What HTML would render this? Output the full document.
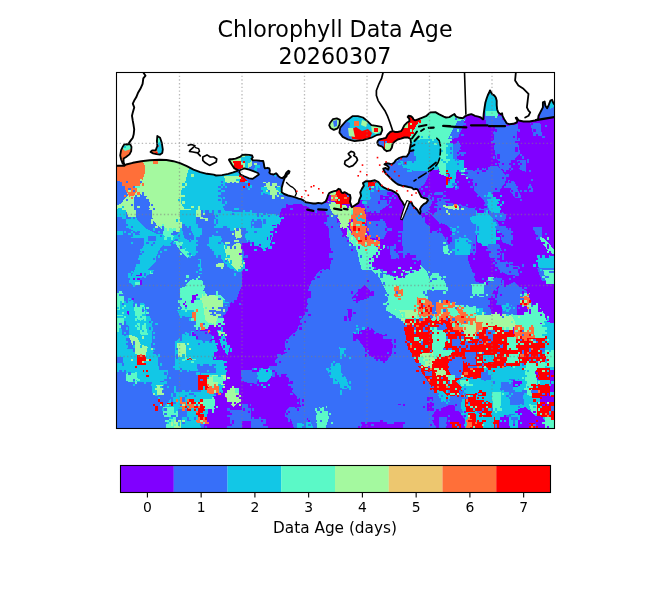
<!DOCTYPE html>
<html><head><meta charset="utf-8"><title>Chlorophyll Data Age</title>
<style>
html,body{margin:0;padding:0;background:#fff;}
svg{display:block;}
text{font-family:"DejaVu Sans","Liberation Sans",sans-serif;fill:#000;}
</style></head><body>
<svg width="653" height="600" viewBox="0 0 653 600">
<rect width="653" height="600" fill="#fff"/>
<text x="335" y="36.5" text-anchor="middle" font-size="22.2">Chlorophyll Data Age</text>
<text x="335" y="63.8" text-anchor="middle" font-size="22.2">20260307</text>
<defs><clipPath id="mc"><rect x="116" y="72" width="438" height="356"/></clipPath></defs>
<g clip-path="url(#mc)" shape-rendering="crispEdges">
<rect x="116" y="72" width="438" height="356" fill="#fff"/>
<svg x="116" y="72" width="110" height="89" viewBox="0 0 653 528.34" preserveAspectRatio="none"><rect width="653" height="529" fill="#a4f99f"/><polygon fill="#ff6f39" points="0,480 150,480 160,528 0,528"/></svg>
<svg x="226" y="72" width="110" height="89" viewBox="0 0 653 528.34" preserveAspectRatio="none"><rect width="653" height="529" fill="#a4f99f"/><polygon fill="#12c7e6" points="0,400 300,400 300,528 0,528"/>
<polygon fill="#a4f99f" points="0,480 160,470 200,528 0,528"/>
<polygon fill="#ff0000" points="40,440 90,440 90,500 45,500"/>
<polygon fill="#5bf9c7" points="80,450 130,450 130,510 80,510"/></svg>
<svg x="336" y="72" width="110" height="89" viewBox="0 0 653 528.34" preserveAspectRatio="none"><rect width="653" height="529" fill="#5bf9c7"/><polygon fill="#ff0000" points="230,392 320,332 392,297 421,250 451,250 487,262 500,279 475,321 451,362 433,398 410,422 380,440 350,469 314,478 267,466 232,436"/>
<polygon fill="#376ff9" points="249,405 285,410 285,445 252,445"/>
<polygon fill="#a4f99f" points="291,421 332,421 332,463 291,463"/>
<polygon fill="#a4f99f" points="400,300 430,300 430,330 400,330"/>
<polygon fill="#12c7e6" points="430,420 520,395 600,400 620,440 617,528 430,528"/>
<polygon fill="#376ff9" points="380,470 460,460 470,528 380,528"/></svg>
<svg x="446" y="72" width="110" height="89" viewBox="0 0 653 528.34" preserveAspectRatio="none"><rect width="653" height="529" fill="#8000ff"/><polygon fill="#5bf9c7" points="0,250 120,255 110,290 60,330 30,380 40,430 50,528 0,528"/>
<polygon fill="#376ff9" points="70,290 110,285 100,330 70,392 10,400 30,360"/>
<polygon fill="#12c7e6" points="0,420 40,420 50,528 0,528"/>
<polygon fill="#376ff9" points="40,430 80,420 90,480 60,528 40,528"/>
<polygon fill="#12c7e6" points="225,100 300,100 312,250 300,270 230,270"/>
<polygon fill="#5bf9c7" points="235,230 305,230 312,290 240,290"/>
<polygon fill="#376ff9" points="230,262 350,262 362,312 240,312"/>
<polygon fill="#376ff9" points="290,330 430,310 420,380 440,480 400,528 300,528 280,420"/>
<polygon fill="#376ff9" points="500,300 560,300 570,380 520,380"/>
<polygon fill="#376ff9" points="560,150 653,150 653,260 560,280"/>
<polygon fill="#12c7e6" points="600,150 653,150 653,200 620,220"/></svg>
<svg x="116" y="161" width="110" height="89" viewBox="0 0 653 528.34" preserveAspectRatio="none"><rect width="653" height="529" fill="#376ff9"/><polygon fill="#a4f99f" points="20,190 100,180 140,130 150,60 140,0 425,0 430,50 405,150 390,220 382,300 390,340 375,380 368,450 345,460 300,425 250,395 232,350 218,300 150,300 90,300 40,310 10,300 15,240"/>
<polygon fill="#376ff9" points="108,212 150,195 190,205 205,240 210,292 180,302 130,292 110,262"/>
<polygon fill="#ff6f39" points="10,35 60,22 150,8 165,40 162,80 150,110 140,140 120,170 100,200 90,218 70,200 58,175 48,150 30,135 10,125"/>
<polygon fill="#ff6f39" points="215,0 250,0 245,20 222,22"/>
<polygon fill="#12c7e6" points="430,40 500,62 560,82 600,96 653,102 653,135 615,150 612,230 600,280 560,300 525,290 495,300 455,300 420,285 390,262 388,200 402,150 420,100"/>
<polygon fill="#12c7e6" points="0,300 40,310 90,300 130,320 120,360 90,368 50,345 20,340 0,345"/>
<polygon fill="#12c7e6" points="110,330 160,320 220,330 235,360 250,395 230,420 200,430 160,410 130,390 110,360"/>
<polygon fill="#12c7e6" points="200,430 240,420 280,440 300,470 290,528 200,528 180,480"/>
<polygon fill="#5bf9c7" points="262,385 300,390 330,410 320,430 285,425"/>
<polygon fill="#5bf9c7" points="330,440 365,440 380,470 370,510 340,515 320,480"/>
<polygon fill="#12c7e6" points="410,285 460,300 520,300 530,340 500,380 480,430 450,450 420,420 400,380 395,330"/>
<polygon fill="#5bf9c7" points="440,290 490,300 500,330 470,350 450,330"/>
<polygon fill="#12c7e6" points="560,330 620,320 653,330 653,420 610,410 575,380"/>
<polygon fill="#12c7e6" points="80,440 140,430 180,450 170,480 120,485 90,470"/>
<polygon fill="#12c7e6" points="600,460 653,450 653,528 610,528"/>
<polygon fill="#12c7e6" points="520,470 560,470 570,500 540,520"/></svg>
<svg x="226" y="161" width="110" height="89" viewBox="0 0 653 528.34" preserveAspectRatio="none"><rect width="653" height="529" fill="#376ff9"/><polygon fill="#12c7e6" points="0,80 60,70 120,100 110,130 60,135 0,130"/>
<polygon fill="#5bf9c7" points="0,95 40,90 50,110 20,120 0,118"/>
<polygon fill="#12c7e6" points="130,110 200,100 280,110 330,130 345,170 340,200 300,205 240,190 180,170 130,150"/>
<polygon fill="#a4f99f" points="200,140 250,150 300,170 330,190 300,200 250,190 210,170"/>
<polygon fill="#5bf9c7" points="80,140 140,150 150,165 100,165"/>
<polygon fill="#12c7e6" points="0,290 20,300 15,340 0,345"/>
<polygon fill="#8000ff" points="335,268 380,262 430,260 480,268 510,288 560,300 590,318 600,360 606,400 620,450 632,528 120,528 130,500 200,492 258,462 278,420 290,385 312,345 325,300"/>
<polygon fill="#12c7e6" points="140,340 200,330 250,318 300,328 330,338 318,380 292,392 280,420 268,460 248,480 210,490 170,480 150,450 140,400"/>
<polygon fill="#12c7e6" points="95,340 140,340 140,380 100,380"/>
<polygon fill="#a4f99f" points="45,390 95,385 105,430 95,470 60,470 40,440"/>
<polygon fill="#12c7e6" points="0,440 45,440 60,470 50,500 0,500"/>
<polygon fill="#a4f99f" points="0,490 40,485 60,528 0,528"/>
<polygon fill="#a4f99f" points="610,190 653,185 653,300 620,300 610,250"/>
<polygon fill="#ff6f39" points="638,200 653,198 653,232 640,230"/></svg>
<svg x="336" y="161" width="110" height="89" viewBox="0 0 653 528.34" preserveAspectRatio="none"><rect width="653" height="529" fill="#8000ff"/><polygon fill="#376ff9" points="270,0 540,0 560,60 530,130 500,160 470,200 420,200 300,150 280,60"/>
<polygon fill="#12c7e6" points="380,0 617,0 610,50 540,60 470,60 400,40"/>
<polygon fill="#5bf9c7" points="600,0 653,0 653,90 620,80"/>
<polygon fill="#376ff9" points="0,250 150,250 170,200 250,190 330,200 400,230 420,260 380,290 300,280 250,270 190,300 160,310 150,528 0,528"/>
<polygon fill="#ff0000" points="0,175 30,170 60,200 80,230 90,260 60,262 20,260 0,258"/>
<polygon fill="#a4f99f" points="0,258 70,262 110,290 120,330 70,335 20,320 0,310"/>
<polygon fill="#ff6f39" points="90,285 140,280 160,300 170,340 165,380 180,420 200,460 230,500 240,528 120,528 100,470 95,420 100,360"/>
<polygon fill="#a4f99f" points="60,380 100,380 110,440 120,528 80,528 70,470"/>
<polygon fill="#12c7e6" points="125,335 150,340 150,360 128,358"/>
<polygon fill="#376ff9" points="200,370 300,375 310,420 260,440 205,430"/>
<polygon fill="#376ff9" points="560,190 653,180 653,380 610,370 600,300 570,260"/>
<polygon fill="#376ff9" points="570,420 653,400 653,528 560,528"/>





<polygon fill="#12c7e6" points="120,200 160,195 170,220 130,225"/></svg>
<svg x="446" y="161" width="110" height="89" viewBox="0 0 653 528.34" preserveAspectRatio="none"><rect width="653" height="529" fill="#8000ff"/><polygon fill="#12c7e6" points="0,0 80,0 82,40 62,80 72,130 40,160 0,160"/>
<polygon fill="#ff0000" points="0,70 20,72 22,140 0,140"/>
<polygon fill="#5bf9c7" points="85,50 110,45 120,65 100,80"/>
<polygon fill="#376ff9" points="240,0 400,0 395,60 360,80 300,60 245,40"/>
<polygon fill="#376ff9" points="430,0 470,0 470,60 440,40"/>
<polygon fill="#376ff9" points="120,55 240,42 300,62 360,82 350,112 300,132 282,172 300,232 332,262 352,320 330,352 290,342 250,322 200,272 160,222 150,182 130,132 110,100"/>
<polygon fill="#376ff9" points="0,272 150,262 180,290 205,320 262,340 302,382 322,422 302,528 0,528"/>
<polygon fill="#12c7e6" points="150,322 232,300 282,330 302,400 302,500 252,528 180,528 170,450 180,400"/>
<polygon fill="#12c7e6" points="240,260 290,250 320,290 300,320 250,310"/>
<polygon fill="#12c7e6" points="20,390 70,385 80,430 30,440"/>
<polygon fill="#a4f99f" points="20,258 70,255 82,280 50,300 20,292"/>
<polygon fill="#ff6f39" points="45,262 62,260 64,275 48,276"/>
<polygon fill="#376ff9" points="370,118 410,140 440,220 400,210 380,170"/>
<polygon fill="#376ff9" points="475,140 505,150 520,185 490,180"/>
<polygon fill="#376ff9" points="300,390 380,400 380,460 320,470"/>
<polygon fill="#12c7e6" points="510,400 560,430 600,480 630,528 580,528 540,470"/></svg>
<svg x="116" y="250" width="110" height="89" viewBox="0 0 653 528.34" preserveAspectRatio="none"><rect width="653" height="529" fill="#376ff9"/><polygon fill="#12c7e6" points="100,60 150,30 200,10 245,0 260,40 240,90 200,140 150,180 110,210 80,190 70,150 100,110"/>
<polygon fill="#5bf9c7" points="200,120 230,110 225,140 205,145"/>
<polygon fill="#8000ff" points="120,150 145,148 148,180 125,182"/>
<polygon fill="#12c7e6" points="385,0 470,0 462,40 420,52 390,32"/>
<polygon fill="#5bf9c7" points="415,10 450,15 440,40 420,40"/>
<polygon fill="#12c7e6" points="560,0 653,0 653,40 600,45 565,30"/>
<polygon fill="#12c7e6" points="490,60 520,60 530,140 500,130"/>
<polygon fill="#5bf9c7" points="610,80 640,80 640,110 612,110"/>
<polygon fill="#5bf9c7" points="380,220 430,180 480,170 520,200 560,230 600,260 653,270 653,528 560,528 520,500 480,470 460,440 440,400 400,380 378,340 372,280"/>
<polygon fill="#a4f99f" points="500,250 560,240 620,270 653,280 653,420 600,400 560,380 520,330"/>
<polygon fill="#376ff9" points="570,350 653,340 653,420 580,410"/>
<polygon fill="#12c7e6" points="440,260 480,250 500,300 470,340 440,320"/>
<polygon fill="#8000ff" points="540,430 600,420 653,430 653,528 540,528"/>
<polygon fill="#ff6f39" points="450,372 472,370 482,418 458,420"/>
<polygon fill="#ff6f39" points="492,432 520,440 530,490 500,485"/>
<polygon fill="#8000ff" points="455,280 470,275 468,300 455,302"/>
<polygon fill="#12c7e6" points="0,260 40,270 80,300 130,320 170,330 182,380 200,430 212,480 200,528 0,528"/>
<polygon fill="#5bf9c7" points="0,260 40,270 50,330 20,350 0,340"/>
<polygon fill="#5bf9c7" points="110,320 170,330 175,370 130,380 100,360"/>
<polygon fill="#a4f99f" points="30,460 90,450 110,500 90,528 30,528"/>
<polygon fill="#5bf9c7" points="140,420 190,420 205,470 160,480"/>
<polygon fill="#8000ff" points="70,288 110,286 105,300 72,300"/>
<polygon fill="#8000ff" points="62,340 92,338 88,370 64,372"/></svg>
<svg x="226" y="250" width="110" height="89" viewBox="0 0 653 528.34" preserveAspectRatio="none"><rect width="653" height="529" fill="#8000ff"/><polygon fill="#376ff9" points="0,0 120,0 118,30 100,40 95,100 90,150 85,200 80,260 60,290 40,300 35,400 20,430 0,430"/>
<polygon fill="#12c7e6" points="0,0 95,0 100,60 95,110 80,150 50,140 0,100"/>
<polygon fill="#a4f99f" points="0,0 60,0 60,40 30,60 0,60"/>
<polygon fill="#5bf9c7" points="60,80 90,75 95,110 70,120"/>
<polygon fill="#12c7e6" points="0,310 30,305 35,390 15,400 0,390"/>
<polygon fill="#376ff9" points="620,0 653,0 653,528 370,528 380,510 420,480 440,420 470,380 480,330 485,280 490,230 510,180 540,140 560,120 600,110 640,80 635,40"/></svg>
<svg x="336" y="250" width="110" height="89" viewBox="0 0 653 528.34" preserveAspectRatio="none"><rect width="653" height="529" fill="#376ff9"/><polygon fill="#5bf9c7" points="140,0 210,0 200,40 230,100 280,140 380,170 420,150 460,110 500,90 540,130 560,180 600,150 630,160 653,200 653,290 600,300 560,280 520,290 480,300 450,320 440,380 430,420 440,470 460,528 450,528 420,470 400,420 350,390 300,360 290,320 310,300 300,250 280,210 260,170 220,130 190,90 160,40"/>
<polygon fill="#8000ff" points="200,0 390,0 400,40 470,60 505,70 500,100 440,110 420,140 380,170 330,150 280,130 240,100 210,60"/>
<polygon fill="#5bf9c7" points="375,80 420,85 430,110 400,130 380,110"/>
<polygon fill="#376ff9" points="540,0 653,0 653,140 620,150 600,110 560,80 540,40"/>
<polygon fill="#5bf9c7" points="565,150 610,150 620,200 600,250 570,240"/>
<polygon fill="#ff6f39" points="345,210 372,212 382,278 350,280"/>
<polygon fill="#ff6f39" points="475,290 530,280 560,300 600,310 640,300 653,300 653,400 600,400 560,390 500,380 470,350 460,320"/>
<polygon fill="#a4f99f" points="350,350 400,345 450,360 440,400 390,400"/>
<polygon fill="#ff0000" points="420,400 480,395 540,380 600,400 653,400 653,528 420,528 410,480"/>
<polygon fill="#376ff9" points="560,440 600,420 640,440 620,480 570,470"/>
<polygon fill="#ff6f39" points="600,360 653,340 653,420 610,410"/>
<polygon fill="#ff0000" points="500,320 540,310 560,350 520,370"/>
<polygon fill="#8000ff" points="95,280 140,240 170,210 200,240 220,270 180,290 140,300 100,300"/>
<polygon fill="#8000ff" points="68,350 95,350 98,400 72,402"/>
<polygon fill="#8000ff" points="100,490 180,470 210,460 240,490 300,510 300,528 100,528"/>
<polygon fill="#12c7e6" points="100,465 135,462 138,500 105,500"/></svg>
<svg x="446" y="250" width="110" height="89" viewBox="0 0 653 528.34" preserveAspectRatio="none"><rect width="653" height="529" fill="#8000ff"/><polygon fill="#376ff9" points="0,0 130,0 140,40 130,80 160,130 200,190 240,200 270,230 300,280 310,340 280,370 230,380 180,360 140,340 100,330 60,320 0,310"/>
<polygon fill="#12c7e6" points="70,0 130,0 128,22 80,20"/>
<polygon fill="#376ff9" points="180,0 290,0 300,50 260,60 200,40"/>
<polygon fill="#376ff9" points="290,60 380,70 400,110 360,130 310,110"/>
<polygon fill="#376ff9" points="390,90 460,95 455,150 400,140"/>
<polygon fill="#376ff9" points="250,172 320,180 360,200 420,200 432,240 440,280 420,320 380,350 340,362 300,320 270,250"/>
<polygon fill="#12c7e6" points="540,20 620,30 640,80 640,180 600,200 570,150 550,100"/>
<polygon fill="#5bf9c7" points="150,210 200,215 210,280 190,330 160,320"/>
<polygon fill="#ff6f39" points="0,310 60,320 140,340 200,370 260,380 320,380 380,362 430,330 480,332 520,352 560,380 600,420 640,440 640,528 0,528"/>
<polygon fill="#a4f99f" points="120,370 200,372 260,382 320,380 380,362 410,380 400,440 350,470 260,440 180,410"/>
<polygon fill="#5bf9c7" points="380,362 430,330 480,332 520,352 560,380 600,420 640,440 640,500 560,480 500,450 420,440 400,400"/>
<polygon fill="#ff0000" points="0,400 60,390 120,410 180,410 260,440 300,430 350,470 390,500 380,528 0,528"/>
<polygon fill="#376ff9" points="0,420 30,420 40,470 0,470"/>
<polygon fill="#ff6f39" points="440,280 490,282 500,330 450,332"/>
<polygon fill="#ff0000" points="60,330 100,335 95,360 65,360"/>
<polygon fill="#5bf9c7" points="520,450 600,430 653,440 653,528 540,528"/>
<polygon fill="#12c7e6" points="600,470 653,460 653,528 610,528"/>
<polygon fill="#ff0000" points="400,470 440,460 470,490 450,528 400,528"/>
<polygon fill="#ff6f39" points="150,300 185,300 190,340 160,345"/>
<polygon fill="#a4f99f" points="40,340 80,345 90,370 50,372"/></svg>
<svg x="116" y="339" width="110" height="89" viewBox="0 0 653 528.34" preserveAspectRatio="none"><rect width="653" height="529" fill="#376ff9"/><polygon fill="#8000ff" points="600,0 653,0 653,528 520,528 540,450 560,380 580,330 610,260 620,200 600,150 590,60"/>
<polygon fill="#12c7e6" points="40,110 120,90 200,60 240,90 300,60 360,40 420,0 585,0 600,100 590,200 530,200 480,160 420,140 350,180 300,200 260,222 200,252 120,252 60,222 50,160"/>
<polygon fill="#376ff9" points="420,140 480,160 530,200 500,220 440,215 400,190"/>
<polygon fill="#5bf9c7" points="0,0 220,0 230,40 200,70 140,80 100,60 40,50 0,40"/>
<polygon fill="#a4f99f" points="110,10 200,5 215,50 170,75 120,60"/>
<polygon fill="#a4f99f" points="310,40 400,30 410,100 340,110"/>
<polygon fill="#376ff9" points="225,0 350,0 330,40 260,60 235,45"/>
<polygon fill="#12c7e6" points="240,300 300,280 360,300 420,310 500,300 550,330 560,380 540,430 522,470 505,528 262,528 252,470 242,400"/>
<polygon fill="#12c7e6" points="60,200 120,205 130,250 90,260 60,240"/>
<polygon fill="#ff0000" points="122,92 180,110 185,150 140,155"/>
<polygon fill="#ff0000" points="160,175 190,178 188,198 162,196"/>
<polygon fill="#ff0000" points="490,210 550,215 545,280 495,290"/>
<polygon fill="#ff0000" points="375,150 420,155 418,190 380,192"/>
<polygon fill="#ff0000" points="250,372 330,375 325,400 255,398"/>
<polygon fill="#ff0000" points="380,350 410,352 408,385 382,385"/>
<polygon fill="#ff0000" points="430,385 520,380 525,420 440,425"/>
<polygon fill="#ff6f39" points="560,260 625,255 620,330 565,335"/>
<polygon fill="#ff6f39" points="410,400 460,395 470,430 420,430"/>
<polygon fill="#ff6f39" points="470,450 535,448 540,505 485,500"/>
<polygon fill="#5bf9c7" points="360,250 410,248 420,300 370,305"/>
<polygon fill="#5bf9c7" points="290,420 360,420 370,480 300,490"/></svg>
<svg x="226" y="339" width="110" height="89" viewBox="0 0 653 528.34" preserveAspectRatio="none"><rect width="653" height="529" fill="#376ff9"/><polygon fill="#8000ff" points="0,0 355,0 350,40 360,80 320,102 290,130 262,152 250,180 300,205 350,210 362,250 382,300 432,342 440,382 400,400 380,440 392,500 372,528 150,528 150,420 60,410 20,400 0,400"/>
<polygon fill="#376ff9" points="88,185 130,185 170,215 160,250 100,250 88,230"/>
<polygon fill="#12c7e6" points="190,220 220,180 260,180 280,220 250,250 210,262"/>
<polygon fill="#376ff9" points="20,410 90,410 150,420 155,528 30,528"/>
<polygon fill="#376ff9" points="80,290 120,300 140,360 100,380 80,360"/>
<polygon fill="#a4f99f" points="10,295 60,290 80,340 60,390 30,395 10,360"/>
<polygon fill="#12c7e6" points="0,60 15,60 15,100 0,100"/>
<polygon fill="#5bf9c7" points="0,130 12,130 12,260 0,260"/>
<polygon fill="#ff6f39" points="0,330 10,330 10,352 0,352"/>
<polygon fill="#12c7e6" points="600,185 640,150 653,150 653,240 620,230"/>
<polygon fill="#5bf9c7" points="530,410 600,400 610,470 590,528 540,528"/>
<polygon fill="#12c7e6" points="420,500 500,490 520,528 420,528"/>
<polygon fill="#8000ff" points="480,470 500,470 500,490 480,490"/></svg>
<svg x="336" y="339" width="110" height="89" viewBox="0 0 653 528.34" preserveAspectRatio="none"><rect width="653" height="529" fill="#376ff9"/><polygon fill="#8000ff" points="130,0 320,0 342,40 330,90 300,132 240,132 200,100 160,40"/>
<polygon fill="#ff0000" points="420,0 653,0 653,340 600,300 560,262 520,200 490,160 470,110 450,60 430,30"/>
<polygon fill="#5bf9c7" points="555,0 625,0 620,30 560,30"/>
<polygon fill="#376ff9" points="600,30 653,30 653,90 610,85"/>
<polygon fill="#a4f99f" points="490,90 560,95 565,160 500,160"/>
<polygon fill="#a4f99f" points="590,170 650,165 650,230 600,232"/>
<polygon fill="#376ff9" points="505,175 560,175 555,240 515,230"/>
<polygon fill="#12c7e6" points="580,290 620,300 653,320 653,380 620,370 590,330"/>
<polygon fill="#8000ff" points="530,350 580,380 600,420 653,400 653,528 560,528 540,480 530,420"/>
<polygon fill="#8000ff" points="150,490 400,490 400,528 150,528"/>
<polygon fill="#8000ff" points="365,375 390,372 390,392 368,392"/>
<polygon fill="#12c7e6" points="0,130 25,130 30,200 60,230 80,290 40,300 10,250 0,240"/>
<polygon fill="#12c7e6" points="20,50 60,55 60,110 25,105"/></svg>
<svg x="446" y="339" width="110" height="89" viewBox="0 0 653 528.34" preserveAspectRatio="none"><rect width="653" height="529" fill="#12c7e6"/><polygon fill="#ff0000" points="0,0 653,0 653,200 600,180 560,140 500,130 440,150 380,170 320,200 260,180 200,160 150,200 110,240 100,300 60,330 30,330 0,320"/>
<polygon fill="#5bf9c7" points="0,0 40,0 45,80 0,85"/>
<polygon fill="#5bf9c7" points="380,0 450,0 440,60 390,60"/>
<polygon fill="#5bf9c7" points="580,0 653,0 653,100 600,100"/>
<polygon fill="#376ff9" points="30,100 110,100 112,170 100,230 40,225"/>
<polygon fill="#376ff9" points="200,60 250,65 240,100 210,95"/>
<polygon fill="#5bf9c7" points="240,120 300,110 320,150 270,170"/>
<polygon fill="#8000ff" points="540,200 600,200 653,210 653,290 560,290"/>
<polygon fill="#ff0000" points="540,290 653,290 653,440 560,430 550,350"/>
<polygon fill="#ff0000" points="120,330 200,335 260,360 265,440 200,440 130,420"/>
<polygon fill="#376ff9" points="0,330 100,340 120,380 90,440 60,460 30,528 0,528"/>
<polygon fill="#8000ff" points="0,385 60,400 90,460 80,528 0,528"/>
<polygon fill="#8000ff" points="430,420 520,400 560,430 560,528 430,528"/>
<polygon fill="#5bf9c7" points="560,440 653,440 653,528 560,528"/>
<polygon fill="#8000ff" points="380,240 420,240 420,280 385,280"/>
<polygon fill="#376ff9" points="380,320 500,320 490,380 390,380"/>
<polygon fill="#ff0000" points="270,480 360,480 360,528 270,528"/>
<polygon fill="#ff6f39" points="130,480 160,480 160,528 130,528"/>
<polygon fill="#5bf9c7" points="270,300 330,300 330,360 280,370"/></svg>
<svg x="396" y="290" width="80" height="60" viewBox="0 0 653 489.75" preserveAspectRatio="none"><rect width="653" height="490" fill="#5bf9c7"/>
<polygon fill="#ff6f39" points="0,0 40,0 40,60 0,60"/>
<polygon fill="#376ff9" points="250,0 653,0 653,60 620,90 560,70 520,100 420,90 370,100 330,150 300,230 280,240 270,160 260,60"/>
<polygon fill="#5bf9c7" points="490,10 560,10 560,60 500,60"/>
<polygon fill="#5bf9c7" points="520,60 653,60 653,170 600,180 540,170"/>
<polygon fill="#376ff9" points="560,90 653,80 653,130 600,140"/>
<polygon fill="#ff6f39" points="170,60 250,70 290,100 290,200 240,220 200,230 180,200 175,150"/>
<polygon fill="#ff0000" points="200,120 250,120 250,150 210,155"/>
<polygon fill="#ff6f39" points="330,100 400,80 470,100 520,110 540,160 560,200 653,190 653,330 470,330 420,260 340,250 320,220"/>
<polygon fill="#5bf9c7" points="420,150 480,140 520,200 470,220 430,200"/>
<polygon fill="#a4f99f" points="20,160 180,170 170,230 60,230"/>
<polygon fill="#ff0000" points="80,240 280,230 300,260 330,240 460,250 470,330 560,330 653,330 653,490 100,490 80,380 60,300"/>
<polygon fill="#376ff9" points="0,230 80,240 60,300 80,380 100,490 0,490"/>
<polygon fill="#5bf9c7" points="290,330 400,320 410,400 390,490 290,490 300,420"/>
<polygon fill="#a4f99f" points="540,280 653,270 653,380 560,380"/>
<polygon fill="#376ff9" points="330,280 400,270 420,320 340,330"/>
<polygon fill="#376ff9" points="200,300 240,300 240,340 200,340"/>
<polygon fill="#376ff9" points="450,400 520,400 530,460 460,460"/>
<polygon fill="#5bf9c7" points="150,380 200,380 190,420 150,420"/>
<polygon fill="#376ff9" points="560,420 620,410 630,470 570,470"/></svg>
<svg x="476" y="290" width="80" height="60" viewBox="0 0 653 489.75" preserveAspectRatio="none"><rect width="653" height="490" fill="#8000ff"/>
<polygon fill="#376ff9" points="0,0 350,0 350,60 330,120 340,210 200,200 120,210 40,220 0,220"/>
<polygon fill="#12c7e6" points="0,0 40,0 40,20 0,25"/>
<polygon fill="#8000ff" points="120,30 200,20 210,100 190,200 130,200 110,120"/>
<polygon fill="#12c7e6" points="200,80 260,60 300,100 280,160 220,170"/>
<polygon fill="#ff6f39" points="370,80 440,80 445,130 380,135"/>
<polygon fill="#5bf9c7" points="430,130 520,140 560,200 580,260 500,280 440,260 420,200"/>
<polygon fill="#12c7e6" points="560,250 653,280 653,490 560,490 540,400"/>
<polygon fill="#12c7e6" points="0,150 60,150 60,220 0,225"/>
<polygon fill="#a4f99f" points="0,200 120,200 200,195 340,210 330,300 250,320 100,300 0,290"/>
<polygon fill="#5bf9c7" points="290,200 420,200 480,260 470,300 330,300"/>
<polygon fill="#ff0000" points="0,300 100,290 250,310 300,330 310,400 320,490 0,490"/>
<polygon fill="#ff6f39" points="0,260 60,260 60,340 0,340"/>
<polygon fill="#376ff9" points="80,320 140,320 140,400 80,400"/>
<polygon fill="#376ff9" points="180,440 220,440 220,480 180,480"/>
<polygon fill="#376ff9" points="20,400 60,400 60,440 20,440"/>
<polygon fill="#ff6f39" points="310,300 480,300 480,400 310,400"/>
<polygon fill="#5bf9c7" points="470,280 560,280 560,390 480,390"/>
<polygon fill="#ff0000" points="320,400 560,390 560,490 320,490"/>
<polygon fill="#5bf9c7" points="250,380 330,380 330,490 250,490"/></svg>
<svg x="396" y="350" width="80" height="60" viewBox="0 0 653 489.75" preserveAspectRatio="none"><rect width="653" height="490" fill="#376ff9"/>
<polygon fill="#ff0000" points="110,0 653,0 653,230 600,250 560,280 520,310 480,330 430,340 380,330 320,315 290,300 260,250 220,200 190,150 160,100 140,50"/>
<polygon fill="#a4f99f" points="200,30 300,20 320,80 290,130 230,140 190,100"/>
<polygon fill="#5bf9c7" points="300,0 460,0 450,40 380,60 310,60"/>
<polygon fill="#5bf9c7" points="180,60 230,60 240,120 190,120"/>
<polygon fill="#a4f99f" points="310,150 400,150 410,210 330,215"/>
<polygon fill="#376ff9" points="440,60 540,60 550,150 530,230 460,230 430,160"/>
<polygon fill="#376ff9" points="230,170 290,170 290,210 240,210"/>
<polygon fill="#5bf9c7" points="420,200 480,200 480,260 430,260"/>
<polygon fill="#376ff9" points="560,20 653,20 653,120 580,120"/>
<polygon fill="#12c7e6" points="320,320 420,330 440,380 420,420 360,420 330,380"/>
<polygon fill="#12c7e6" points="480,260 560,220 600,230 653,220 653,490 540,490 520,400 470,360"/>
<polygon fill="#ff0000" points="560,350 653,340 653,490 570,490"/>
<polygon fill="#8000ff" points="250,390 290,390 290,420 250,420"/>
<polygon fill="#8000ff" points="280,430 330,430 330,490 280,490"/>
<polygon fill="#8000ff" points="20,420 50,420 50,450 20,450"/>
<polygon fill="#8000ff" points="350,450 480,450 480,490 350,490"/></svg>
<svg x="476" y="350" width="80" height="60" viewBox="0 0 653 489.75" preserveAspectRatio="none"><rect width="653" height="490" fill="#12c7e6"/>
<polygon fill="#ff0000" points="0,0 653,0 653,100 560,110 470,110 420,120 330,130 250,140 150,150 60,140 0,140"/>
<polygon fill="#12c7e6" points="60,40 150,40 150,100 60,100"/>
<polygon fill="#5bf9c7" points="250,30 350,30 350,110 260,110"/>
<polygon fill="#5bf9c7" points="560,0 653,0 653,140 580,140"/>
<polygon fill="#ff0000" points="0,140 60,130 70,230 0,230"/>
<polygon fill="#376ff9" points="40,180 120,180 120,250 40,250"/>
<polygon fill="#376ff9" points="270,240 350,240 350,320 270,320"/>
<polygon fill="#8000ff" points="285,250 330,250 330,290 285,290"/>
<polygon fill="#376ff9" points="280,360 420,360 420,450 280,450"/>
<polygon fill="#5bf9c7" points="410,110 560,100 570,200 560,340 420,340 400,220"/>
<polygon fill="#8000ff" points="480,170 653,160 653,330 560,330 500,250"/>
<polygon fill="#ff0000" points="500,150 600,150 600,250 520,250"/>
<polygon fill="#ff0000" points="430,300 653,300 653,490 430,490"/>
<polygon fill="#8000ff" points="530,380 620,380 620,450 530,450"/>
<polygon fill="#ff0000" points="0,340 150,340 150,490 0,490"/>
<polygon fill="#12c7e6" points="60,400 120,400 120,450 60,450"/></svg>
<svg x="396" y="380" width="80" height="60" viewBox="0 0 653 489.75" preserveAspectRatio="none"><rect width="653" height="490" fill="#376ff9"/>
<polygon fill="#ff0000" points="250,0 560,0 560,60 520,110 470,130 400,130 360,100 310,90 280,40"/>
<polygon fill="#12c7e6" points="320,80 380,90 420,130 440,180 400,180 350,140"/>
<polygon fill="#12c7e6" points="480,0 653,0 653,392 560,392 560,300 530,220 540,140 560,80"/>
<polygon fill="#5bf9c7" points="520,0 600,0 590,50 530,50"/>
<polygon fill="#ff0000" points="560,120 653,110 653,260 570,260"/>
<polygon fill="#ff0000" points="590,280 653,280 653,392 600,392"/>
<polygon fill="#ff6f39" points="580,320 620,320 620,380 580,380"/>
<polygon fill="#8000ff" points="290,300 330,240 400,220 440,200 480,210 520,260 560,320 560,392 330,392 300,340"/>
<polygon fill="#376ff9" points="350,300 420,300 420,392 350,392"/>
<polygon fill="#8000ff" points="250,140 300,140 300,170 250,170"/>
<polygon fill="#8000ff" points="250,190 310,190 310,250 250,250"/>
<polygon fill="#8000ff" points="0,340 60,340 60,392 0,392"/>
<polygon fill="#8000ff" points="20,180 40,180 40,200 20,200"/>
<polygon fill="#ff0000" points="460,340 530,340 530,392 460,392"/></svg>
<svg x="476" y="380" width="80" height="60" viewBox="0 0 653 489.75" preserveAspectRatio="none"><rect width="653" height="490" fill="#12c7e6"/>
<polygon fill="#5bf9c7" points="130,100 200,100 210,250 140,250"/>
<polygon fill="#5bf9c7" points="400,0 500,0 500,130 420,130"/>
<polygon fill="#5bf9c7" points="440,200 560,200 560,280 450,280"/>
<polygon fill="#5bf9c7" points="560,280 653,270 653,392 560,392"/>
<polygon fill="#376ff9" points="270,100 380,100 390,200 280,200"/>
<polygon fill="#376ff9" points="200,20 300,20 300,100 210,100"/>
<polygon fill="#8000ff" points="300,0 340,0 340,60 300,60"/>
<polygon fill="#ff0000" points="0,160 60,160 130,190 130,300 60,300 0,260"/>
<polygon fill="#ff0000" points="20,100 80,100 80,130 20,130"/>
<polygon fill="#ff0000" points="150,300 200,300 200,392 150,392"/>
<polygon fill="#ff0000" points="450,40 600,40 600,150 460,150"/>
<polygon fill="#8000ff" points="520,130 653,130 653,200 520,200"/>
<polygon fill="#ff0000" points="500,180 653,180 653,300 500,300"/>
<polygon fill="#8000ff" points="600,0 653,0 653,100 600,100"/>
<polygon fill="#8000ff" points="340,240 400,220 440,250 480,290 540,300 560,330 560,392 340,392"/>
<polygon fill="#8000ff" points="190,300 280,300 280,392 190,392"/>
<polygon fill="#376ff9" points="270,280 320,280 320,330 270,330"/>
<polygon fill="#ff0000" points="0,340 60,340 60,392 0,392"/>
<polygon fill="#ff0000" points="430,350 480,350 480,392 430,392"/></svg>
<svg x="116" y="250" width="80" height="60" viewBox="0 0 653 489.75" preserveAspectRatio="none"><rect width="653" height="490" fill="#376ff9"/>
<polygon fill="#12c7e6" points="150,100 200,50 260,20 300,0 340,10 355,80 330,140 300,180 250,210 200,230 190,270 160,292 130,280 100,262 120,222 140,190 150,150"/>
<polygon fill="#8000ff" points="165,202 192,202 200,240 175,250"/>
<polygon fill="#5bf9c7" points="168,252 200,252 202,288 172,290"/>
<polygon fill="#5bf9c7" points="280,170 302,170 302,192 280,192"/>
<polygon fill="#12c7e6" points="530,0 653,0 653,40 600,70 560,60 540,30"/>
<polygon fill="#5bf9c7" points="580,20 640,20 640,50 590,60"/>
<polygon fill="#5bf9c7" points="520,310 560,300 600,250 640,230 653,230 653,490 530,490 520,400"/>
<polygon fill="#5bf9c7" points="570,200 592,200 592,230 570,230"/>
<polygon fill="#8000ff" points="620,370 653,370 653,410 622,410"/>
<polygon fill="#8000ff" points="550,420 570,420 570,450 550,450"/>
<polygon fill="#5bf9c7" points="0,350 60,350 70,420 40,490 0,490"/>
<polygon fill="#12c7e6" points="30,420 100,410 150,430 240,440 240,490 30,490"/>
<polygon fill="#5bf9c7" points="150,440 230,450 240,490 150,490"/>
<polygon fill="#8000ff" points="130,390 150,390 150,410 130,410"/></svg>
<svg x="116" y="310" width="80" height="60" viewBox="0 0 653 489.75" preserveAspectRatio="none"><rect width="653" height="490" fill="#376ff9"/>
<polygon fill="#12c7e6" points="0,0 250,0 280,60 300,150 290,250 300,330 340,380 350,490 0,490"/>
<polygon fill="#5bf9c7" points="0,40 60,40 70,120 30,150 0,140"/>
<polygon fill="#5bf9c7" points="150,0 230,0 250,60 200,90 160,60"/>
<polygon fill="#376ff9" points="40,110 100,110 110,200 50,200"/>
<polygon fill="#376ff9" points="80,230 140,230 140,320 90,320"/>
<polygon fill="#a4f99f" points="100,200 170,220 200,280 260,300 240,380 160,380 140,300"/>
<polygon fill="#5bf9c7" points="180,120 240,120 260,200 200,200"/>
<polygon fill="#ff0000" points="170,370 240,370 245,450 175,450"/>
<polygon fill="#376ff9" points="0,380 60,380 60,430 0,430"/>
<polygon fill="#12c7e6" points="480,260 520,230 600,180 653,160 653,490 480,490"/>
<polygon fill="#a4f99f" points="500,270 570,270 570,380 505,380"/>
<polygon fill="#5bf9c7" points="560,380 653,380 653,490 560,490"/>
<polygon fill="#ff0000" points="520,430 560,430 560,470 520,470"/>
<polygon fill="#ff0000" points="580,390 620,390 620,420 580,420"/>
<polygon fill="#12c7e6" points="500,0 653,0 653,60 520,50"/>
<polygon fill="#ff6f39" points="620,20 650,20 650,90 625,90"/>
<polygon fill="#8000ff" points="620,180 650,180 650,210 620,210"/>
<polygon fill="#8000ff" points="90,10 110,10 110,40 90,40"/></svg>
<svg x="116" y="370" width="80" height="60" viewBox="0 0 653 489.75" preserveAspectRatio="none"><rect width="653" height="490" fill="#376ff9"/>
<polygon fill="#12c7e6" points="80,0 420,0 430,60 400,90 300,100 200,100 150,100 80,90"/>
<polygon fill="#5bf9c7" points="80,30 160,20 180,80 120,100 80,90"/>
<polygon fill="#12c7e6" points="540,0 653,0 653,60 560,60"/>
<polygon fill="#12c7e6" points="290,100 390,100 390,210 300,210"/>
<polygon fill="#a4f99f" points="330,120 380,120 380,200 335,200"/>
<polygon fill="#12c7e6" points="470,100 560,80 653,60 653,490 420,490 400,400 380,320 420,270 470,200"/>
<polygon fill="#376ff9" points="560,330 653,340 653,420 580,420"/>
<polygon fill="#ff0000" points="510,120 560,120 560,160 510,160"/>
<polygon fill="#ff6f39" points="520,230 560,230 560,280 520,280"/>
<polygon fill="#ff0000" points="580,270 653,260 653,330 590,330"/>
<polygon fill="#8000ff" points="590,320 612,320 612,342 590,342"/>
<polygon fill="#5bf9c7" points="380,300 470,300 470,380 390,380"/>
<polygon fill="#a4f99f" points="470,390 530,390 530,490 470,490"/>
<polygon fill="#5bf9c7" points="400,400 470,400 470,490 410,490"/>
<polygon fill="#ff0000" points="340,260 380,260 380,292 340,292"/>
<polygon fill="#ff0000" points="420,270 455,270 455,292 420,292"/>
<polygon fill="#ff0000" points="220,0 260,0 260,20 220,20"/></svg>
<svg x="176" y="360" width="80" height="60" viewBox="0 0 653 489.75" preserveAspectRatio="none"><rect width="653" height="490" fill="#8000ff"/>
<polygon fill="#376ff9" points="520,80 620,80 620,200 530,200"/>
<polygon fill="#376ff9" points="470,240 640,240 653,300 653,400 600,420 560,490 440,490 440,380"/>
<polygon fill="#a4f99f" points="410,230 480,230 500,300 480,360 420,360"/>
<polygon fill="#12c7e6" points="0,0 380,0 400,60 410,130 400,200 350,280 300,300 280,350 260,420 250,490 0,490"/>
<polygon fill="#376ff9" points="170,30 330,30 330,110 180,110"/>
<polygon fill="#376ff9" points="0,80 200,90 200,260 0,260"/>
<polygon fill="#12c7e6" points="0,0 100,0 100,80 0,80"/>
<polygon fill="#ff0000" points="180,120 270,120 270,230 180,230"/>
<polygon fill="#a4f99f" points="250,120 410,120 400,200 330,220 260,220"/>
<polygon fill="#5bf9c7" points="300,130 380,130 380,180 300,180"/>
<polygon fill="#ff6f39" points="270,210 350,210 350,280 270,280"/>
<polygon fill="#ff6f39" points="30,300 80,300 80,380 30,380"/>
<polygon fill="#ff0000" points="90,340 240,340 240,420 90,420"/>
<polygon fill="#ff6f39" points="100,360 160,360 160,400 100,400"/>
<polygon fill="#ff0000" points="180,440 230,440 230,490 180,490"/>
<polygon fill="#5bf9c7" points="220,320 320,320 320,400 225,400"/>
<polygon fill="#376ff9" points="0,400 90,400 90,490 0,490"/></svg>
<svg x="226" y="370" width="80" height="60" viewBox="0 0 653 489.75" preserveAspectRatio="none"><rect width="653" height="490" fill="#8000ff"/>
<polygon fill="#376ff9" points="120,0 300,0 290,50 250,100 200,110 130,90"/>
<polygon fill="#12c7e6" points="260,0 380,0 370,60 330,100 270,100"/>
<polygon fill="#376ff9" points="430,40 500,30 520,100 540,180 600,230 610,300 520,300 490,330 480,380 530,400 560,490 653,490 653,0 380,0 390,30"/>
<polygon fill="#a4f99f" points="10,150 110,150 110,260 60,300 10,260"/>
<polygon fill="#5bf9c7" points="70,150 110,150 110,190 70,190"/>
<polygon fill="#376ff9" points="30,330 130,330 130,490 30,490"/>
<polygon fill="#376ff9" points="130,280 200,280 200,420 130,420"/>
<polygon fill="#376ff9" points="200,400 330,400 330,490 200,490"/>
<polygon fill="#12c7e6" points="580,430 620,430 620,490 580,490"/>
<polygon fill="#ff6f39" points="0,200 12,200 12,230 0,230"/></svg>
<svg x="116" y="160" width="80" height="60" viewBox="0 0 653 489.75" preserveAspectRatio="none"><rect width="653" height="490" fill="#a4f99f"/>
<polygon fill="#ff6f39" points="10,20 150,20 220,15 240,60 230,130 200,200 170,240 150,290 110,300 80,250 60,200 20,180 10,170"/>
<polygon fill="#ff6f39" points="300,10 340,10 340,30 300,30"/>
<polygon fill="#376ff9" points="0,170 60,180 80,250 100,290 60,330 40,360 0,370"/>
<polygon fill="#376ff9" points="150,300 200,280 260,300 280,360 270,420 300,490 170,490 150,400"/>
<polygon fill="#12c7e6" points="530,250 560,200 580,120 600,50 653,50 653,420 600,400 560,400 530,350"/>
<polygon fill="#12c7e6" points="0,400 40,390 100,420 130,490 0,490"/>
<polygon fill="#376ff9" points="0,440 60,440 60,490 0,490"/>
<polygon fill="#12c7e6" points="510,420 600,410 653,420 653,490 510,490"/>
<polygon fill="#376ff9" points="520,450 560,450 560,490 520,490"/></svg>
<svg x="196" y="170" width="80" height="60" viewBox="0 0 653 489.75" preserveAspectRatio="none"><rect width="653" height="490" fill="#12c7e6"/>
<polygon fill="#376ff9" points="200,120 300,90 400,85 500,80 560,60 653,70 653,360 500,350 300,340 230,330 210,250"/>
<polygon fill="#a4f99f" points="230,50 350,50 350,100 240,100"/>
<polygon fill="#ff0000" points="350,40 440,40 440,100 360,100"/>
<polygon fill="#12c7e6" points="520,100 653,100 653,200 540,190"/>
<polygon fill="#a4f99f" points="580,130 653,130 653,200 590,200"/>
<polygon fill="#12c7e6" points="420,120 460,120 460,145 420,145"/>
<polygon fill="#376ff9" points="0,330 150,330 160,400 140,490 0,490"/>
<polygon fill="#a4f99f" points="0,330 40,330 40,380 0,380"/>
<polygon fill="#a4f99f" points="60,390 100,390 100,420 60,420"/>
<polygon fill="#12c7e6" points="150,400 240,400 240,490 150,490"/>
<polygon fill="#12c7e6" points="370,370 653,360 653,490 370,490"/>
<polygon fill="#376ff9" points="450,420 540,420 540,490 450,490"/>
<polygon fill="#8000ff" points="620,450 653,450 653,490 620,490"/></svg>
<svg x="116" y="210" width="80" height="60" viewBox="0 0 653 489.75" preserveAspectRatio="none"><rect width="653" height="490" fill="#376ff9"/>
<polygon fill="#12c7e6" points="0,0 80,0 80,60 0,60"/>
<polygon fill="#a4f99f" points="80,0 160,0 160,60 100,60"/>
<polygon fill="#a4f99f" points="290,0 520,0 520,180 470,175 380,160 330,120 300,80"/>
<polygon fill="#12c7e6" points="520,0 653,0 653,370 620,380 580,340 540,290 500,230 470,250 430,280 380,290 350,330 330,380 330,420 300,450 260,490 150,490 180,400 200,340 230,280 230,230 200,200 240,150 280,170 340,200 400,190 460,200 500,200 520,180"/>
<polygon fill="#12c7e6" points="100,60 160,60 200,110 240,150 200,200 160,180 100,150"/>
<polygon fill="#5bf9c7" points="380,140 460,150 470,220 420,240 380,200"/>
<polygon fill="#5bf9c7" points="470,250 540,260 580,330 620,370 580,390 520,330"/>
<polygon fill="#376ff9" points="530,130 600,130 630,200 600,250 560,230"/>
<polygon fill="#376ff9" points="260,210 330,210 330,250 260,250"/>
<polygon fill="#12c7e6" points="0,170 60,170 60,200 0,200"/>
<polygon fill="#12c7e6" points="120,200 230,200 230,230 120,230"/></svg>
<svg x="456" y="160" width="100" height="75" viewBox="0 0 653 489.75" preserveAspectRatio="none"><rect width="653" height="490" fill="#8000ff"/>
<polygon fill="#12c7e6" points="0,0 50,0 50,60 30,80 0,80"/>
<polygon fill="#5bf9c7" points="30,50 70,50 70,100 35,100"/>
<polygon fill="#376ff9" points="60,60 120,70 180,60 230,40 270,40 300,70 330,110 320,150 290,190 260,180 240,210 230,260 270,290 300,340 330,360 320,400 280,400 250,380 220,350 200,300 180,260 150,230 120,200 110,150 90,120 60,100"/>
<polygon fill="#376ff9" points="270,0 360,0 360,70 290,60"/>
<polygon fill="#376ff9" points="400,0 460,0 460,80 410,60"/>
<polygon fill="#376ff9" points="340,130 380,140 430,250 390,250 350,200"/>
<polygon fill="#376ff9" points="460,150 490,160 505,210 480,210"/>
<polygon fill="#12c7e6" points="200,230 240,220 270,260 290,300 300,340 260,350 220,330 200,280"/>
<polygon fill="#376ff9" points="0,300 60,300 120,310 180,320 220,350 250,380 280,420 260,490 0,490"/>
<polygon fill="#12c7e6" points="110,340 160,330 210,350 250,390 270,430 250,490 130,490 120,420"/>
<polygon fill="#376ff9" points="270,430 340,430 340,490 270,490"/>
<polygon fill="#376ff9" points="500,440 560,440 560,490 500,490"/>
<polygon fill="#8000ff" points="0,460 40,460 40,490 0,490"/>
<polygon fill="#376ff9" points="0,140 20,140 20,190 0,190"/>
<polygon fill="#ff6f39" points="0,290 15,290 15,310 0,310"/></svg>
<svg x="456" y="230" width="100" height="75" viewBox="0 0 653 489.75" preserveAspectRatio="none"><rect width="653" height="490" fill="#8000ff"/>
<polygon fill="#376ff9" points="0,0 130,0 130,60 80,110 80,200 110,280 130,340 200,350 230,330 280,300 300,350 260,380 230,420 220,490 0,490"/>
<polygon fill="#12c7e6" points="130,0 260,0 260,90 200,100 140,80"/>
<polygon fill="#12c7e6" points="0,60 80,60 80,160 30,160 0,140"/>
<polygon fill="#376ff9" points="200,90 280,90 300,140 280,190 220,180"/>
<polygon fill="#376ff9" points="250,190 330,200 360,230 420,240 410,300 330,290 280,260"/>
<polygon fill="#376ff9" points="280,0 360,0 360,100 300,80"/>
<polygon fill="#376ff9" points="280,360 340,360 380,340 420,380 470,400 480,440 500,490 260,490"/>
<polygon fill="#5bf9c7" points="100,350 180,350 180,440 110,440"/>
<polygon fill="#5bf9c7" points="210,310 250,310 250,335 210,335"/>
<polygon fill="#ff6f39" points="420,440 480,440 480,490 420,490"/>
<polygon fill="#5bf9c7" points="440,410 480,410 480,440 440,440"/>
<polygon fill="#12c7e6" points="530,160 653,170 653,250 540,250"/>
<polygon fill="#376ff9" points="530,250 653,250 653,330 560,330"/>
<polygon fill="#5bf9c7" points="570,260 653,260 653,350 590,350"/>
<polygon fill="#5bf9c7" points="540,50 570,50 653,140 653,160 610,150"/>
<polygon fill="#376ff9" points="510,0 560,0 560,60 530,60"/></svg>
<svg x="316" y="195" width="100" height="75" viewBox="0 0 653 489.75" preserveAspectRatio="none"><rect width="653" height="490" fill="#8000ff"/>
<polygon fill="#376ff9" points="0,60 60,50 120,60 130,130 140,180 180,260 230,320 280,380 320,440 340,490 90,490 100,400 90,300 80,200 60,100 0,100"/>
<polygon fill="#a4f99f" points="80,40 130,50 200,70 240,80 250,120 230,160 200,200 220,260 260,300 300,330 290,370 260,350 220,300 190,250 170,200 150,160 110,120 90,80"/>
<polygon fill="#ff6f39" points="230,80 290,80 320,110 330,150 320,200 330,250 360,290 400,296 420,306 412,330 380,340 340,360 320,400 300,370 280,330 260,290 240,250 220,210 230,160"/>
<polygon fill="#5bf9c7" points="200,200 240,260 270,300 300,330 350,350 420,335 480,315 470,340 420,360 380,380 360,420 370,490 300,490 280,420 270,370 240,320 210,270"/>
<polygon fill="#ff0000" points="120,0 220,0 220,60 130,60"/>
<polygon fill="#ff6f39" points="100,0 140,0 140,40 100,40"/>
<polygon fill="#376ff9" points="300,20 500,20 480,60 420,100 330,110"/>
<polygon fill="#376ff9" points="330,170 450,170 470,230 440,290 350,280"/>
<polygon fill="#376ff9" points="560,150 653,150 653,330 580,320"/>
<polygon fill="#376ff9" points="480,330 540,330 540,420 490,420"/>
<polygon fill="#12c7e6" points="270,150 300,150 300,170 270,170"/></svg>
<svg x="340" y="150" width="60" height="50" viewBox="0 0 653 544.17" preserveAspectRatio="none"><polygon fill="#12c7e6" points="230,330 420,330 460,400 500,420 560,440 600,460 653,470 653,544 200,544 210,480"/>
<polygon fill="#376ff9" points="330,440 653,440 653,544 330,544"/>
<polygon fill="#8000ff" points="430,500 653,490 653,544 430,544"/>
<polygon fill="#ff0000" points="300,350 380,350 380,400 300,400"/>
<polygon fill="#376ff9" points="330,400 420,390 440,440 350,440"/>
<polygon fill="#12c7e6" points="230,470 330,470 330,544 230,544"/></svg>
<svg x="196" y="228" width="100" height="75" viewBox="0 0 653 489.75" preserveAspectRatio="none"><rect width="653" height="490" fill="#376ff9"/>
<polygon fill="#8000ff" points="300,100 330,100 400,110 440,140 480,120 500,60 510,0 653,0 653,490 260,490 280,420 300,380 300,300 310,250 320,200 310,150"/>
<polygon fill="#12c7e6" points="330,0 500,0 500,60 480,120 440,140 400,110 340,100 320,60"/>
<polygon fill="#8000ff" points="460,60 490,60 490,80 465,80"/>
<polygon fill="#12c7e6" points="80,60 160,50 180,100 200,130 250,110 290,100 300,150 320,250 290,290 250,280 200,250 160,190 120,170 90,140"/>
<polygon fill="#a4f99f" points="180,110 230,120 260,100 290,100 300,150 300,230 270,280 250,260 220,230 200,190"/>
<polygon fill="#12c7e6" points="0,0 40,0 40,60 0,60"/>
<polygon fill="#a4f99f" points="250,0 290,0 300,60 260,70"/>
<polygon fill="#12c7e6" points="10,200 30,200 40,300 20,300"/>
<polygon fill="#a4f99f" points="140,230 180,230 180,270 150,270"/>
<polygon fill="#5bf9c7" points="0,340 40,340 60,380 40,420 100,440 160,440 200,480 200,490 0,490"/>
<polygon fill="#a4f99f" points="40,430 120,440 180,480 180,490 40,490"/>
<polygon fill="#12c7e6" points="0,460 40,460 40,490 0,490"/></svg>
<svg x="216" y="150" width="80" height="50" viewBox="0 0 653 408.12" preserveAspectRatio="none"><polygon fill="#376ff9" points="100,40 450,60 460,200 500,230 560,260 560,300 300,300 200,200 100,150"/>
<polygon fill="#a4f99f" points="110,80 250,40 300,60 290,130 260,150 200,160 150,150"/>
<polygon fill="#12c7e6" points="200,60 280,45 300,70 270,110 210,110"/>
<polygon fill="#ff0000" points="140,90 200,90 200,155 150,150"/>
<polygon fill="#a4f99f" points="380,260 500,270 520,300 390,300"/>
<polygon fill="#12c7e6" points="320,120 360,120 360,150 320,150"/></svg>
<svg x="196" y="300" width="60" height="60" viewBox="0 0 600 600.00" preserveAspectRatio="none"><rect width="600" height="600" fill="#8000ff"/>
<polygon fill="#5bf9c7" points="0,0 260,0 250,100 270,160 280,200 290,250 200,250 130,250 120,290 60,300 0,300"/>
<polygon fill="#a4f99f" points="60,0 250,0 250,100 230,140 200,230 130,240 90,200 80,100"/>
<polygon fill="#376ff9" points="130,100 270,110 270,180 200,160 140,150"/>
<polygon fill="#376ff9" points="250,0 380,0 330,40 320,100 290,150 270,150 250,100"/>
<polygon fill="#12c7e6" points="290,20 330,20 330,60 295,60"/>
<polygon fill="#376ff9" points="0,310 150,310 160,380 120,420 0,420"/>
<polygon fill="#12c7e6" points="0,400 120,410 190,400 200,450 220,500 180,540 170,600 0,600"/>
<polygon fill="#12c7e6" points="210,300 280,300 300,400 330,500 320,550 280,520 240,420"/>
<polygon fill="#a4f99f" points="220,310 270,320 280,380 240,380"/>
<polygon fill="#ff6f39" points="40,230 90,230 90,300 50,300"/>
<polygon fill="#ff6f39" points="120,300 140,300 140,330 120,330"/></svg>
<svg x="396" y="195" width="80" height="60" viewBox="0 0 653 489.75" preserveAspectRatio="none"><rect width="653" height="490" fill="#376ff9"/>
<polygon fill="#8000ff" points="280,0 653,0 653,100 600,110 560,90 470,70 400,60 340,60 300,80"/>
<polygon fill="#376ff9" points="330,30 380,20 400,60 350,70"/>
<polygon fill="#a4f99f" points="380,80 440,90 500,80 520,100 480,120 440,115 390,100"/>
<polygon fill="#ff6f39" points="470,75 500,75 500,100 475,100"/>
<polygon fill="#12c7e6" points="600,180 653,170 653,240 620,230"/>
<polygon fill="#8000ff" points="0,0 60,0 60,200 40,490 0,490"/>
<polygon fill="#8000ff" points="200,150 260,140 300,170 350,220 420,250 460,300 460,380 420,380 380,320 330,280 280,260 230,220"/>
<polygon fill="#8000ff" points="300,60 340,80 330,140 280,150 260,120"/>
<polygon fill="#12c7e6" points="440,260 490,260 490,300 450,300"/>
<polygon fill="#12c7e6" points="480,360 580,350 620,380 600,490 480,490"/>
<polygon fill="#5bf9c7" points="380,410 430,410 430,480 390,480"/></svg>
<rect x="495.00" y="115.75" width="2.25" height="2.25" fill="#5bf9c7"/><rect x="454.50" y="118.00" width="2.25" height="2.25" fill="#376ff9"/><rect x="463.50" y="118.00" width="2.25" height="2.25" fill="#376ff9"/><rect x="501.75" y="118.00" width="2.25" height="2.25" fill="#8000ff"/><rect x="351.00" y="120.25" width="2.25" height="2.25" fill="#ff6f39"/><rect x="362.25" y="120.25" width="2.25" height="2.25" fill="#12c7e6"/><rect x="418.50" y="120.25" width="2.25" height="2.25" fill="#ff0000"/><rect x="357.75" y="122.50" width="2.25" height="2.25" fill="#12c7e6"/><rect x="409.50" y="122.50" width="2.25" height="2.25" fill="#a4f99f"/><rect x="463.50" y="122.50" width="2.25" height="2.25" fill="#376ff9"/><rect x="531.00" y="122.50" width="2.25" height="2.25" fill="#8000ff"/><rect x="351.00" y="124.75" width="2.25" height="2.25" fill="#a4f99f"/><rect x="544.50" y="124.75" width="2.25" height="2.25" fill="#376ff9"/><rect x="346.50" y="127.00" width="2.25" height="2.25" fill="#a4f99f"/><rect x="351.00" y="127.00" width="2.25" height="2.25" fill="#12c7e6"/><rect x="362.25" y="127.00" width="2.25" height="2.25" fill="#ff0000"/><rect x="371.25" y="127.00" width="2.25" height="2.25" fill="#ff0000"/><rect x="355.50" y="129.25" width="2.25" height="2.25" fill="#a4f99f"/><rect x="409.50" y="129.25" width="2.25" height="2.25" fill="#5bf9c7"/><rect x="456.75" y="129.25" width="2.25" height="2.25" fill="#5bf9c7"/><rect x="495.00" y="129.25" width="2.25" height="2.25" fill="#8000ff"/><rect x="517.50" y="129.25" width="2.25" height="2.25" fill="#376ff9"/><rect x="533.25" y="129.25" width="2.25" height="2.25" fill="#8000ff"/><rect x="348.75" y="131.50" width="2.25" height="2.25" fill="#376ff9"/><rect x="364.50" y="131.50" width="2.25" height="2.25" fill="#12c7e6"/><rect x="369.00" y="131.50" width="2.25" height="2.25" fill="#a4f99f"/><rect x="411.75" y="131.50" width="2.25" height="2.25" fill="#ff0000"/><rect x="492.75" y="131.50" width="2.25" height="2.25" fill="#376ff9"/><rect x="346.50" y="133.75" width="2.25" height="2.25" fill="#a4f99f"/><rect x="461.25" y="133.75" width="2.25" height="2.25" fill="#376ff9"/><rect x="535.50" y="133.75" width="2.25" height="2.25" fill="#8000ff"/><rect x="420.75" y="136.00" width="2.25" height="2.25" fill="#12c7e6"/><rect x="427.50" y="136.00" width="2.25" height="2.25" fill="#12c7e6"/><rect x="450.00" y="136.00" width="2.25" height="2.25" fill="#5bf9c7"/><rect x="513.00" y="136.00" width="2.25" height="2.25" fill="#8000ff"/><rect x="542.25" y="136.00" width="2.25" height="2.25" fill="#376ff9"/><rect x="432.00" y="138.25" width="2.25" height="2.25" fill="#5bf9c7"/><rect x="517.50" y="138.25" width="2.25" height="2.25" fill="#376ff9"/><rect x="384.75" y="140.50" width="2.25" height="2.25" fill="#376ff9"/><rect x="427.50" y="140.50" width="2.25" height="2.25" fill="#5bf9c7"/><rect x="450.00" y="140.50" width="2.25" height="2.25" fill="#8000ff"/><rect x="456.75" y="140.50" width="2.25" height="2.25" fill="#376ff9"/><rect x="490.50" y="140.50" width="2.25" height="2.25" fill="#376ff9"/><rect x="515.25" y="140.50" width="2.25" height="2.25" fill="#8000ff"/><rect x="434.25" y="142.75" width="2.25" height="2.25" fill="#5bf9c7"/><rect x="492.75" y="142.75" width="2.25" height="2.25" fill="#8000ff"/><rect x="445.50" y="145.00" width="2.25" height="2.25" fill="#5bf9c7"/><rect x="459.00" y="145.00" width="2.25" height="2.25" fill="#376ff9"/><rect x="450.00" y="147.25" width="2.25" height="2.25" fill="#376ff9"/><rect x="515.25" y="147.25" width="2.25" height="2.25" fill="#8000ff"/><rect x="441.00" y="149.50" width="2.25" height="2.25" fill="#12c7e6"/><rect x="459.00" y="149.50" width="2.25" height="2.25" fill="#8000ff"/><rect x="515.25" y="149.50" width="2.25" height="2.25" fill="#8000ff"/><rect x="450.00" y="151.75" width="2.25" height="2.25" fill="#376ff9"/><rect x="456.75" y="151.75" width="2.25" height="2.25" fill="#8000ff"/><rect x="461.25" y="151.75" width="2.25" height="2.25" fill="#376ff9"/><rect x="463.50" y="151.75" width="2.25" height="2.25" fill="#376ff9"/><rect x="445.50" y="154.00" width="2.25" height="2.25" fill="#5bf9c7"/><rect x="461.25" y="154.00" width="2.25" height="2.25" fill="#376ff9"/><rect x="497.25" y="154.00" width="2.25" height="2.25" fill="#8000ff"/><rect x="519.75" y="154.00" width="2.25" height="2.25" fill="#376ff9"/><rect x="414.00" y="156.25" width="2.25" height="2.25" fill="#376ff9"/><rect x="456.75" y="156.25" width="2.25" height="2.25" fill="#8000ff"/><rect x="492.75" y="156.25" width="2.25" height="2.25" fill="#376ff9"/><rect x="497.25" y="156.25" width="2.25" height="2.25" fill="#8000ff"/><rect x="522.00" y="156.25" width="2.25" height="2.25" fill="#376ff9"/><rect x="398.25" y="158.50" width="2.25" height="2.25" fill="#376ff9"/><rect x="414.00" y="158.50" width="2.25" height="2.25" fill="#376ff9"/><rect x="441.00" y="158.50" width="2.25" height="2.25" fill="#12c7e6"/><rect x="445.50" y="158.50" width="2.25" height="2.25" fill="#5bf9c7"/><rect x="447.75" y="158.50" width="2.25" height="2.25" fill="#5bf9c7"/><rect x="452.25" y="158.50" width="2.25" height="2.25" fill="#12c7e6"/><rect x="456.75" y="158.50" width="2.25" height="2.25" fill="#376ff9"/><rect x="495.00" y="158.50" width="2.25" height="2.25" fill="#8000ff"/><rect x="526.50" y="158.50" width="2.25" height="2.25" fill="#376ff9"/><rect x="243.00" y="160.75" width="2.25" height="2.25" fill="#ff0000"/><rect x="402.75" y="160.75" width="2.25" height="2.25" fill="#376ff9"/><rect x="405.00" y="160.75" width="2.25" height="2.25" fill="#376ff9"/><rect x="411.75" y="160.75" width="2.25" height="2.25" fill="#376ff9"/><rect x="443.25" y="160.75" width="2.25" height="2.25" fill="#12c7e6"/><rect x="445.50" y="160.75" width="2.25" height="2.25" fill="#5bf9c7"/><rect x="497.25" y="160.75" width="2.25" height="2.25" fill="#8000ff"/><rect x="517.50" y="160.75" width="2.25" height="2.25" fill="#8000ff"/><rect x="526.50" y="160.75" width="2.25" height="2.25" fill="#376ff9"/><rect x="245.25" y="163.00" width="2.25" height="2.25" fill="#12c7e6"/><rect x="254.25" y="163.00" width="2.25" height="2.25" fill="#a4f99f"/><rect x="398.25" y="163.00" width="2.25" height="2.25" fill="#12c7e6"/><rect x="402.75" y="163.00" width="2.25" height="2.25" fill="#376ff9"/><rect x="405.00" y="163.00" width="2.25" height="2.25" fill="#376ff9"/><rect x="456.75" y="163.00" width="2.25" height="2.25" fill="#376ff9"/><rect x="495.00" y="163.00" width="2.25" height="2.25" fill="#376ff9"/><rect x="501.75" y="163.00" width="2.25" height="2.25" fill="#8000ff"/><rect x="508.50" y="163.00" width="2.25" height="2.25" fill="#8000ff"/><rect x="513.00" y="163.00" width="2.25" height="2.25" fill="#376ff9"/><rect x="519.75" y="163.00" width="2.25" height="2.25" fill="#8000ff"/><rect x="240.75" y="165.25" width="2.25" height="2.25" fill="#ff0000"/><rect x="245.25" y="165.25" width="2.25" height="2.25" fill="#12c7e6"/><rect x="517.50" y="165.25" width="2.25" height="2.25" fill="#8000ff"/><rect x="254.25" y="167.50" width="2.25" height="2.25" fill="#12c7e6"/><rect x="405.00" y="167.50" width="2.25" height="2.25" fill="#376ff9"/><rect x="461.25" y="167.50" width="2.25" height="2.25" fill="#12c7e6"/><rect x="477.00" y="167.50" width="2.25" height="2.25" fill="#376ff9"/><rect x="481.50" y="167.50" width="2.25" height="2.25" fill="#376ff9"/><rect x="486.00" y="167.50" width="2.25" height="2.25" fill="#8000ff"/><rect x="508.50" y="167.50" width="2.25" height="2.25" fill="#8000ff"/><rect x="510.75" y="167.50" width="2.25" height="2.25" fill="#376ff9"/><rect x="254.25" y="169.75" width="2.25" height="2.25" fill="#12c7e6"/><rect x="407.25" y="169.75" width="2.25" height="2.25" fill="#12c7e6"/><rect x="409.50" y="169.75" width="2.25" height="2.25" fill="#12c7e6"/><rect x="445.50" y="169.75" width="2.25" height="2.25" fill="#ff0000"/><rect x="456.75" y="169.75" width="2.25" height="2.25" fill="#8000ff"/><rect x="474.75" y="169.75" width="2.25" height="2.25" fill="#376ff9"/><rect x="481.50" y="169.75" width="2.25" height="2.25" fill="#8000ff"/><rect x="483.75" y="169.75" width="2.25" height="2.25" fill="#8000ff"/><rect x="504.00" y="169.75" width="2.25" height="2.25" fill="#376ff9"/><rect x="528.75" y="169.75" width="2.25" height="2.25" fill="#376ff9"/><rect x="438.75" y="172.00" width="2.25" height="2.25" fill="#5bf9c7"/><rect x="461.25" y="172.00" width="2.25" height="2.25" fill="#376ff9"/><rect x="463.50" y="172.00" width="2.25" height="2.25" fill="#8000ff"/><rect x="465.75" y="172.00" width="2.25" height="2.25" fill="#8000ff"/><rect x="477.00" y="172.00" width="2.25" height="2.25" fill="#8000ff"/><rect x="191.25" y="174.25" width="2.25" height="2.25" fill="#a4f99f"/><rect x="445.50" y="174.25" width="2.25" height="2.25" fill="#12c7e6"/><rect x="447.75" y="174.25" width="2.25" height="2.25" fill="#8000ff"/><rect x="506.25" y="174.25" width="2.25" height="2.25" fill="#376ff9"/><rect x="238.50" y="176.50" width="2.25" height="2.25" fill="#a4f99f"/><rect x="450.00" y="176.50" width="2.25" height="2.25" fill="#ff0000"/><rect x="465.75" y="176.50" width="2.25" height="2.25" fill="#5bf9c7"/><rect x="501.75" y="176.50" width="2.25" height="2.25" fill="#8000ff"/><rect x="139.50" y="178.75" width="2.25" height="2.25" fill="#a4f99f"/><rect x="236.25" y="178.75" width="2.25" height="2.25" fill="#12c7e6"/><rect x="447.75" y="178.75" width="2.25" height="2.25" fill="#8000ff"/><rect x="454.50" y="178.75" width="2.25" height="2.25" fill="#8000ff"/><rect x="470.25" y="178.75" width="2.25" height="2.25" fill="#8000ff"/><rect x="531.00" y="178.75" width="2.25" height="2.25" fill="#376ff9"/><rect x="121.50" y="181.00" width="2.25" height="2.25" fill="#ff6f39"/><rect x="126.00" y="181.00" width="2.25" height="2.25" fill="#376ff9"/><rect x="139.50" y="181.00" width="2.25" height="2.25" fill="#376ff9"/><rect x="220.50" y="181.00" width="2.25" height="2.25" fill="#376ff9"/><rect x="227.25" y="181.00" width="2.25" height="2.25" fill="#a4f99f"/><rect x="231.75" y="181.00" width="2.25" height="2.25" fill="#a4f99f"/><rect x="236.25" y="181.00" width="2.25" height="2.25" fill="#a4f99f"/><rect x="245.25" y="181.00" width="2.25" height="2.25" fill="#12c7e6"/><rect x="265.50" y="181.00" width="2.25" height="2.25" fill="#376ff9"/><rect x="373.50" y="181.00" width="2.25" height="2.25" fill="#376ff9"/><rect x="447.75" y="181.00" width="2.25" height="2.25" fill="#376ff9"/><rect x="454.50" y="181.00" width="2.25" height="2.25" fill="#8000ff"/><rect x="468.00" y="181.00" width="2.25" height="2.25" fill="#376ff9"/><rect x="508.50" y="181.00" width="2.25" height="2.25" fill="#8000ff"/><rect x="121.50" y="183.25" width="2.25" height="2.25" fill="#ff6f39"/><rect x="141.75" y="183.25" width="2.25" height="2.25" fill="#ff6f39"/><rect x="182.25" y="183.25" width="2.25" height="2.25" fill="#12c7e6"/><rect x="184.50" y="183.25" width="2.25" height="2.25" fill="#a4f99f"/><rect x="222.75" y="183.25" width="2.25" height="2.25" fill="#12c7e6"/><rect x="247.50" y="183.25" width="2.25" height="2.25" fill="#ff0000"/><rect x="263.25" y="183.25" width="2.25" height="2.25" fill="#376ff9"/><rect x="270.00" y="183.25" width="2.25" height="2.25" fill="#376ff9"/><rect x="276.75" y="183.25" width="2.25" height="2.25" fill="#376ff9"/><rect x="447.75" y="183.25" width="2.25" height="2.25" fill="#12c7e6"/><rect x="452.25" y="183.25" width="2.25" height="2.25" fill="#376ff9"/><rect x="456.75" y="183.25" width="2.25" height="2.25" fill="#8000ff"/><rect x="474.75" y="183.25" width="2.25" height="2.25" fill="#8000ff"/><rect x="506.25" y="183.25" width="2.25" height="2.25" fill="#376ff9"/><rect x="526.50" y="183.25" width="2.25" height="2.25" fill="#8000ff"/><rect x="132.75" y="185.50" width="2.25" height="2.25" fill="#376ff9"/><rect x="135.00" y="185.50" width="2.25" height="2.25" fill="#5bf9c7"/><rect x="137.25" y="185.50" width="2.25" height="2.25" fill="#5bf9c7"/><rect x="182.25" y="185.50" width="2.25" height="2.25" fill="#a4f99f"/><rect x="218.25" y="185.50" width="2.25" height="2.25" fill="#376ff9"/><rect x="220.50" y="185.50" width="2.25" height="2.25" fill="#12c7e6"/><rect x="225.00" y="185.50" width="2.25" height="2.25" fill="#12c7e6"/><rect x="243.00" y="185.50" width="2.25" height="2.25" fill="#ff0000"/><rect x="247.50" y="185.50" width="2.25" height="2.25" fill="#376ff9"/><rect x="274.50" y="185.50" width="2.25" height="2.25" fill="#376ff9"/><rect x="369.00" y="185.50" width="2.25" height="2.25" fill="#376ff9"/><rect x="371.25" y="185.50" width="2.25" height="2.25" fill="#5bf9c7"/><rect x="375.75" y="185.50" width="2.25" height="2.25" fill="#12c7e6"/><rect x="420.75" y="185.50" width="2.25" height="2.25" fill="#8000ff"/><rect x="425.25" y="185.50" width="2.25" height="2.25" fill="#376ff9"/><rect x="454.50" y="185.50" width="2.25" height="2.25" fill="#12c7e6"/><rect x="470.25" y="185.50" width="2.25" height="2.25" fill="#376ff9"/><rect x="504.00" y="185.50" width="2.25" height="2.25" fill="#376ff9"/><rect x="506.25" y="185.50" width="2.25" height="2.25" fill="#376ff9"/><rect x="515.25" y="185.50" width="2.25" height="2.25" fill="#376ff9"/><rect x="128.25" y="187.75" width="2.25" height="2.25" fill="#376ff9"/><rect x="247.50" y="187.75" width="2.25" height="2.25" fill="#12c7e6"/><rect x="317.25" y="187.75" width="2.25" height="2.25" fill="#ff6f39"/><rect x="369.00" y="187.75" width="2.25" height="2.25" fill="#ff0000"/><rect x="375.75" y="187.75" width="2.25" height="2.25" fill="#12c7e6"/><rect x="418.50" y="187.75" width="2.25" height="2.25" fill="#8000ff"/><rect x="420.75" y="187.75" width="2.25" height="2.25" fill="#376ff9"/><rect x="454.50" y="187.75" width="2.25" height="2.25" fill="#376ff9"/><rect x="497.25" y="187.75" width="2.25" height="2.25" fill="#376ff9"/><rect x="508.50" y="187.75" width="2.25" height="2.25" fill="#8000ff"/><rect x="528.75" y="187.75" width="2.25" height="2.25" fill="#8000ff"/><rect x="531.00" y="187.75" width="2.25" height="2.25" fill="#376ff9"/><rect x="128.25" y="190.00" width="2.25" height="2.25" fill="#a4f99f"/><rect x="132.75" y="190.00" width="2.25" height="2.25" fill="#376ff9"/><rect x="135.00" y="190.00" width="2.25" height="2.25" fill="#ff6f39"/><rect x="218.25" y="190.00" width="2.25" height="2.25" fill="#376ff9"/><rect x="220.50" y="190.00" width="2.25" height="2.25" fill="#12c7e6"/><rect x="222.75" y="190.00" width="2.25" height="2.25" fill="#12c7e6"/><rect x="261.00" y="190.00" width="2.25" height="2.25" fill="#376ff9"/><rect x="265.50" y="190.00" width="2.25" height="2.25" fill="#a4f99f"/><rect x="267.75" y="190.00" width="2.25" height="2.25" fill="#376ff9"/><rect x="371.25" y="190.00" width="2.25" height="2.25" fill="#12c7e6"/><rect x="492.75" y="190.00" width="2.25" height="2.25" fill="#376ff9"/><rect x="495.00" y="190.00" width="2.25" height="2.25" fill="#376ff9"/><rect x="497.25" y="190.00" width="2.25" height="2.25" fill="#376ff9"/><rect x="510.75" y="190.00" width="2.25" height="2.25" fill="#8000ff"/><rect x="519.75" y="190.00" width="2.25" height="2.25" fill="#376ff9"/><rect x="524.25" y="190.00" width="2.25" height="2.25" fill="#376ff9"/><rect x="137.25" y="192.25" width="2.25" height="2.25" fill="#ff6f39"/><rect x="141.75" y="192.25" width="2.25" height="2.25" fill="#376ff9"/><rect x="261.00" y="192.25" width="2.25" height="2.25" fill="#12c7e6"/><rect x="267.75" y="192.25" width="2.25" height="2.25" fill="#12c7e6"/><rect x="276.75" y="192.25" width="2.25" height="2.25" fill="#376ff9"/><rect x="387.00" y="192.25" width="2.25" height="2.25" fill="#8000ff"/><rect x="389.25" y="192.25" width="2.25" height="2.25" fill="#8000ff"/><rect x="391.50" y="192.25" width="2.25" height="2.25" fill="#8000ff"/><rect x="423.00" y="192.25" width="2.25" height="2.25" fill="#376ff9"/><rect x="432.00" y="192.25" width="2.25" height="2.25" fill="#8000ff"/><rect x="443.25" y="192.25" width="2.25" height="2.25" fill="#8000ff"/><rect x="488.25" y="192.25" width="2.25" height="2.25" fill="#12c7e6"/><rect x="515.25" y="192.25" width="2.25" height="2.25" fill="#8000ff"/><rect x="123.75" y="194.50" width="2.25" height="2.25" fill="#ff6f39"/><rect x="135.00" y="194.50" width="2.25" height="2.25" fill="#376ff9"/><rect x="137.25" y="194.50" width="2.25" height="2.25" fill="#a4f99f"/><rect x="180.00" y="194.50" width="2.25" height="2.25" fill="#a4f99f"/><rect x="182.25" y="194.50" width="2.25" height="2.25" fill="#a4f99f"/><rect x="218.25" y="194.50" width="2.25" height="2.25" fill="#376ff9"/><rect x="272.25" y="194.50" width="2.25" height="2.25" fill="#a4f99f"/><rect x="276.75" y="194.50" width="2.25" height="2.25" fill="#a4f99f"/><rect x="346.50" y="194.50" width="2.25" height="2.25" fill="#376ff9"/><rect x="380.25" y="194.50" width="2.25" height="2.25" fill="#8000ff"/><rect x="391.50" y="194.50" width="2.25" height="2.25" fill="#376ff9"/><rect x="423.00" y="194.50" width="2.25" height="2.25" fill="#8000ff"/><rect x="425.25" y="194.50" width="2.25" height="2.25" fill="#8000ff"/><rect x="443.25" y="194.50" width="2.25" height="2.25" fill="#376ff9"/><rect x="477.00" y="194.50" width="2.25" height="2.25" fill="#376ff9"/><rect x="483.75" y="194.50" width="2.25" height="2.25" fill="#12c7e6"/><rect x="492.75" y="194.50" width="2.25" height="2.25" fill="#8000ff"/><rect x="499.50" y="194.50" width="2.25" height="2.25" fill="#12c7e6"/><rect x="515.25" y="194.50" width="2.25" height="2.25" fill="#8000ff"/><rect x="130.50" y="196.75" width="2.25" height="2.25" fill="#ff6f39"/><rect x="146.25" y="196.75" width="2.25" height="2.25" fill="#a4f99f"/><rect x="222.75" y="196.75" width="2.25" height="2.25" fill="#12c7e6"/><rect x="272.25" y="196.75" width="2.25" height="2.25" fill="#a4f99f"/><rect x="281.25" y="196.75" width="2.25" height="2.25" fill="#a4f99f"/><rect x="330.75" y="196.75" width="2.25" height="2.25" fill="#a4f99f"/><rect x="335.25" y="196.75" width="2.25" height="2.25" fill="#a4f99f"/><rect x="344.25" y="196.75" width="2.25" height="2.25" fill="#ff6f39"/><rect x="369.00" y="196.75" width="2.25" height="2.25" fill="#12c7e6"/><rect x="382.50" y="196.75" width="2.25" height="2.25" fill="#376ff9"/><rect x="389.25" y="196.75" width="2.25" height="2.25" fill="#376ff9"/><rect x="393.75" y="196.75" width="2.25" height="2.25" fill="#376ff9"/><rect x="429.75" y="196.75" width="2.25" height="2.25" fill="#8000ff"/><rect x="432.00" y="196.75" width="2.25" height="2.25" fill="#376ff9"/><rect x="486.00" y="196.75" width="2.25" height="2.25" fill="#376ff9"/><rect x="488.25" y="196.75" width="2.25" height="2.25" fill="#376ff9"/><rect x="126.00" y="199.00" width="2.25" height="2.25" fill="#376ff9"/><rect x="177.75" y="199.00" width="2.25" height="2.25" fill="#12c7e6"/><rect x="218.25" y="199.00" width="2.25" height="2.25" fill="#376ff9"/><rect x="337.50" y="199.00" width="2.25" height="2.25" fill="#5bf9c7"/><rect x="387.00" y="199.00" width="2.25" height="2.25" fill="#8000ff"/><rect x="432.00" y="199.00" width="2.25" height="2.25" fill="#376ff9"/><rect x="438.75" y="199.00" width="2.25" height="2.25" fill="#8000ff"/><rect x="443.25" y="199.00" width="2.25" height="2.25" fill="#376ff9"/><rect x="445.50" y="199.00" width="2.25" height="2.25" fill="#376ff9"/><rect x="447.75" y="199.00" width="2.25" height="2.25" fill="#376ff9"/><rect x="497.25" y="199.00" width="2.25" height="2.25" fill="#12c7e6"/><rect x="519.75" y="199.00" width="2.25" height="2.25" fill="#376ff9"/><rect x="182.25" y="201.25" width="2.25" height="2.25" fill="#a4f99f"/><rect x="225.00" y="201.25" width="2.25" height="2.25" fill="#12c7e6"/><rect x="328.50" y="201.25" width="2.25" height="2.25" fill="#376ff9"/><rect x="362.25" y="201.25" width="2.25" height="2.25" fill="#12c7e6"/><rect x="364.50" y="201.25" width="2.25" height="2.25" fill="#12c7e6"/><rect x="378.00" y="201.25" width="2.25" height="2.25" fill="#8000ff"/><rect x="387.00" y="201.25" width="2.25" height="2.25" fill="#8000ff"/><rect x="486.00" y="201.25" width="2.25" height="2.25" fill="#376ff9"/><rect x="501.75" y="201.25" width="2.25" height="2.25" fill="#12c7e6"/><rect x="130.50" y="203.50" width="2.25" height="2.25" fill="#376ff9"/><rect x="150.75" y="203.50" width="2.25" height="2.25" fill="#376ff9"/><rect x="222.75" y="203.50" width="2.25" height="2.25" fill="#12c7e6"/><rect x="285.75" y="203.50" width="2.25" height="2.25" fill="#8000ff"/><rect x="292.50" y="203.50" width="2.25" height="2.25" fill="#8000ff"/><rect x="294.75" y="203.50" width="2.25" height="2.25" fill="#8000ff"/><rect x="297.00" y="203.50" width="2.25" height="2.25" fill="#8000ff"/><rect x="299.25" y="203.50" width="2.25" height="2.25" fill="#8000ff"/><rect x="339.75" y="203.50" width="2.25" height="2.25" fill="#ff0000"/><rect x="445.50" y="203.50" width="2.25" height="2.25" fill="#8000ff"/><rect x="459.00" y="203.50" width="2.25" height="2.25" fill="#376ff9"/><rect x="465.75" y="203.50" width="2.25" height="2.25" fill="#376ff9"/><rect x="483.75" y="203.50" width="2.25" height="2.25" fill="#376ff9"/><rect x="497.25" y="203.50" width="2.25" height="2.25" fill="#8000ff"/><rect x="499.50" y="203.50" width="2.25" height="2.25" fill="#12c7e6"/><rect x="121.50" y="205.75" width="2.25" height="2.25" fill="#12c7e6"/><rect x="137.25" y="205.75" width="2.25" height="2.25" fill="#a4f99f"/><rect x="148.50" y="205.75" width="2.25" height="2.25" fill="#a4f99f"/><rect x="191.25" y="205.75" width="2.25" height="2.25" fill="#a4f99f"/><rect x="198.00" y="205.75" width="2.25" height="2.25" fill="#a4f99f"/><rect x="281.25" y="205.75" width="2.25" height="2.25" fill="#376ff9"/><rect x="283.50" y="205.75" width="2.25" height="2.25" fill="#376ff9"/><rect x="339.75" y="205.75" width="2.25" height="2.25" fill="#ff0000"/><rect x="346.50" y="205.75" width="2.25" height="2.25" fill="#8000ff"/><rect x="366.75" y="205.75" width="2.25" height="2.25" fill="#8000ff"/><rect x="389.25" y="205.75" width="2.25" height="2.25" fill="#376ff9"/><rect x="434.25" y="205.75" width="2.25" height="2.25" fill="#376ff9"/><rect x="454.50" y="205.75" width="2.25" height="2.25" fill="#ff0000"/><rect x="459.00" y="205.75" width="2.25" height="2.25" fill="#8000ff"/><rect x="499.50" y="205.75" width="2.25" height="2.25" fill="#8000ff"/><rect x="121.50" y="208.00" width="2.25" height="2.25" fill="#a4f99f"/><rect x="153.00" y="208.00" width="2.25" height="2.25" fill="#376ff9"/><rect x="198.00" y="208.00" width="2.25" height="2.25" fill="#a4f99f"/><rect x="234.00" y="208.00" width="2.25" height="2.25" fill="#12c7e6"/><rect x="236.25" y="208.00" width="2.25" height="2.25" fill="#12c7e6"/><rect x="290.25" y="208.00" width="2.25" height="2.25" fill="#376ff9"/><rect x="351.00" y="208.00" width="2.25" height="2.25" fill="#a4f99f"/><rect x="362.25" y="208.00" width="2.25" height="2.25" fill="#ff6f39"/><rect x="427.50" y="208.00" width="2.25" height="2.25" fill="#376ff9"/><rect x="438.75" y="208.00" width="2.25" height="2.25" fill="#8000ff"/><rect x="456.75" y="208.00" width="2.25" height="2.25" fill="#a4f99f"/><rect x="461.25" y="208.00" width="2.25" height="2.25" fill="#a4f99f"/><rect x="474.75" y="208.00" width="2.25" height="2.25" fill="#8000ff"/><rect x="477.00" y="208.00" width="2.25" height="2.25" fill="#8000ff"/><rect x="483.75" y="208.00" width="2.25" height="2.25" fill="#376ff9"/><rect x="486.00" y="208.00" width="2.25" height="2.25" fill="#376ff9"/><rect x="202.50" y="210.25" width="2.25" height="2.25" fill="#12c7e6"/><rect x="209.25" y="210.25" width="2.25" height="2.25" fill="#12c7e6"/><rect x="213.75" y="210.25" width="2.25" height="2.25" fill="#12c7e6"/><rect x="218.25" y="210.25" width="2.25" height="2.25" fill="#376ff9"/><rect x="243.00" y="210.25" width="2.25" height="2.25" fill="#12c7e6"/><rect x="249.75" y="210.25" width="2.25" height="2.25" fill="#12c7e6"/><rect x="315.00" y="210.25" width="2.25" height="2.25" fill="#376ff9"/><rect x="351.00" y="210.25" width="2.25" height="2.25" fill="#5bf9c7"/><rect x="371.25" y="210.25" width="2.25" height="2.25" fill="#376ff9"/><rect x="375.75" y="210.25" width="2.25" height="2.25" fill="#376ff9"/><rect x="378.00" y="210.25" width="2.25" height="2.25" fill="#376ff9"/><rect x="445.50" y="210.25" width="2.25" height="2.25" fill="#a4f99f"/><rect x="477.00" y="210.25" width="2.25" height="2.25" fill="#8000ff"/><rect x="479.25" y="210.25" width="2.25" height="2.25" fill="#8000ff"/><rect x="481.50" y="210.25" width="2.25" height="2.25" fill="#8000ff"/><rect x="486.00" y="210.25" width="2.25" height="2.25" fill="#12c7e6"/><rect x="490.50" y="210.25" width="2.25" height="2.25" fill="#12c7e6"/><rect x="499.50" y="210.25" width="2.25" height="2.25" fill="#8000ff"/><rect x="202.50" y="212.50" width="2.25" height="2.25" fill="#a4f99f"/><rect x="213.75" y="212.50" width="2.25" height="2.25" fill="#12c7e6"/><rect x="231.75" y="212.50" width="2.25" height="2.25" fill="#376ff9"/><rect x="256.50" y="212.50" width="2.25" height="2.25" fill="#376ff9"/><rect x="263.25" y="212.50" width="2.25" height="2.25" fill="#376ff9"/><rect x="351.00" y="212.50" width="2.25" height="2.25" fill="#5bf9c7"/><rect x="360.00" y="212.50" width="2.25" height="2.25" fill="#5bf9c7"/><rect x="425.25" y="212.50" width="2.25" height="2.25" fill="#376ff9"/><rect x="432.00" y="212.50" width="2.25" height="2.25" fill="#8000ff"/><rect x="447.75" y="212.50" width="2.25" height="2.25" fill="#a4f99f"/><rect x="216.00" y="214.75" width="2.25" height="2.25" fill="#376ff9"/><rect x="256.50" y="214.75" width="2.25" height="2.25" fill="#376ff9"/><rect x="261.00" y="214.75" width="2.25" height="2.25" fill="#376ff9"/><rect x="267.75" y="214.75" width="2.25" height="2.25" fill="#376ff9"/><rect x="276.75" y="214.75" width="2.25" height="2.25" fill="#12c7e6"/><rect x="326.25" y="214.75" width="2.25" height="2.25" fill="#8000ff"/><rect x="330.75" y="214.75" width="2.25" height="2.25" fill="#a4f99f"/><rect x="335.25" y="214.75" width="2.25" height="2.25" fill="#376ff9"/><rect x="357.75" y="214.75" width="2.25" height="2.25" fill="#12c7e6"/><rect x="495.00" y="214.75" width="2.25" height="2.25" fill="#12c7e6"/><rect x="499.50" y="214.75" width="2.25" height="2.25" fill="#12c7e6"/><rect x="121.50" y="217.00" width="2.25" height="2.25" fill="#12c7e6"/><rect x="123.75" y="217.00" width="2.25" height="2.25" fill="#12c7e6"/><rect x="128.25" y="217.00" width="2.25" height="2.25" fill="#376ff9"/><rect x="132.75" y="217.00" width="2.25" height="2.25" fill="#376ff9"/><rect x="200.25" y="217.00" width="2.25" height="2.25" fill="#a4f99f"/><rect x="281.25" y="217.00" width="2.25" height="2.25" fill="#12c7e6"/><rect x="355.50" y="217.00" width="2.25" height="2.25" fill="#12c7e6"/><rect x="357.75" y="217.00" width="2.25" height="2.25" fill="#ff6f39"/><rect x="423.00" y="217.00" width="2.25" height="2.25" fill="#376ff9"/><rect x="508.50" y="217.00" width="2.25" height="2.25" fill="#376ff9"/><rect x="126.00" y="219.25" width="2.25" height="2.25" fill="#12c7e6"/><rect x="150.75" y="219.25" width="2.25" height="2.25" fill="#a4f99f"/><rect x="175.50" y="219.25" width="2.25" height="2.25" fill="#12c7e6"/><rect x="202.50" y="219.25" width="2.25" height="2.25" fill="#376ff9"/><rect x="216.00" y="219.25" width="2.25" height="2.25" fill="#376ff9"/><rect x="252.00" y="219.25" width="2.25" height="2.25" fill="#376ff9"/><rect x="256.50" y="219.25" width="2.25" height="2.25" fill="#376ff9"/><rect x="258.75" y="219.25" width="2.25" height="2.25" fill="#376ff9"/><rect x="263.25" y="219.25" width="2.25" height="2.25" fill="#376ff9"/><rect x="348.75" y="219.25" width="2.25" height="2.25" fill="#ff6f39"/><rect x="351.00" y="219.25" width="2.25" height="2.25" fill="#8000ff"/><rect x="362.25" y="219.25" width="2.25" height="2.25" fill="#12c7e6"/><rect x="380.25" y="219.25" width="2.25" height="2.25" fill="#376ff9"/><rect x="423.00" y="219.25" width="2.25" height="2.25" fill="#376ff9"/><rect x="492.75" y="219.25" width="2.25" height="2.25" fill="#376ff9"/><rect x="126.00" y="221.50" width="2.25" height="2.25" fill="#12c7e6"/><rect x="150.75" y="221.50" width="2.25" height="2.25" fill="#a4f99f"/><rect x="180.00" y="221.50" width="2.25" height="2.25" fill="#a4f99f"/><rect x="216.00" y="221.50" width="2.25" height="2.25" fill="#376ff9"/><rect x="252.00" y="221.50" width="2.25" height="2.25" fill="#12c7e6"/><rect x="263.25" y="221.50" width="2.25" height="2.25" fill="#376ff9"/><rect x="324.00" y="221.50" width="2.25" height="2.25" fill="#376ff9"/><rect x="326.25" y="221.50" width="2.25" height="2.25" fill="#376ff9"/><rect x="337.50" y="221.50" width="2.25" height="2.25" fill="#376ff9"/><rect x="351.00" y="221.50" width="2.25" height="2.25" fill="#a4f99f"/><rect x="362.25" y="221.50" width="2.25" height="2.25" fill="#ff0000"/><rect x="369.00" y="221.50" width="2.25" height="2.25" fill="#ff6f39"/><rect x="438.75" y="221.50" width="2.25" height="2.25" fill="#376ff9"/><rect x="501.75" y="221.50" width="2.25" height="2.25" fill="#376ff9"/><rect x="162.00" y="223.75" width="2.25" height="2.25" fill="#5bf9c7"/><rect x="180.00" y="223.75" width="2.25" height="2.25" fill="#a4f99f"/><rect x="182.25" y="223.75" width="2.25" height="2.25" fill="#376ff9"/><rect x="195.75" y="223.75" width="2.25" height="2.25" fill="#12c7e6"/><rect x="213.75" y="223.75" width="2.25" height="2.25" fill="#376ff9"/><rect x="276.75" y="223.75" width="2.25" height="2.25" fill="#8000ff"/><rect x="326.25" y="223.75" width="2.25" height="2.25" fill="#376ff9"/><rect x="337.50" y="223.75" width="2.25" height="2.25" fill="#376ff9"/><rect x="339.75" y="223.75" width="2.25" height="2.25" fill="#a4f99f"/><rect x="346.50" y="223.75" width="2.25" height="2.25" fill="#a4f99f"/><rect x="351.00" y="223.75" width="2.25" height="2.25" fill="#a4f99f"/><rect x="355.50" y="223.75" width="2.25" height="2.25" fill="#5bf9c7"/><rect x="357.75" y="223.75" width="2.25" height="2.25" fill="#5bf9c7"/><rect x="362.25" y="223.75" width="2.25" height="2.25" fill="#12c7e6"/><rect x="375.75" y="223.75" width="2.25" height="2.25" fill="#8000ff"/><rect x="126.00" y="226.00" width="2.25" height="2.25" fill="#12c7e6"/><rect x="130.50" y="226.00" width="2.25" height="2.25" fill="#376ff9"/><rect x="155.25" y="226.00" width="2.25" height="2.25" fill="#a4f99f"/><rect x="159.75" y="226.00" width="2.25" height="2.25" fill="#5bf9c7"/><rect x="162.00" y="226.00" width="2.25" height="2.25" fill="#376ff9"/><rect x="180.00" y="226.00" width="2.25" height="2.25" fill="#a4f99f"/><rect x="186.75" y="226.00" width="2.25" height="2.25" fill="#12c7e6"/><rect x="189.00" y="226.00" width="2.25" height="2.25" fill="#376ff9"/><rect x="195.75" y="226.00" width="2.25" height="2.25" fill="#12c7e6"/><rect x="222.75" y="226.00" width="2.25" height="2.25" fill="#376ff9"/><rect x="225.00" y="226.00" width="2.25" height="2.25" fill="#376ff9"/><rect x="252.00" y="226.00" width="2.25" height="2.25" fill="#12c7e6"/><rect x="272.25" y="226.00" width="2.25" height="2.25" fill="#12c7e6"/><rect x="274.50" y="226.00" width="2.25" height="2.25" fill="#12c7e6"/><rect x="330.75" y="226.00" width="2.25" height="2.25" fill="#8000ff"/><rect x="339.75" y="226.00" width="2.25" height="2.25" fill="#a4f99f"/><rect x="353.25" y="226.00" width="2.25" height="2.25" fill="#ff0000"/><rect x="364.50" y="226.00" width="2.25" height="2.25" fill="#ff6f39"/><rect x="429.75" y="226.00" width="2.25" height="2.25" fill="#8000ff"/><rect x="452.25" y="226.00" width="2.25" height="2.25" fill="#376ff9"/><rect x="454.50" y="226.00" width="2.25" height="2.25" fill="#376ff9"/><rect x="456.75" y="226.00" width="2.25" height="2.25" fill="#12c7e6"/><rect x="477.00" y="226.00" width="2.25" height="2.25" fill="#376ff9"/><rect x="495.00" y="226.00" width="2.25" height="2.25" fill="#376ff9"/><rect x="506.25" y="226.00" width="2.25" height="2.25" fill="#8000ff"/><rect x="153.00" y="228.25" width="2.25" height="2.25" fill="#12c7e6"/><rect x="162.00" y="228.25" width="2.25" height="2.25" fill="#376ff9"/><rect x="166.50" y="228.25" width="2.25" height="2.25" fill="#a4f99f"/><rect x="173.25" y="228.25" width="2.25" height="2.25" fill="#5bf9c7"/><rect x="229.50" y="228.25" width="2.25" height="2.25" fill="#12c7e6"/><rect x="231.75" y="228.25" width="2.25" height="2.25" fill="#12c7e6"/><rect x="236.25" y="228.25" width="2.25" height="2.25" fill="#376ff9"/><rect x="344.25" y="228.25" width="2.25" height="2.25" fill="#8000ff"/><rect x="353.25" y="228.25" width="2.25" height="2.25" fill="#ff0000"/><rect x="357.75" y="228.25" width="2.25" height="2.25" fill="#ff0000"/><rect x="366.75" y="228.25" width="2.25" height="2.25" fill="#ff6f39"/><rect x="384.75" y="228.25" width="2.25" height="2.25" fill="#8000ff"/><rect x="387.00" y="228.25" width="2.25" height="2.25" fill="#376ff9"/><rect x="389.25" y="228.25" width="2.25" height="2.25" fill="#376ff9"/><rect x="429.75" y="228.25" width="2.25" height="2.25" fill="#8000ff"/><rect x="432.00" y="228.25" width="2.25" height="2.25" fill="#8000ff"/><rect x="434.25" y="228.25" width="2.25" height="2.25" fill="#8000ff"/><rect x="438.75" y="228.25" width="2.25" height="2.25" fill="#376ff9"/><rect x="450.00" y="228.25" width="2.25" height="2.25" fill="#376ff9"/><rect x="477.00" y="228.25" width="2.25" height="2.25" fill="#376ff9"/><rect x="508.50" y="228.25" width="2.25" height="2.25" fill="#376ff9"/><rect x="123.75" y="230.50" width="2.25" height="2.25" fill="#12c7e6"/><rect x="130.50" y="230.50" width="2.25" height="2.25" fill="#12c7e6"/><rect x="137.25" y="230.50" width="2.25" height="2.25" fill="#376ff9"/><rect x="157.50" y="230.50" width="2.25" height="2.25" fill="#12c7e6"/><rect x="173.25" y="230.50" width="2.25" height="2.25" fill="#376ff9"/><rect x="216.00" y="230.50" width="2.25" height="2.25" fill="#12c7e6"/><rect x="245.25" y="230.50" width="2.25" height="2.25" fill="#376ff9"/><rect x="254.25" y="230.50" width="2.25" height="2.25" fill="#376ff9"/><rect x="270.00" y="230.50" width="2.25" height="2.25" fill="#8000ff"/><rect x="272.25" y="230.50" width="2.25" height="2.25" fill="#8000ff"/><rect x="274.50" y="230.50" width="2.25" height="2.25" fill="#12c7e6"/><rect x="344.25" y="230.50" width="2.25" height="2.25" fill="#8000ff"/><rect x="348.75" y="230.50" width="2.25" height="2.25" fill="#a4f99f"/><rect x="355.50" y="230.50" width="2.25" height="2.25" fill="#5bf9c7"/><rect x="398.25" y="230.50" width="2.25" height="2.25" fill="#376ff9"/><rect x="400.50" y="230.50" width="2.25" height="2.25" fill="#376ff9"/><rect x="429.75" y="230.50" width="2.25" height="2.25" fill="#8000ff"/><rect x="436.50" y="230.50" width="2.25" height="2.25" fill="#8000ff"/><rect x="450.00" y="230.50" width="2.25" height="2.25" fill="#8000ff"/><rect x="454.50" y="230.50" width="2.25" height="2.25" fill="#376ff9"/><rect x="456.75" y="230.50" width="2.25" height="2.25" fill="#12c7e6"/><rect x="474.75" y="230.50" width="2.25" height="2.25" fill="#12c7e6"/><rect x="497.25" y="230.50" width="2.25" height="2.25" fill="#12c7e6"/><rect x="510.75" y="230.50" width="2.25" height="2.25" fill="#376ff9"/><rect x="128.25" y="232.75" width="2.25" height="2.25" fill="#12c7e6"/><rect x="132.75" y="232.75" width="2.25" height="2.25" fill="#12c7e6"/><rect x="171.00" y="232.75" width="2.25" height="2.25" fill="#376ff9"/><rect x="189.00" y="232.75" width="2.25" height="2.25" fill="#12c7e6"/><rect x="231.75" y="232.75" width="2.25" height="2.25" fill="#a4f99f"/><rect x="344.25" y="232.75" width="2.25" height="2.25" fill="#8000ff"/><rect x="351.00" y="232.75" width="2.25" height="2.25" fill="#ff6f39"/><rect x="364.50" y="232.75" width="2.25" height="2.25" fill="#a4f99f"/><rect x="452.25" y="232.75" width="2.25" height="2.25" fill="#12c7e6"/><rect x="477.00" y="232.75" width="2.25" height="2.25" fill="#376ff9"/><rect x="499.50" y="232.75" width="2.25" height="2.25" fill="#8000ff"/><rect x="544.50" y="232.75" width="2.25" height="2.25" fill="#376ff9"/><rect x="130.50" y="235.00" width="2.25" height="2.25" fill="#376ff9"/><rect x="159.75" y="235.00" width="2.25" height="2.25" fill="#376ff9"/><rect x="177.75" y="235.00" width="2.25" height="2.25" fill="#376ff9"/><rect x="191.25" y="235.00" width="2.25" height="2.25" fill="#376ff9"/><rect x="200.25" y="235.00" width="2.25" height="2.25" fill="#376ff9"/><rect x="211.50" y="235.00" width="2.25" height="2.25" fill="#12c7e6"/><rect x="270.00" y="235.00" width="2.25" height="2.25" fill="#8000ff"/><rect x="342.00" y="235.00" width="2.25" height="2.25" fill="#8000ff"/><rect x="346.50" y="235.00" width="2.25" height="2.25" fill="#5bf9c7"/><rect x="364.50" y="235.00" width="2.25" height="2.25" fill="#8000ff"/><rect x="369.00" y="235.00" width="2.25" height="2.25" fill="#ff6f39"/><rect x="375.75" y="235.00" width="2.25" height="2.25" fill="#ff6f39"/><rect x="398.25" y="235.00" width="2.25" height="2.25" fill="#376ff9"/><rect x="450.00" y="235.00" width="2.25" height="2.25" fill="#376ff9"/><rect x="463.50" y="235.00" width="2.25" height="2.25" fill="#12c7e6"/><rect x="501.75" y="235.00" width="2.25" height="2.25" fill="#8000ff"/><rect x="510.75" y="235.00" width="2.25" height="2.25" fill="#376ff9"/><rect x="535.50" y="235.00" width="2.25" height="2.25" fill="#8000ff"/><rect x="164.25" y="237.25" width="2.25" height="2.25" fill="#5bf9c7"/><rect x="166.50" y="237.25" width="2.25" height="2.25" fill="#12c7e6"/><rect x="168.75" y="237.25" width="2.25" height="2.25" fill="#12c7e6"/><rect x="171.00" y="237.25" width="2.25" height="2.25" fill="#5bf9c7"/><rect x="191.25" y="237.25" width="2.25" height="2.25" fill="#376ff9"/><rect x="207.00" y="237.25" width="2.25" height="2.25" fill="#376ff9"/><rect x="267.75" y="237.25" width="2.25" height="2.25" fill="#12c7e6"/><rect x="346.50" y="237.25" width="2.25" height="2.25" fill="#376ff9"/><rect x="351.00" y="237.25" width="2.25" height="2.25" fill="#a4f99f"/><rect x="357.75" y="237.25" width="2.25" height="2.25" fill="#5bf9c7"/><rect x="364.50" y="237.25" width="2.25" height="2.25" fill="#ff0000"/><rect x="375.75" y="237.25" width="2.25" height="2.25" fill="#8000ff"/><rect x="378.00" y="237.25" width="2.25" height="2.25" fill="#ff6f39"/><rect x="445.50" y="237.25" width="2.25" height="2.25" fill="#376ff9"/><rect x="459.00" y="237.25" width="2.25" height="2.25" fill="#12c7e6"/><rect x="495.00" y="237.25" width="2.25" height="2.25" fill="#12c7e6"/><rect x="497.25" y="237.25" width="2.25" height="2.25" fill="#12c7e6"/><rect x="510.75" y="237.25" width="2.25" height="2.25" fill="#376ff9"/><rect x="535.50" y="237.25" width="2.25" height="2.25" fill="#376ff9"/><rect x="540.00" y="237.25" width="2.25" height="2.25" fill="#5bf9c7"/><rect x="546.75" y="237.25" width="2.25" height="2.25" fill="#5bf9c7"/><rect x="177.75" y="239.50" width="2.25" height="2.25" fill="#12c7e6"/><rect x="189.00" y="239.50" width="2.25" height="2.25" fill="#376ff9"/><rect x="195.75" y="239.50" width="2.25" height="2.25" fill="#12c7e6"/><rect x="220.50" y="239.50" width="2.25" height="2.25" fill="#376ff9"/><rect x="234.00" y="239.50" width="2.25" height="2.25" fill="#a4f99f"/><rect x="236.25" y="239.50" width="2.25" height="2.25" fill="#a4f99f"/><rect x="247.50" y="239.50" width="2.25" height="2.25" fill="#376ff9"/><rect x="346.50" y="239.50" width="2.25" height="2.25" fill="#8000ff"/><rect x="348.75" y="239.50" width="2.25" height="2.25" fill="#5bf9c7"/><rect x="357.75" y="239.50" width="2.25" height="2.25" fill="#ff0000"/><rect x="360.00" y="239.50" width="2.25" height="2.25" fill="#ff0000"/><rect x="373.50" y="239.50" width="2.25" height="2.25" fill="#5bf9c7"/><rect x="398.25" y="239.50" width="2.25" height="2.25" fill="#376ff9"/><rect x="456.75" y="239.50" width="2.25" height="2.25" fill="#376ff9"/><rect x="465.75" y="239.50" width="2.25" height="2.25" fill="#376ff9"/><rect x="130.50" y="241.75" width="2.25" height="2.25" fill="#12c7e6"/><rect x="146.25" y="241.75" width="2.25" height="2.25" fill="#376ff9"/><rect x="153.00" y="241.75" width="2.25" height="2.25" fill="#376ff9"/><rect x="173.25" y="241.75" width="2.25" height="2.25" fill="#12c7e6"/><rect x="218.25" y="241.75" width="2.25" height="2.25" fill="#376ff9"/><rect x="225.00" y="241.75" width="2.25" height="2.25" fill="#a4f99f"/><rect x="227.25" y="241.75" width="2.25" height="2.25" fill="#a4f99f"/><rect x="247.50" y="241.75" width="2.25" height="2.25" fill="#8000ff"/><rect x="249.75" y="241.75" width="2.25" height="2.25" fill="#376ff9"/><rect x="252.00" y="241.75" width="2.25" height="2.25" fill="#8000ff"/><rect x="272.25" y="241.75" width="2.25" height="2.25" fill="#12c7e6"/><rect x="355.50" y="241.75" width="2.25" height="2.25" fill="#a4f99f"/><rect x="357.75" y="241.75" width="2.25" height="2.25" fill="#ff6f39"/><rect x="364.50" y="241.75" width="2.25" height="2.25" fill="#a4f99f"/><rect x="443.25" y="241.75" width="2.25" height="2.25" fill="#5bf9c7"/><rect x="447.75" y="241.75" width="2.25" height="2.25" fill="#8000ff"/><rect x="468.00" y="241.75" width="2.25" height="2.25" fill="#376ff9"/><rect x="470.25" y="241.75" width="2.25" height="2.25" fill="#376ff9"/><rect x="542.25" y="241.75" width="2.25" height="2.25" fill="#8000ff"/><rect x="150.75" y="244.00" width="2.25" height="2.25" fill="#376ff9"/><rect x="164.25" y="244.00" width="2.25" height="2.25" fill="#12c7e6"/><rect x="166.50" y="244.00" width="2.25" height="2.25" fill="#12c7e6"/><rect x="168.75" y="244.00" width="2.25" height="2.25" fill="#12c7e6"/><rect x="182.25" y="244.00" width="2.25" height="2.25" fill="#12c7e6"/><rect x="195.75" y="244.00" width="2.25" height="2.25" fill="#12c7e6"/><rect x="207.00" y="244.00" width="2.25" height="2.25" fill="#12c7e6"/><rect x="225.00" y="244.00" width="2.25" height="2.25" fill="#12c7e6"/><rect x="249.75" y="244.00" width="2.25" height="2.25" fill="#12c7e6"/><rect x="254.25" y="244.00" width="2.25" height="2.25" fill="#12c7e6"/><rect x="256.50" y="244.00" width="2.25" height="2.25" fill="#12c7e6"/><rect x="258.75" y="244.00" width="2.25" height="2.25" fill="#8000ff"/><rect x="348.75" y="244.00" width="2.25" height="2.25" fill="#5bf9c7"/><rect x="364.50" y="244.00" width="2.25" height="2.25" fill="#5bf9c7"/><rect x="371.25" y="244.00" width="2.25" height="2.25" fill="#5bf9c7"/><rect x="378.00" y="244.00" width="2.25" height="2.25" fill="#5bf9c7"/><rect x="384.75" y="244.00" width="2.25" height="2.25" fill="#8000ff"/><rect x="387.00" y="244.00" width="2.25" height="2.25" fill="#8000ff"/><rect x="393.75" y="244.00" width="2.25" height="2.25" fill="#376ff9"/><rect x="443.25" y="244.00" width="2.25" height="2.25" fill="#376ff9"/><rect x="447.75" y="244.00" width="2.25" height="2.25" fill="#376ff9"/><rect x="472.50" y="244.00" width="2.25" height="2.25" fill="#8000ff"/><rect x="481.50" y="244.00" width="2.25" height="2.25" fill="#12c7e6"/><rect x="483.75" y="244.00" width="2.25" height="2.25" fill="#12c7e6"/><rect x="486.00" y="244.00" width="2.25" height="2.25" fill="#12c7e6"/><rect x="510.75" y="244.00" width="2.25" height="2.25" fill="#376ff9"/><rect x="546.75" y="244.00" width="2.25" height="2.25" fill="#8000ff"/><rect x="180.00" y="246.25" width="2.25" height="2.25" fill="#376ff9"/><rect x="182.25" y="246.25" width="2.25" height="2.25" fill="#12c7e6"/><rect x="225.00" y="246.25" width="2.25" height="2.25" fill="#12c7e6"/><rect x="229.50" y="246.25" width="2.25" height="2.25" fill="#376ff9"/><rect x="234.00" y="246.25" width="2.25" height="2.25" fill="#376ff9"/><rect x="240.75" y="246.25" width="2.25" height="2.25" fill="#8000ff"/><rect x="267.75" y="246.25" width="2.25" height="2.25" fill="#12c7e6"/><rect x="270.00" y="246.25" width="2.25" height="2.25" fill="#12c7e6"/><rect x="353.25" y="246.25" width="2.25" height="2.25" fill="#376ff9"/><rect x="357.75" y="246.25" width="2.25" height="2.25" fill="#8000ff"/><rect x="366.75" y="246.25" width="2.25" height="2.25" fill="#5bf9c7"/><rect x="369.00" y="246.25" width="2.25" height="2.25" fill="#5bf9c7"/><rect x="371.25" y="246.25" width="2.25" height="2.25" fill="#5bf9c7"/><rect x="373.50" y="246.25" width="2.25" height="2.25" fill="#5bf9c7"/><rect x="378.00" y="246.25" width="2.25" height="2.25" fill="#ff6f39"/><rect x="380.25" y="246.25" width="2.25" height="2.25" fill="#8000ff"/><rect x="384.75" y="246.25" width="2.25" height="2.25" fill="#8000ff"/><rect x="387.00" y="246.25" width="2.25" height="2.25" fill="#376ff9"/><rect x="400.50" y="246.25" width="2.25" height="2.25" fill="#8000ff"/><rect x="447.75" y="246.25" width="2.25" height="2.25" fill="#376ff9"/><rect x="546.75" y="246.25" width="2.25" height="2.25" fill="#8000ff"/><rect x="139.50" y="248.50" width="2.25" height="2.25" fill="#12c7e6"/><rect x="164.25" y="248.50" width="2.25" height="2.25" fill="#12c7e6"/><rect x="184.50" y="248.50" width="2.25" height="2.25" fill="#12c7e6"/><rect x="209.25" y="248.50" width="2.25" height="2.25" fill="#376ff9"/><rect x="254.25" y="248.50" width="2.25" height="2.25" fill="#12c7e6"/><rect x="263.25" y="248.50" width="2.25" height="2.25" fill="#12c7e6"/><rect x="351.00" y="248.50" width="2.25" height="2.25" fill="#8000ff"/><rect x="364.50" y="248.50" width="2.25" height="2.25" fill="#ff6f39"/><rect x="378.00" y="248.50" width="2.25" height="2.25" fill="#8000ff"/><rect x="393.75" y="248.50" width="2.25" height="2.25" fill="#8000ff"/><rect x="400.50" y="248.50" width="2.25" height="2.25" fill="#8000ff"/><rect x="452.25" y="248.50" width="2.25" height="2.25" fill="#12c7e6"/><rect x="456.75" y="248.50" width="2.25" height="2.25" fill="#376ff9"/><rect x="472.50" y="248.50" width="2.25" height="2.25" fill="#8000ff"/><rect x="486.00" y="248.50" width="2.25" height="2.25" fill="#376ff9"/><rect x="497.25" y="248.50" width="2.25" height="2.25" fill="#8000ff"/><rect x="504.00" y="248.50" width="2.25" height="2.25" fill="#376ff9"/><rect x="141.75" y="250.75" width="2.25" height="2.25" fill="#376ff9"/><rect x="159.75" y="250.75" width="2.25" height="2.25" fill="#12c7e6"/><rect x="195.75" y="250.75" width="2.25" height="2.25" fill="#12c7e6"/><rect x="211.50" y="250.75" width="2.25" height="2.25" fill="#376ff9"/><rect x="330.75" y="250.75" width="2.25" height="2.25" fill="#8000ff"/><rect x="378.00" y="250.75" width="2.25" height="2.25" fill="#5bf9c7"/><rect x="398.25" y="250.75" width="2.25" height="2.25" fill="#376ff9"/><rect x="447.75" y="250.75" width="2.25" height="2.25" fill="#376ff9"/><rect x="450.00" y="250.75" width="2.25" height="2.25" fill="#5bf9c7"/><rect x="488.25" y="250.75" width="2.25" height="2.25" fill="#8000ff"/><rect x="499.50" y="250.75" width="2.25" height="2.25" fill="#8000ff"/><rect x="546.75" y="250.75" width="2.25" height="2.25" fill="#5bf9c7"/><rect x="549.00" y="250.75" width="2.25" height="2.25" fill="#8000ff"/><rect x="139.50" y="253.00" width="2.25" height="2.25" fill="#376ff9"/><rect x="180.00" y="253.00" width="2.25" height="2.25" fill="#5bf9c7"/><rect x="186.75" y="253.00" width="2.25" height="2.25" fill="#12c7e6"/><rect x="189.00" y="253.00" width="2.25" height="2.25" fill="#376ff9"/><rect x="213.75" y="253.00" width="2.25" height="2.25" fill="#12c7e6"/><rect x="238.50" y="253.00" width="2.25" height="2.25" fill="#8000ff"/><rect x="240.75" y="253.00" width="2.25" height="2.25" fill="#376ff9"/><rect x="328.50" y="253.00" width="2.25" height="2.25" fill="#376ff9"/><rect x="373.50" y="253.00" width="2.25" height="2.25" fill="#5bf9c7"/><rect x="378.00" y="253.00" width="2.25" height="2.25" fill="#5bf9c7"/><rect x="396.00" y="253.00" width="2.25" height="2.25" fill="#376ff9"/><rect x="400.50" y="253.00" width="2.25" height="2.25" fill="#8000ff"/><rect x="407.25" y="253.00" width="2.25" height="2.25" fill="#8000ff"/><rect x="447.75" y="253.00" width="2.25" height="2.25" fill="#5bf9c7"/><rect x="470.25" y="253.00" width="2.25" height="2.25" fill="#8000ff"/><rect x="474.75" y="253.00" width="2.25" height="2.25" fill="#8000ff"/><rect x="497.25" y="253.00" width="2.25" height="2.25" fill="#8000ff"/><rect x="501.75" y="253.00" width="2.25" height="2.25" fill="#376ff9"/><rect x="157.50" y="255.25" width="2.25" height="2.25" fill="#12c7e6"/><rect x="189.00" y="255.25" width="2.25" height="2.25" fill="#12c7e6"/><rect x="216.00" y="255.25" width="2.25" height="2.25" fill="#12c7e6"/><rect x="218.25" y="255.25" width="2.25" height="2.25" fill="#376ff9"/><rect x="227.25" y="255.25" width="2.25" height="2.25" fill="#12c7e6"/><rect x="245.25" y="255.25" width="2.25" height="2.25" fill="#376ff9"/><rect x="328.50" y="255.25" width="2.25" height="2.25" fill="#376ff9"/><rect x="360.00" y="255.25" width="2.25" height="2.25" fill="#376ff9"/><rect x="375.75" y="255.25" width="2.25" height="2.25" fill="#5bf9c7"/><rect x="402.75" y="255.25" width="2.25" height="2.25" fill="#376ff9"/><rect x="501.75" y="255.25" width="2.25" height="2.25" fill="#376ff9"/><rect x="540.00" y="255.25" width="2.25" height="2.25" fill="#8000ff"/><rect x="544.50" y="255.25" width="2.25" height="2.25" fill="#8000ff"/><rect x="546.75" y="255.25" width="2.25" height="2.25" fill="#8000ff"/><rect x="153.00" y="257.50" width="2.25" height="2.25" fill="#376ff9"/><rect x="225.00" y="257.50" width="2.25" height="2.25" fill="#a4f99f"/><rect x="243.00" y="257.50" width="2.25" height="2.25" fill="#8000ff"/><rect x="330.75" y="257.50" width="2.25" height="2.25" fill="#8000ff"/><rect x="369.00" y="257.50" width="2.25" height="2.25" fill="#8000ff"/><rect x="371.25" y="257.50" width="2.25" height="2.25" fill="#5bf9c7"/><rect x="396.00" y="257.50" width="2.25" height="2.25" fill="#8000ff"/><rect x="411.75" y="257.50" width="2.25" height="2.25" fill="#376ff9"/><rect x="414.00" y="257.50" width="2.25" height="2.25" fill="#376ff9"/><rect x="472.50" y="257.50" width="2.25" height="2.25" fill="#376ff9"/><rect x="497.25" y="257.50" width="2.25" height="2.25" fill="#8000ff"/><rect x="501.75" y="257.50" width="2.25" height="2.25" fill="#376ff9"/><rect x="137.25" y="259.75" width="2.25" height="2.25" fill="#376ff9"/><rect x="198.00" y="259.75" width="2.25" height="2.25" fill="#376ff9"/><rect x="225.00" y="259.75" width="2.25" height="2.25" fill="#376ff9"/><rect x="229.50" y="259.75" width="2.25" height="2.25" fill="#12c7e6"/><rect x="371.25" y="259.75" width="2.25" height="2.25" fill="#5bf9c7"/><rect x="418.50" y="259.75" width="2.25" height="2.25" fill="#8000ff"/><rect x="499.50" y="259.75" width="2.25" height="2.25" fill="#8000ff"/><rect x="501.75" y="259.75" width="2.25" height="2.25" fill="#8000ff"/><rect x="504.00" y="259.75" width="2.25" height="2.25" fill="#8000ff"/><rect x="535.50" y="259.75" width="2.25" height="2.25" fill="#12c7e6"/><rect x="137.25" y="262.00" width="2.25" height="2.25" fill="#376ff9"/><rect x="198.00" y="262.00" width="2.25" height="2.25" fill="#376ff9"/><rect x="229.50" y="262.00" width="2.25" height="2.25" fill="#12c7e6"/><rect x="243.00" y="262.00" width="2.25" height="2.25" fill="#a4f99f"/><rect x="369.00" y="262.00" width="2.25" height="2.25" fill="#8000ff"/><rect x="414.00" y="262.00" width="2.25" height="2.25" fill="#376ff9"/><rect x="492.75" y="262.00" width="2.25" height="2.25" fill="#376ff9"/><rect x="495.00" y="262.00" width="2.25" height="2.25" fill="#8000ff"/><rect x="508.50" y="262.00" width="2.25" height="2.25" fill="#376ff9"/><rect x="510.75" y="262.00" width="2.25" height="2.25" fill="#376ff9"/><rect x="216.00" y="264.25" width="2.25" height="2.25" fill="#a4f99f"/><rect x="225.00" y="264.25" width="2.25" height="2.25" fill="#376ff9"/><rect x="240.75" y="264.25" width="2.25" height="2.25" fill="#a4f99f"/><rect x="495.00" y="264.25" width="2.25" height="2.25" fill="#376ff9"/><rect x="506.25" y="264.25" width="2.25" height="2.25" fill="#8000ff"/><rect x="522.00" y="264.25" width="2.25" height="2.25" fill="#376ff9"/><rect x="533.25" y="264.25" width="2.25" height="2.25" fill="#12c7e6"/><rect x="198.00" y="266.50" width="2.25" height="2.25" fill="#376ff9"/><rect x="218.25" y="266.50" width="2.25" height="2.25" fill="#376ff9"/><rect x="222.75" y="266.50" width="2.25" height="2.25" fill="#376ff9"/><rect x="238.50" y="266.50" width="2.25" height="2.25" fill="#a4f99f"/><rect x="243.00" y="266.50" width="2.25" height="2.25" fill="#12c7e6"/><rect x="369.00" y="266.50" width="2.25" height="2.25" fill="#376ff9"/><rect x="371.25" y="266.50" width="2.25" height="2.25" fill="#5bf9c7"/><rect x="373.50" y="266.50" width="2.25" height="2.25" fill="#376ff9"/><rect x="398.25" y="266.50" width="2.25" height="2.25" fill="#5bf9c7"/><rect x="409.50" y="266.50" width="2.25" height="2.25" fill="#5bf9c7"/><rect x="416.25" y="266.50" width="2.25" height="2.25" fill="#8000ff"/><rect x="418.50" y="266.50" width="2.25" height="2.25" fill="#8000ff"/><rect x="513.00" y="266.50" width="2.25" height="2.25" fill="#8000ff"/><rect x="515.25" y="266.50" width="2.25" height="2.25" fill="#8000ff"/><rect x="231.75" y="268.75" width="2.25" height="2.25" fill="#376ff9"/><rect x="245.25" y="268.75" width="2.25" height="2.25" fill="#12c7e6"/><rect x="321.75" y="268.75" width="2.25" height="2.25" fill="#376ff9"/><rect x="326.25" y="268.75" width="2.25" height="2.25" fill="#376ff9"/><rect x="378.00" y="268.75" width="2.25" height="2.25" fill="#5bf9c7"/><rect x="380.25" y="268.75" width="2.25" height="2.25" fill="#376ff9"/><rect x="416.25" y="268.75" width="2.25" height="2.25" fill="#8000ff"/><rect x="495.00" y="268.75" width="2.25" height="2.25" fill="#376ff9"/><rect x="517.50" y="268.75" width="2.25" height="2.25" fill="#8000ff"/><rect x="540.00" y="268.75" width="2.25" height="2.25" fill="#12c7e6"/><rect x="130.50" y="271.00" width="2.25" height="2.25" fill="#12c7e6"/><rect x="150.75" y="271.00" width="2.25" height="2.25" fill="#12c7e6"/><rect x="195.75" y="271.00" width="2.25" height="2.25" fill="#12c7e6"/><rect x="198.00" y="271.00" width="2.25" height="2.25" fill="#376ff9"/><rect x="200.25" y="271.00" width="2.25" height="2.25" fill="#376ff9"/><rect x="319.50" y="271.00" width="2.25" height="2.25" fill="#8000ff"/><rect x="382.50" y="271.00" width="2.25" height="2.25" fill="#5bf9c7"/><rect x="384.75" y="271.00" width="2.25" height="2.25" fill="#5bf9c7"/><rect x="391.50" y="271.00" width="2.25" height="2.25" fill="#376ff9"/><rect x="393.75" y="271.00" width="2.25" height="2.25" fill="#5bf9c7"/><rect x="405.00" y="271.00" width="2.25" height="2.25" fill="#5bf9c7"/><rect x="407.25" y="271.00" width="2.25" height="2.25" fill="#5bf9c7"/><rect x="409.50" y="271.00" width="2.25" height="2.25" fill="#8000ff"/><rect x="411.75" y="271.00" width="2.25" height="2.25" fill="#376ff9"/><rect x="427.50" y="271.00" width="2.25" height="2.25" fill="#5bf9c7"/><rect x="499.50" y="271.00" width="2.25" height="2.25" fill="#376ff9"/><rect x="508.50" y="271.00" width="2.25" height="2.25" fill="#8000ff"/><rect x="517.50" y="271.00" width="2.25" height="2.25" fill="#8000ff"/><rect x="519.75" y="271.00" width="2.25" height="2.25" fill="#376ff9"/><rect x="549.00" y="271.00" width="2.25" height="2.25" fill="#376ff9"/><rect x="551.25" y="271.00" width="2.25" height="2.25" fill="#376ff9"/><rect x="128.25" y="273.25" width="2.25" height="2.25" fill="#12c7e6"/><rect x="139.50" y="273.25" width="2.25" height="2.25" fill="#8000ff"/><rect x="144.00" y="273.25" width="2.25" height="2.25" fill="#376ff9"/><rect x="234.00" y="273.25" width="2.25" height="2.25" fill="#12c7e6"/><rect x="375.75" y="273.25" width="2.25" height="2.25" fill="#376ff9"/><rect x="380.25" y="273.25" width="2.25" height="2.25" fill="#376ff9"/><rect x="400.50" y="273.25" width="2.25" height="2.25" fill="#5bf9c7"/><rect x="432.00" y="273.25" width="2.25" height="2.25" fill="#5bf9c7"/><rect x="434.25" y="273.25" width="2.25" height="2.25" fill="#5bf9c7"/><rect x="436.50" y="273.25" width="2.25" height="2.25" fill="#5bf9c7"/><rect x="472.50" y="273.25" width="2.25" height="2.25" fill="#376ff9"/><rect x="128.25" y="275.50" width="2.25" height="2.25" fill="#12c7e6"/><rect x="137.25" y="275.50" width="2.25" height="2.25" fill="#12c7e6"/><rect x="144.00" y="275.50" width="2.25" height="2.25" fill="#12c7e6"/><rect x="198.00" y="275.50" width="2.25" height="2.25" fill="#5bf9c7"/><rect x="317.25" y="275.50" width="2.25" height="2.25" fill="#8000ff"/><rect x="380.25" y="275.50" width="2.25" height="2.25" fill="#376ff9"/><rect x="396.00" y="275.50" width="2.25" height="2.25" fill="#5bf9c7"/><rect x="402.75" y="275.50" width="2.25" height="2.25" fill="#8000ff"/><rect x="429.75" y="275.50" width="2.25" height="2.25" fill="#5bf9c7"/><rect x="443.25" y="275.50" width="2.25" height="2.25" fill="#5bf9c7"/><rect x="497.25" y="275.50" width="2.25" height="2.25" fill="#8000ff"/><rect x="513.00" y="275.50" width="2.25" height="2.25" fill="#376ff9"/><rect x="542.25" y="275.50" width="2.25" height="2.25" fill="#5bf9c7"/><rect x="544.50" y="275.50" width="2.25" height="2.25" fill="#376ff9"/><rect x="546.75" y="275.50" width="2.25" height="2.25" fill="#376ff9"/><rect x="132.75" y="277.75" width="2.25" height="2.25" fill="#8000ff"/><rect x="193.50" y="277.75" width="2.25" height="2.25" fill="#376ff9"/><rect x="195.75" y="277.75" width="2.25" height="2.25" fill="#5bf9c7"/><rect x="312.75" y="277.75" width="2.25" height="2.25" fill="#8000ff"/><rect x="393.75" y="277.75" width="2.25" height="2.25" fill="#8000ff"/><rect x="429.75" y="277.75" width="2.25" height="2.25" fill="#5bf9c7"/><rect x="432.00" y="277.75" width="2.25" height="2.25" fill="#376ff9"/><rect x="434.25" y="277.75" width="2.25" height="2.25" fill="#376ff9"/><rect x="441.00" y="277.75" width="2.25" height="2.25" fill="#376ff9"/><rect x="481.50" y="277.75" width="2.25" height="2.25" fill="#376ff9"/><rect x="492.75" y="277.75" width="2.25" height="2.25" fill="#376ff9"/><rect x="499.50" y="277.75" width="2.25" height="2.25" fill="#376ff9"/><rect x="508.50" y="277.75" width="2.25" height="2.25" fill="#376ff9"/><rect x="137.25" y="280.00" width="2.25" height="2.25" fill="#12c7e6"/><rect x="139.50" y="280.00" width="2.25" height="2.25" fill="#8000ff"/><rect x="184.50" y="280.00" width="2.25" height="2.25" fill="#5bf9c7"/><rect x="366.75" y="280.00" width="2.25" height="2.25" fill="#8000ff"/><rect x="429.75" y="280.00" width="2.25" height="2.25" fill="#376ff9"/><rect x="486.00" y="280.00" width="2.25" height="2.25" fill="#376ff9"/><rect x="501.75" y="280.00" width="2.25" height="2.25" fill="#376ff9"/><rect x="135.00" y="282.25" width="2.25" height="2.25" fill="#5bf9c7"/><rect x="139.50" y="282.25" width="2.25" height="2.25" fill="#8000ff"/><rect x="202.50" y="282.25" width="2.25" height="2.25" fill="#376ff9"/><rect x="382.50" y="282.25" width="2.25" height="2.25" fill="#376ff9"/><rect x="483.75" y="282.25" width="2.25" height="2.25" fill="#5bf9c7"/><rect x="486.00" y="282.25" width="2.25" height="2.25" fill="#8000ff"/><rect x="501.75" y="282.25" width="2.25" height="2.25" fill="#376ff9"/><rect x="132.75" y="284.50" width="2.25" height="2.25" fill="#12c7e6"/><rect x="393.75" y="284.50" width="2.25" height="2.25" fill="#a4f99f"/><rect x="504.00" y="284.50" width="2.25" height="2.25" fill="#8000ff"/><rect x="432.00" y="286.75" width="2.25" height="2.25" fill="#376ff9"/><rect x="445.50" y="286.75" width="2.25" height="2.25" fill="#5bf9c7"/><rect x="519.75" y="286.75" width="2.25" height="2.25" fill="#376ff9"/><rect x="524.25" y="286.75" width="2.25" height="2.25" fill="#376ff9"/><rect x="357.75" y="289.00" width="2.25" height="2.25" fill="#8000ff"/><rect x="400.50" y="289.00" width="2.25" height="2.25" fill="#ff6f39"/><rect x="432.00" y="289.00" width="2.25" height="2.25" fill="#5bf9c7"/><rect x="445.50" y="289.00" width="2.25" height="2.25" fill="#5bf9c7"/><rect x="495.00" y="289.00" width="2.25" height="2.25" fill="#376ff9"/><rect x="119.25" y="291.25" width="2.25" height="2.25" fill="#5bf9c7"/><rect x="202.50" y="291.25" width="2.25" height="2.25" fill="#5bf9c7"/><rect x="216.00" y="291.25" width="2.25" height="2.25" fill="#5bf9c7"/><rect x="308.25" y="291.25" width="2.25" height="2.25" fill="#8000ff"/><rect x="351.00" y="291.25" width="2.25" height="2.25" fill="#8000ff"/><rect x="371.25" y="291.25" width="2.25" height="2.25" fill="#8000ff"/><rect x="396.00" y="291.25" width="2.25" height="2.25" fill="#376ff9"/><rect x="400.50" y="291.25" width="2.25" height="2.25" fill="#ff6f39"/><rect x="423.00" y="291.25" width="2.25" height="2.25" fill="#376ff9"/><rect x="443.25" y="291.25" width="2.25" height="2.25" fill="#5bf9c7"/><rect x="522.00" y="291.25" width="2.25" height="2.25" fill="#8000ff"/><rect x="526.50" y="291.25" width="2.25" height="2.25" fill="#8000ff"/><rect x="119.25" y="293.50" width="2.25" height="2.25" fill="#376ff9"/><rect x="121.50" y="293.50" width="2.25" height="2.25" fill="#376ff9"/><rect x="195.75" y="293.50" width="2.25" height="2.25" fill="#8000ff"/><rect x="202.50" y="293.50" width="2.25" height="2.25" fill="#5bf9c7"/><rect x="207.00" y="293.50" width="2.25" height="2.25" fill="#376ff9"/><rect x="216.00" y="293.50" width="2.25" height="2.25" fill="#5bf9c7"/><rect x="308.25" y="293.50" width="2.25" height="2.25" fill="#8000ff"/><rect x="355.50" y="293.50" width="2.25" height="2.25" fill="#376ff9"/><rect x="371.25" y="293.50" width="2.25" height="2.25" fill="#8000ff"/><rect x="384.75" y="293.50" width="2.25" height="2.25" fill="#5bf9c7"/><rect x="387.00" y="293.50" width="2.25" height="2.25" fill="#376ff9"/><rect x="393.75" y="293.50" width="2.25" height="2.25" fill="#ff6f39"/><rect x="398.25" y="293.50" width="2.25" height="2.25" fill="#5bf9c7"/><rect x="400.50" y="293.50" width="2.25" height="2.25" fill="#ff6f39"/><rect x="425.25" y="293.50" width="2.25" height="2.25" fill="#376ff9"/><rect x="474.75" y="293.50" width="2.25" height="2.25" fill="#376ff9"/><rect x="479.25" y="293.50" width="2.25" height="2.25" fill="#376ff9"/><rect x="481.50" y="293.50" width="2.25" height="2.25" fill="#376ff9"/><rect x="486.00" y="293.50" width="2.25" height="2.25" fill="#5bf9c7"/><rect x="490.50" y="293.50" width="2.25" height="2.25" fill="#376ff9"/><rect x="492.75" y="293.50" width="2.25" height="2.25" fill="#376ff9"/><rect x="499.50" y="293.50" width="2.25" height="2.25" fill="#8000ff"/><rect x="519.75" y="293.50" width="2.25" height="2.25" fill="#5bf9c7"/><rect x="522.00" y="293.50" width="2.25" height="2.25" fill="#376ff9"/><rect x="526.50" y="293.50" width="2.25" height="2.25" fill="#ff6f39"/><rect x="528.75" y="293.50" width="2.25" height="2.25" fill="#8000ff"/><rect x="216.00" y="295.75" width="2.25" height="2.25" fill="#a4f99f"/><rect x="308.25" y="295.75" width="2.25" height="2.25" fill="#8000ff"/><rect x="369.00" y="295.75" width="2.25" height="2.25" fill="#376ff9"/><rect x="470.25" y="295.75" width="2.25" height="2.25" fill="#5bf9c7"/><rect x="472.50" y="295.75" width="2.25" height="2.25" fill="#376ff9"/><rect x="474.75" y="295.75" width="2.25" height="2.25" fill="#376ff9"/><rect x="477.00" y="295.75" width="2.25" height="2.25" fill="#376ff9"/><rect x="492.75" y="295.75" width="2.25" height="2.25" fill="#376ff9"/><rect x="524.25" y="295.75" width="2.25" height="2.25" fill="#ff6f39"/><rect x="528.75" y="295.75" width="2.25" height="2.25" fill="#8000ff"/><rect x="128.25" y="298.00" width="2.25" height="2.25" fill="#12c7e6"/><rect x="180.00" y="298.00" width="2.25" height="2.25" fill="#376ff9"/><rect x="200.25" y="298.00" width="2.25" height="2.25" fill="#a4f99f"/><rect x="218.25" y="298.00" width="2.25" height="2.25" fill="#376ff9"/><rect x="353.25" y="298.00" width="2.25" height="2.25" fill="#376ff9"/><rect x="398.25" y="298.00" width="2.25" height="2.25" fill="#ff6f39"/><rect x="488.25" y="298.00" width="2.25" height="2.25" fill="#8000ff"/><rect x="495.00" y="298.00" width="2.25" height="2.25" fill="#376ff9"/><rect x="519.75" y="298.00" width="2.25" height="2.25" fill="#376ff9"/><rect x="522.00" y="298.00" width="2.25" height="2.25" fill="#376ff9"/><rect x="121.50" y="300.25" width="2.25" height="2.25" fill="#5bf9c7"/><rect x="126.00" y="300.25" width="2.25" height="2.25" fill="#376ff9"/><rect x="130.50" y="300.25" width="2.25" height="2.25" fill="#12c7e6"/><rect x="177.75" y="300.25" width="2.25" height="2.25" fill="#5bf9c7"/><rect x="182.25" y="300.25" width="2.25" height="2.25" fill="#5bf9c7"/><rect x="191.25" y="300.25" width="2.25" height="2.25" fill="#8000ff"/><rect x="220.50" y="300.25" width="2.25" height="2.25" fill="#a4f99f"/><rect x="222.75" y="300.25" width="2.25" height="2.25" fill="#12c7e6"/><rect x="231.75" y="300.25" width="2.25" height="2.25" fill="#376ff9"/><rect x="355.50" y="300.25" width="2.25" height="2.25" fill="#8000ff"/><rect x="418.50" y="300.25" width="2.25" height="2.25" fill="#ff0000"/><rect x="420.75" y="300.25" width="2.25" height="2.25" fill="#5bf9c7"/><rect x="423.00" y="300.25" width="2.25" height="2.25" fill="#a4f99f"/><rect x="438.75" y="300.25" width="2.25" height="2.25" fill="#a4f99f"/><rect x="441.00" y="300.25" width="2.25" height="2.25" fill="#376ff9"/><rect x="445.50" y="300.25" width="2.25" height="2.25" fill="#ff0000"/><rect x="450.00" y="300.25" width="2.25" height="2.25" fill="#376ff9"/><rect x="495.00" y="300.25" width="2.25" height="2.25" fill="#8000ff"/><rect x="519.75" y="300.25" width="2.25" height="2.25" fill="#a4f99f"/><rect x="522.00" y="300.25" width="2.25" height="2.25" fill="#ff0000"/><rect x="524.25" y="300.25" width="2.25" height="2.25" fill="#a4f99f"/><rect x="528.75" y="300.25" width="2.25" height="2.25" fill="#ff0000"/><rect x="121.50" y="302.50" width="2.25" height="2.25" fill="#376ff9"/><rect x="132.75" y="302.50" width="2.25" height="2.25" fill="#376ff9"/><rect x="137.25" y="302.50" width="2.25" height="2.25" fill="#376ff9"/><rect x="141.75" y="302.50" width="2.25" height="2.25" fill="#12c7e6"/><rect x="184.50" y="302.50" width="2.25" height="2.25" fill="#5bf9c7"/><rect x="220.50" y="302.50" width="2.25" height="2.25" fill="#a4f99f"/><rect x="225.00" y="302.50" width="2.25" height="2.25" fill="#376ff9"/><rect x="227.25" y="302.50" width="2.25" height="2.25" fill="#376ff9"/><rect x="238.50" y="302.50" width="2.25" height="2.25" fill="#376ff9"/><rect x="306.00" y="302.50" width="2.25" height="2.25" fill="#8000ff"/><rect x="382.50" y="302.50" width="2.25" height="2.25" fill="#5bf9c7"/><rect x="387.00" y="302.50" width="2.25" height="2.25" fill="#376ff9"/><rect x="420.75" y="302.50" width="2.25" height="2.25" fill="#ff0000"/><rect x="450.00" y="302.50" width="2.25" height="2.25" fill="#5bf9c7"/><rect x="454.50" y="302.50" width="2.25" height="2.25" fill="#376ff9"/><rect x="506.25" y="302.50" width="2.25" height="2.25" fill="#12c7e6"/><rect x="519.75" y="302.50" width="2.25" height="2.25" fill="#ff0000"/><rect x="524.25" y="302.50" width="2.25" height="2.25" fill="#ff0000"/><rect x="528.75" y="302.50" width="2.25" height="2.25" fill="#5bf9c7"/><rect x="535.50" y="302.50" width="2.25" height="2.25" fill="#5bf9c7"/><rect x="123.75" y="304.75" width="2.25" height="2.25" fill="#5bf9c7"/><rect x="132.75" y="304.75" width="2.25" height="2.25" fill="#376ff9"/><rect x="137.25" y="304.75" width="2.25" height="2.25" fill="#376ff9"/><rect x="184.50" y="304.75" width="2.25" height="2.25" fill="#8000ff"/><rect x="220.50" y="304.75" width="2.25" height="2.25" fill="#a4f99f"/><rect x="227.25" y="304.75" width="2.25" height="2.25" fill="#376ff9"/><rect x="384.75" y="304.75" width="2.25" height="2.25" fill="#376ff9"/><rect x="414.00" y="304.75" width="2.25" height="2.25" fill="#ff6f39"/><rect x="416.25" y="304.75" width="2.25" height="2.25" fill="#5bf9c7"/><rect x="423.00" y="304.75" width="2.25" height="2.25" fill="#376ff9"/><rect x="425.25" y="304.75" width="2.25" height="2.25" fill="#ff6f39"/><rect x="427.50" y="304.75" width="2.25" height="2.25" fill="#ff0000"/><rect x="432.00" y="304.75" width="2.25" height="2.25" fill="#ff6f39"/><rect x="443.25" y="304.75" width="2.25" height="2.25" fill="#5bf9c7"/><rect x="445.50" y="304.75" width="2.25" height="2.25" fill="#5bf9c7"/><rect x="454.50" y="304.75" width="2.25" height="2.25" fill="#a4f99f"/><rect x="456.75" y="304.75" width="2.25" height="2.25" fill="#5bf9c7"/><rect x="463.50" y="304.75" width="2.25" height="2.25" fill="#376ff9"/><rect x="488.25" y="304.75" width="2.25" height="2.25" fill="#8000ff"/><rect x="508.50" y="304.75" width="2.25" height="2.25" fill="#376ff9"/><rect x="522.00" y="304.75" width="2.25" height="2.25" fill="#5bf9c7"/><rect x="526.50" y="304.75" width="2.25" height="2.25" fill="#a4f99f"/><rect x="528.75" y="304.75" width="2.25" height="2.25" fill="#a4f99f"/><rect x="531.00" y="304.75" width="2.25" height="2.25" fill="#376ff9"/><rect x="533.25" y="304.75" width="2.25" height="2.25" fill="#5bf9c7"/><rect x="535.50" y="304.75" width="2.25" height="2.25" fill="#5bf9c7"/><rect x="117.00" y="307.00" width="2.25" height="2.25" fill="#12c7e6"/><rect x="121.50" y="307.00" width="2.25" height="2.25" fill="#5bf9c7"/><rect x="141.75" y="307.00" width="2.25" height="2.25" fill="#12c7e6"/><rect x="146.25" y="307.00" width="2.25" height="2.25" fill="#5bf9c7"/><rect x="177.75" y="307.00" width="2.25" height="2.25" fill="#5bf9c7"/><rect x="180.00" y="307.00" width="2.25" height="2.25" fill="#376ff9"/><rect x="184.50" y="307.00" width="2.25" height="2.25" fill="#12c7e6"/><rect x="204.75" y="307.00" width="2.25" height="2.25" fill="#5bf9c7"/><rect x="211.50" y="307.00" width="2.25" height="2.25" fill="#376ff9"/><rect x="218.25" y="307.00" width="2.25" height="2.25" fill="#376ff9"/><rect x="418.50" y="307.00" width="2.25" height="2.25" fill="#ff0000"/><rect x="423.00" y="307.00" width="2.25" height="2.25" fill="#ff6f39"/><rect x="429.75" y="307.00" width="2.25" height="2.25" fill="#ff0000"/><rect x="454.50" y="307.00" width="2.25" height="2.25" fill="#376ff9"/><rect x="459.00" y="307.00" width="2.25" height="2.25" fill="#5bf9c7"/><rect x="461.25" y="307.00" width="2.25" height="2.25" fill="#ff6f39"/><rect x="499.50" y="307.00" width="2.25" height="2.25" fill="#8000ff"/><rect x="506.25" y="307.00" width="2.25" height="2.25" fill="#376ff9"/><rect x="513.00" y="307.00" width="2.25" height="2.25" fill="#12c7e6"/><rect x="517.50" y="307.00" width="2.25" height="2.25" fill="#376ff9"/><rect x="526.50" y="307.00" width="2.25" height="2.25" fill="#ff6f39"/><rect x="537.75" y="307.00" width="2.25" height="2.25" fill="#8000ff"/><rect x="141.75" y="309.25" width="2.25" height="2.25" fill="#376ff9"/><rect x="184.50" y="309.25" width="2.25" height="2.25" fill="#5bf9c7"/><rect x="193.50" y="309.25" width="2.25" height="2.25" fill="#5bf9c7"/><rect x="195.75" y="309.25" width="2.25" height="2.25" fill="#ff6f39"/><rect x="222.75" y="309.25" width="2.25" height="2.25" fill="#a4f99f"/><rect x="306.00" y="309.25" width="2.25" height="2.25" fill="#8000ff"/><rect x="414.00" y="309.25" width="2.25" height="2.25" fill="#ff6f39"/><rect x="423.00" y="309.25" width="2.25" height="2.25" fill="#5bf9c7"/><rect x="425.25" y="309.25" width="2.25" height="2.25" fill="#ff0000"/><rect x="429.75" y="309.25" width="2.25" height="2.25" fill="#ff0000"/><rect x="441.00" y="309.25" width="2.25" height="2.25" fill="#5bf9c7"/><rect x="443.25" y="309.25" width="2.25" height="2.25" fill="#376ff9"/><rect x="477.00" y="309.25" width="2.25" height="2.25" fill="#5bf9c7"/><rect x="499.50" y="309.25" width="2.25" height="2.25" fill="#8000ff"/><rect x="506.25" y="309.25" width="2.25" height="2.25" fill="#12c7e6"/><rect x="528.75" y="309.25" width="2.25" height="2.25" fill="#8000ff"/><rect x="537.75" y="309.25" width="2.25" height="2.25" fill="#8000ff"/><rect x="540.00" y="309.25" width="2.25" height="2.25" fill="#8000ff"/><rect x="121.50" y="311.50" width="2.25" height="2.25" fill="#5bf9c7"/><rect x="146.25" y="311.50" width="2.25" height="2.25" fill="#5bf9c7"/><rect x="209.25" y="311.50" width="2.25" height="2.25" fill="#a4f99f"/><rect x="213.75" y="311.50" width="2.25" height="2.25" fill="#a4f99f"/><rect x="353.25" y="311.50" width="2.25" height="2.25" fill="#8000ff"/><rect x="400.50" y="311.50" width="2.25" height="2.25" fill="#5bf9c7"/><rect x="402.75" y="311.50" width="2.25" height="2.25" fill="#5bf9c7"/><rect x="418.50" y="311.50" width="2.25" height="2.25" fill="#5bf9c7"/><rect x="420.75" y="311.50" width="2.25" height="2.25" fill="#ff0000"/><rect x="427.50" y="311.50" width="2.25" height="2.25" fill="#ff0000"/><rect x="434.25" y="311.50" width="2.25" height="2.25" fill="#376ff9"/><rect x="441.00" y="311.50" width="2.25" height="2.25" fill="#a4f99f"/><rect x="447.75" y="311.50" width="2.25" height="2.25" fill="#ff6f39"/><rect x="463.50" y="311.50" width="2.25" height="2.25" fill="#ff6f39"/><rect x="481.50" y="311.50" width="2.25" height="2.25" fill="#a4f99f"/><rect x="483.75" y="311.50" width="2.25" height="2.25" fill="#12c7e6"/><rect x="495.00" y="311.50" width="2.25" height="2.25" fill="#a4f99f"/><rect x="499.50" y="311.50" width="2.25" height="2.25" fill="#8000ff"/><rect x="524.25" y="311.50" width="2.25" height="2.25" fill="#5bf9c7"/><rect x="526.50" y="311.50" width="2.25" height="2.25" fill="#5bf9c7"/><rect x="528.75" y="311.50" width="2.25" height="2.25" fill="#8000ff"/><rect x="126.00" y="313.75" width="2.25" height="2.25" fill="#12c7e6"/><rect x="141.75" y="313.75" width="2.25" height="2.25" fill="#12c7e6"/><rect x="144.00" y="313.75" width="2.25" height="2.25" fill="#12c7e6"/><rect x="146.25" y="313.75" width="2.25" height="2.25" fill="#376ff9"/><rect x="216.00" y="313.75" width="2.25" height="2.25" fill="#a4f99f"/><rect x="218.25" y="313.75" width="2.25" height="2.25" fill="#a4f99f"/><rect x="308.25" y="313.75" width="2.25" height="2.25" fill="#8000ff"/><rect x="402.75" y="313.75" width="2.25" height="2.25" fill="#5bf9c7"/><rect x="432.00" y="313.75" width="2.25" height="2.25" fill="#ff6f39"/><rect x="438.75" y="313.75" width="2.25" height="2.25" fill="#a4f99f"/><rect x="468.00" y="313.75" width="2.25" height="2.25" fill="#5bf9c7"/><rect x="472.50" y="313.75" width="2.25" height="2.25" fill="#5bf9c7"/><rect x="474.75" y="313.75" width="2.25" height="2.25" fill="#5bf9c7"/><rect x="481.50" y="313.75" width="2.25" height="2.25" fill="#a4f99f"/><rect x="499.50" y="313.75" width="2.25" height="2.25" fill="#8000ff"/><rect x="506.25" y="313.75" width="2.25" height="2.25" fill="#12c7e6"/><rect x="510.75" y="313.75" width="2.25" height="2.25" fill="#5bf9c7"/><rect x="524.25" y="313.75" width="2.25" height="2.25" fill="#5bf9c7"/><rect x="540.00" y="313.75" width="2.25" height="2.25" fill="#8000ff"/><rect x="117.00" y="316.00" width="2.25" height="2.25" fill="#12c7e6"/><rect x="119.25" y="316.00" width="2.25" height="2.25" fill="#12c7e6"/><rect x="121.50" y="316.00" width="2.25" height="2.25" fill="#12c7e6"/><rect x="123.75" y="316.00" width="2.25" height="2.25" fill="#5bf9c7"/><rect x="135.00" y="316.00" width="2.25" height="2.25" fill="#12c7e6"/><rect x="139.50" y="316.00" width="2.25" height="2.25" fill="#12c7e6"/><rect x="180.00" y="316.00" width="2.25" height="2.25" fill="#12c7e6"/><rect x="218.25" y="316.00" width="2.25" height="2.25" fill="#376ff9"/><rect x="299.25" y="316.00" width="2.25" height="2.25" fill="#376ff9"/><rect x="344.25" y="316.00" width="2.25" height="2.25" fill="#8000ff"/><rect x="389.25" y="316.00" width="2.25" height="2.25" fill="#5bf9c7"/><rect x="402.75" y="316.00" width="2.25" height="2.25" fill="#5bf9c7"/><rect x="411.75" y="316.00" width="2.25" height="2.25" fill="#ff0000"/><rect x="420.75" y="316.00" width="2.25" height="2.25" fill="#5bf9c7"/><rect x="427.50" y="316.00" width="2.25" height="2.25" fill="#ff0000"/><rect x="436.50" y="316.00" width="2.25" height="2.25" fill="#5bf9c7"/><rect x="445.50" y="316.00" width="2.25" height="2.25" fill="#ff0000"/><rect x="447.75" y="316.00" width="2.25" height="2.25" fill="#5bf9c7"/><rect x="461.25" y="316.00" width="2.25" height="2.25" fill="#ff0000"/><rect x="465.75" y="316.00" width="2.25" height="2.25" fill="#5bf9c7"/><rect x="470.25" y="316.00" width="2.25" height="2.25" fill="#5bf9c7"/><rect x="472.50" y="316.00" width="2.25" height="2.25" fill="#5bf9c7"/><rect x="501.75" y="316.00" width="2.25" height="2.25" fill="#376ff9"/><rect x="517.50" y="316.00" width="2.25" height="2.25" fill="#a4f99f"/><rect x="544.50" y="316.00" width="2.25" height="2.25" fill="#8000ff"/><rect x="546.75" y="316.00" width="2.25" height="2.25" fill="#5bf9c7"/><rect x="135.00" y="318.25" width="2.25" height="2.25" fill="#5bf9c7"/><rect x="144.00" y="318.25" width="2.25" height="2.25" fill="#5bf9c7"/><rect x="189.00" y="318.25" width="2.25" height="2.25" fill="#12c7e6"/><rect x="191.25" y="318.25" width="2.25" height="2.25" fill="#5bf9c7"/><rect x="344.25" y="318.25" width="2.25" height="2.25" fill="#8000ff"/><rect x="348.75" y="318.25" width="2.25" height="2.25" fill="#8000ff"/><rect x="400.50" y="318.25" width="2.25" height="2.25" fill="#a4f99f"/><rect x="402.75" y="318.25" width="2.25" height="2.25" fill="#a4f99f"/><rect x="414.00" y="318.25" width="2.25" height="2.25" fill="#12c7e6"/><rect x="418.50" y="318.25" width="2.25" height="2.25" fill="#376ff9"/><rect x="420.75" y="318.25" width="2.25" height="2.25" fill="#376ff9"/><rect x="423.00" y="318.25" width="2.25" height="2.25" fill="#ff6f39"/><rect x="436.50" y="318.25" width="2.25" height="2.25" fill="#5bf9c7"/><rect x="441.00" y="318.25" width="2.25" height="2.25" fill="#ff0000"/><rect x="445.50" y="318.25" width="2.25" height="2.25" fill="#376ff9"/><rect x="447.75" y="318.25" width="2.25" height="2.25" fill="#ff0000"/><rect x="452.25" y="318.25" width="2.25" height="2.25" fill="#376ff9"/><rect x="546.75" y="318.25" width="2.25" height="2.25" fill="#12c7e6"/><rect x="123.75" y="320.50" width="2.25" height="2.25" fill="#376ff9"/><rect x="148.50" y="320.50" width="2.25" height="2.25" fill="#376ff9"/><rect x="150.75" y="320.50" width="2.25" height="2.25" fill="#12c7e6"/><rect x="222.75" y="320.50" width="2.25" height="2.25" fill="#8000ff"/><rect x="303.75" y="320.50" width="2.25" height="2.25" fill="#8000ff"/><rect x="402.75" y="320.50" width="2.25" height="2.25" fill="#5bf9c7"/><rect x="409.50" y="320.50" width="2.25" height="2.25" fill="#a4f99f"/><rect x="414.00" y="320.50" width="2.25" height="2.25" fill="#5bf9c7"/><rect x="418.50" y="320.50" width="2.25" height="2.25" fill="#ff6f39"/><rect x="438.75" y="320.50" width="2.25" height="2.25" fill="#ff6f39"/><rect x="450.00" y="320.50" width="2.25" height="2.25" fill="#ff6f39"/><rect x="454.50" y="320.50" width="2.25" height="2.25" fill="#ff0000"/><rect x="456.75" y="320.50" width="2.25" height="2.25" fill="#5bf9c7"/><rect x="463.50" y="320.50" width="2.25" height="2.25" fill="#376ff9"/><rect x="468.00" y="320.50" width="2.25" height="2.25" fill="#5bf9c7"/><rect x="472.50" y="320.50" width="2.25" height="2.25" fill="#a4f99f"/><rect x="510.75" y="320.50" width="2.25" height="2.25" fill="#5bf9c7"/><rect x="513.00" y="320.50" width="2.25" height="2.25" fill="#a4f99f"/><rect x="119.25" y="322.75" width="2.25" height="2.25" fill="#376ff9"/><rect x="121.50" y="322.75" width="2.25" height="2.25" fill="#5bf9c7"/><rect x="126.00" y="322.75" width="2.25" height="2.25" fill="#12c7e6"/><rect x="137.25" y="322.75" width="2.25" height="2.25" fill="#5bf9c7"/><rect x="144.00" y="322.75" width="2.25" height="2.25" fill="#5bf9c7"/><rect x="155.25" y="322.75" width="2.25" height="2.25" fill="#12c7e6"/><rect x="202.50" y="322.75" width="2.25" height="2.25" fill="#376ff9"/><rect x="209.25" y="322.75" width="2.25" height="2.25" fill="#5bf9c7"/><rect x="213.75" y="322.75" width="2.25" height="2.25" fill="#a4f99f"/><rect x="218.25" y="322.75" width="2.25" height="2.25" fill="#8000ff"/><rect x="299.25" y="322.75" width="2.25" height="2.25" fill="#8000ff"/><rect x="405.00" y="322.75" width="2.25" height="2.25" fill="#5bf9c7"/><rect x="407.25" y="322.75" width="2.25" height="2.25" fill="#ff6f39"/><rect x="411.75" y="322.75" width="2.25" height="2.25" fill="#a4f99f"/><rect x="427.50" y="322.75" width="2.25" height="2.25" fill="#376ff9"/><rect x="432.00" y="322.75" width="2.25" height="2.25" fill="#a4f99f"/><rect x="441.00" y="322.75" width="2.25" height="2.25" fill="#ff0000"/><rect x="452.25" y="322.75" width="2.25" height="2.25" fill="#5bf9c7"/><rect x="456.75" y="322.75" width="2.25" height="2.25" fill="#ff0000"/><rect x="459.00" y="322.75" width="2.25" height="2.25" fill="#5bf9c7"/><rect x="468.00" y="322.75" width="2.25" height="2.25" fill="#5bf9c7"/><rect x="470.25" y="322.75" width="2.25" height="2.25" fill="#ff6f39"/><rect x="481.50" y="322.75" width="2.25" height="2.25" fill="#a4f99f"/><rect x="486.00" y="322.75" width="2.25" height="2.25" fill="#ff0000"/><rect x="533.25" y="322.75" width="2.25" height="2.25" fill="#5bf9c7"/><rect x="542.25" y="322.75" width="2.25" height="2.25" fill="#5bf9c7"/><rect x="135.00" y="325.00" width="2.25" height="2.25" fill="#5bf9c7"/><rect x="139.50" y="325.00" width="2.25" height="2.25" fill="#12c7e6"/><rect x="193.50" y="325.00" width="2.25" height="2.25" fill="#5bf9c7"/><rect x="202.50" y="325.00" width="2.25" height="2.25" fill="#5bf9c7"/><rect x="213.75" y="325.00" width="2.25" height="2.25" fill="#a4f99f"/><rect x="218.25" y="325.00" width="2.25" height="2.25" fill="#5bf9c7"/><rect x="355.50" y="325.00" width="2.25" height="2.25" fill="#12c7e6"/><rect x="402.75" y="325.00" width="2.25" height="2.25" fill="#376ff9"/><rect x="405.00" y="325.00" width="2.25" height="2.25" fill="#376ff9"/><rect x="411.75" y="325.00" width="2.25" height="2.25" fill="#376ff9"/><rect x="416.25" y="325.00" width="2.25" height="2.25" fill="#ff6f39"/><rect x="425.25" y="325.00" width="2.25" height="2.25" fill="#376ff9"/><rect x="436.50" y="325.00" width="2.25" height="2.25" fill="#ff0000"/><rect x="452.25" y="325.00" width="2.25" height="2.25" fill="#5bf9c7"/><rect x="459.00" y="325.00" width="2.25" height="2.25" fill="#5bf9c7"/><rect x="461.25" y="325.00" width="2.25" height="2.25" fill="#5bf9c7"/><rect x="481.50" y="325.00" width="2.25" height="2.25" fill="#a4f99f"/><rect x="483.75" y="325.00" width="2.25" height="2.25" fill="#a4f99f"/><rect x="486.00" y="325.00" width="2.25" height="2.25" fill="#a4f99f"/><rect x="495.00" y="325.00" width="2.25" height="2.25" fill="#ff0000"/><rect x="515.25" y="325.00" width="2.25" height="2.25" fill="#ff6f39"/><rect x="517.50" y="325.00" width="2.25" height="2.25" fill="#ff6f39"/><rect x="519.75" y="325.00" width="2.25" height="2.25" fill="#ff6f39"/><rect x="531.00" y="325.00" width="2.25" height="2.25" fill="#ff6f39"/><rect x="542.25" y="325.00" width="2.25" height="2.25" fill="#12c7e6"/><rect x="117.00" y="327.25" width="2.25" height="2.25" fill="#5bf9c7"/><rect x="126.00" y="327.25" width="2.25" height="2.25" fill="#12c7e6"/><rect x="137.25" y="327.25" width="2.25" height="2.25" fill="#5bf9c7"/><rect x="139.50" y="327.25" width="2.25" height="2.25" fill="#12c7e6"/><rect x="148.50" y="327.25" width="2.25" height="2.25" fill="#376ff9"/><rect x="198.00" y="327.25" width="2.25" height="2.25" fill="#376ff9"/><rect x="220.50" y="327.25" width="2.25" height="2.25" fill="#12c7e6"/><rect x="299.25" y="327.25" width="2.25" height="2.25" fill="#8000ff"/><rect x="353.25" y="327.25" width="2.25" height="2.25" fill="#376ff9"/><rect x="362.25" y="327.25" width="2.25" height="2.25" fill="#12c7e6"/><rect x="366.75" y="327.25" width="2.25" height="2.25" fill="#8000ff"/><rect x="369.00" y="327.25" width="2.25" height="2.25" fill="#376ff9"/><rect x="414.00" y="327.25" width="2.25" height="2.25" fill="#376ff9"/><rect x="420.75" y="327.25" width="2.25" height="2.25" fill="#ff0000"/><rect x="429.75" y="327.25" width="2.25" height="2.25" fill="#5bf9c7"/><rect x="432.00" y="327.25" width="2.25" height="2.25" fill="#12c7e6"/><rect x="434.25" y="327.25" width="2.25" height="2.25" fill="#5bf9c7"/><rect x="463.50" y="327.25" width="2.25" height="2.25" fill="#ff6f39"/><rect x="488.25" y="327.25" width="2.25" height="2.25" fill="#a4f99f"/><rect x="490.50" y="327.25" width="2.25" height="2.25" fill="#a4f99f"/><rect x="501.75" y="327.25" width="2.25" height="2.25" fill="#5bf9c7"/><rect x="504.00" y="327.25" width="2.25" height="2.25" fill="#a4f99f"/><rect x="506.25" y="327.25" width="2.25" height="2.25" fill="#5bf9c7"/><rect x="508.50" y="327.25" width="2.25" height="2.25" fill="#a4f99f"/><rect x="510.75" y="327.25" width="2.25" height="2.25" fill="#a4f99f"/><rect x="517.50" y="327.25" width="2.25" height="2.25" fill="#a4f99f"/><rect x="524.25" y="327.25" width="2.25" height="2.25" fill="#5bf9c7"/><rect x="526.50" y="327.25" width="2.25" height="2.25" fill="#5bf9c7"/><rect x="544.50" y="327.25" width="2.25" height="2.25" fill="#5bf9c7"/><rect x="117.00" y="329.50" width="2.25" height="2.25" fill="#5bf9c7"/><rect x="141.75" y="329.50" width="2.25" height="2.25" fill="#12c7e6"/><rect x="193.50" y="329.50" width="2.25" height="2.25" fill="#376ff9"/><rect x="198.00" y="329.50" width="2.25" height="2.25" fill="#376ff9"/><rect x="222.75" y="329.50" width="2.25" height="2.25" fill="#8000ff"/><rect x="353.25" y="329.50" width="2.25" height="2.25" fill="#376ff9"/><rect x="355.50" y="329.50" width="2.25" height="2.25" fill="#376ff9"/><rect x="414.00" y="329.50" width="2.25" height="2.25" fill="#5bf9c7"/><rect x="418.50" y="329.50" width="2.25" height="2.25" fill="#a4f99f"/><rect x="420.75" y="329.50" width="2.25" height="2.25" fill="#ff0000"/><rect x="425.25" y="329.50" width="2.25" height="2.25" fill="#376ff9"/><rect x="443.25" y="329.50" width="2.25" height="2.25" fill="#ff0000"/><rect x="447.75" y="329.50" width="2.25" height="2.25" fill="#ff6f39"/><rect x="459.00" y="329.50" width="2.25" height="2.25" fill="#ff6f39"/><rect x="479.25" y="329.50" width="2.25" height="2.25" fill="#a4f99f"/><rect x="481.50" y="329.50" width="2.25" height="2.25" fill="#ff0000"/><rect x="492.75" y="329.50" width="2.25" height="2.25" fill="#376ff9"/><rect x="497.25" y="329.50" width="2.25" height="2.25" fill="#a4f99f"/><rect x="504.00" y="329.50" width="2.25" height="2.25" fill="#376ff9"/><rect x="506.25" y="329.50" width="2.25" height="2.25" fill="#376ff9"/><rect x="515.25" y="329.50" width="2.25" height="2.25" fill="#5bf9c7"/><rect x="519.75" y="329.50" width="2.25" height="2.25" fill="#ff0000"/><rect x="522.00" y="329.50" width="2.25" height="2.25" fill="#376ff9"/><rect x="524.25" y="329.50" width="2.25" height="2.25" fill="#a4f99f"/><rect x="528.75" y="329.50" width="2.25" height="2.25" fill="#5bf9c7"/><rect x="123.75" y="331.75" width="2.25" height="2.25" fill="#12c7e6"/><rect x="153.00" y="331.75" width="2.25" height="2.25" fill="#12c7e6"/><rect x="184.50" y="331.75" width="2.25" height="2.25" fill="#12c7e6"/><rect x="189.00" y="331.75" width="2.25" height="2.25" fill="#376ff9"/><rect x="193.50" y="331.75" width="2.25" height="2.25" fill="#376ff9"/><rect x="204.75" y="331.75" width="2.25" height="2.25" fill="#8000ff"/><rect x="209.25" y="331.75" width="2.25" height="2.25" fill="#8000ff"/><rect x="222.75" y="331.75" width="2.25" height="2.25" fill="#a4f99f"/><rect x="355.50" y="331.75" width="2.25" height="2.25" fill="#376ff9"/><rect x="360.00" y="331.75" width="2.25" height="2.25" fill="#376ff9"/><rect x="373.50" y="331.75" width="2.25" height="2.25" fill="#376ff9"/><rect x="414.00" y="331.75" width="2.25" height="2.25" fill="#376ff9"/><rect x="429.75" y="331.75" width="2.25" height="2.25" fill="#376ff9"/><rect x="432.00" y="331.75" width="2.25" height="2.25" fill="#ff0000"/><rect x="436.50" y="331.75" width="2.25" height="2.25" fill="#ff0000"/><rect x="445.50" y="331.75" width="2.25" height="2.25" fill="#376ff9"/><rect x="450.00" y="331.75" width="2.25" height="2.25" fill="#376ff9"/><rect x="452.25" y="331.75" width="2.25" height="2.25" fill="#376ff9"/><rect x="461.25" y="331.75" width="2.25" height="2.25" fill="#376ff9"/><rect x="474.75" y="331.75" width="2.25" height="2.25" fill="#ff6f39"/><rect x="477.00" y="331.75" width="2.25" height="2.25" fill="#376ff9"/><rect x="488.25" y="331.75" width="2.25" height="2.25" fill="#ff0000"/><rect x="492.75" y="331.75" width="2.25" height="2.25" fill="#12c7e6"/><rect x="495.00" y="331.75" width="2.25" height="2.25" fill="#a4f99f"/><rect x="501.75" y="331.75" width="2.25" height="2.25" fill="#a4f99f"/><rect x="544.50" y="331.75" width="2.25" height="2.25" fill="#5bf9c7"/><rect x="123.75" y="334.00" width="2.25" height="2.25" fill="#376ff9"/><rect x="182.25" y="334.00" width="2.25" height="2.25" fill="#12c7e6"/><rect x="189.00" y="334.00" width="2.25" height="2.25" fill="#376ff9"/><rect x="220.50" y="334.00" width="2.25" height="2.25" fill="#8000ff"/><rect x="225.00" y="334.00" width="2.25" height="2.25" fill="#a4f99f"/><rect x="292.50" y="334.00" width="2.25" height="2.25" fill="#8000ff"/><rect x="384.75" y="334.00" width="2.25" height="2.25" fill="#8000ff"/><rect x="463.50" y="334.00" width="2.25" height="2.25" fill="#ff0000"/><rect x="468.00" y="334.00" width="2.25" height="2.25" fill="#ff0000"/><rect x="472.50" y="334.00" width="2.25" height="2.25" fill="#ff0000"/><rect x="483.75" y="334.00" width="2.25" height="2.25" fill="#ff6f39"/><rect x="513.00" y="334.00" width="2.25" height="2.25" fill="#ff0000"/><rect x="522.00" y="334.00" width="2.25" height="2.25" fill="#376ff9"/><rect x="528.75" y="334.00" width="2.25" height="2.25" fill="#ff0000"/><rect x="531.00" y="334.00" width="2.25" height="2.25" fill="#5bf9c7"/><rect x="542.25" y="334.00" width="2.25" height="2.25" fill="#12c7e6"/><rect x="141.75" y="336.25" width="2.25" height="2.25" fill="#a4f99f"/><rect x="153.00" y="336.25" width="2.25" height="2.25" fill="#12c7e6"/><rect x="180.00" y="336.25" width="2.25" height="2.25" fill="#376ff9"/><rect x="195.75" y="336.25" width="2.25" height="2.25" fill="#8000ff"/><rect x="211.50" y="336.25" width="2.25" height="2.25" fill="#12c7e6"/><rect x="218.25" y="336.25" width="2.25" height="2.25" fill="#8000ff"/><rect x="220.50" y="336.25" width="2.25" height="2.25" fill="#12c7e6"/><rect x="222.75" y="336.25" width="2.25" height="2.25" fill="#12c7e6"/><rect x="382.50" y="336.25" width="2.25" height="2.25" fill="#376ff9"/><rect x="384.75" y="336.25" width="2.25" height="2.25" fill="#376ff9"/><rect x="418.50" y="336.25" width="2.25" height="2.25" fill="#ff0000"/><rect x="445.50" y="336.25" width="2.25" height="2.25" fill="#376ff9"/><rect x="456.75" y="336.25" width="2.25" height="2.25" fill="#376ff9"/><rect x="461.25" y="336.25" width="2.25" height="2.25" fill="#376ff9"/><rect x="472.50" y="336.25" width="2.25" height="2.25" fill="#a4f99f"/><rect x="474.75" y="336.25" width="2.25" height="2.25" fill="#12c7e6"/><rect x="477.00" y="336.25" width="2.25" height="2.25" fill="#376ff9"/><rect x="486.00" y="336.25" width="2.25" height="2.25" fill="#ff0000"/><rect x="517.50" y="336.25" width="2.25" height="2.25" fill="#a4f99f"/><rect x="519.75" y="336.25" width="2.25" height="2.25" fill="#ff0000"/><rect x="544.50" y="336.25" width="2.25" height="2.25" fill="#ff0000"/><rect x="180.00" y="338.50" width="2.25" height="2.25" fill="#376ff9"/><rect x="222.75" y="338.50" width="2.25" height="2.25" fill="#8000ff"/><rect x="353.25" y="338.50" width="2.25" height="2.25" fill="#8000ff"/><rect x="389.25" y="338.50" width="2.25" height="2.25" fill="#8000ff"/><rect x="393.75" y="338.50" width="2.25" height="2.25" fill="#8000ff"/><rect x="420.75" y="338.50" width="2.25" height="2.25" fill="#5bf9c7"/><rect x="436.50" y="338.50" width="2.25" height="2.25" fill="#ff0000"/><rect x="445.50" y="338.50" width="2.25" height="2.25" fill="#12c7e6"/><rect x="447.75" y="338.50" width="2.25" height="2.25" fill="#5bf9c7"/><rect x="450.00" y="338.50" width="2.25" height="2.25" fill="#ff0000"/><rect x="461.25" y="338.50" width="2.25" height="2.25" fill="#5bf9c7"/><rect x="465.75" y="338.50" width="2.25" height="2.25" fill="#5bf9c7"/><rect x="468.00" y="338.50" width="2.25" height="2.25" fill="#a4f99f"/><rect x="477.00" y="338.50" width="2.25" height="2.25" fill="#ff0000"/><rect x="481.50" y="338.50" width="2.25" height="2.25" fill="#ff0000"/><rect x="490.50" y="338.50" width="2.25" height="2.25" fill="#376ff9"/><rect x="501.75" y="338.50" width="2.25" height="2.25" fill="#5bf9c7"/><rect x="519.75" y="338.50" width="2.25" height="2.25" fill="#376ff9"/><rect x="524.25" y="338.50" width="2.25" height="2.25" fill="#ff6f39"/><rect x="528.75" y="338.50" width="2.25" height="2.25" fill="#ff6f39"/><rect x="531.00" y="338.50" width="2.25" height="2.25" fill="#a4f99f"/><rect x="533.25" y="338.50" width="2.25" height="2.25" fill="#376ff9"/><rect x="546.75" y="338.50" width="2.25" height="2.25" fill="#5bf9c7"/><rect x="126.00" y="340.75" width="2.25" height="2.25" fill="#12c7e6"/><rect x="132.75" y="340.75" width="2.25" height="2.25" fill="#376ff9"/><rect x="202.50" y="340.75" width="2.25" height="2.25" fill="#376ff9"/><rect x="209.25" y="340.75" width="2.25" height="2.25" fill="#376ff9"/><rect x="285.75" y="340.75" width="2.25" height="2.25" fill="#8000ff"/><rect x="393.75" y="340.75" width="2.25" height="2.25" fill="#8000ff"/><rect x="405.00" y="340.75" width="2.25" height="2.25" fill="#ff0000"/><rect x="407.25" y="340.75" width="2.25" height="2.25" fill="#376ff9"/><rect x="418.50" y="340.75" width="2.25" height="2.25" fill="#5bf9c7"/><rect x="420.75" y="340.75" width="2.25" height="2.25" fill="#376ff9"/><rect x="447.75" y="340.75" width="2.25" height="2.25" fill="#5bf9c7"/><rect x="459.00" y="340.75" width="2.25" height="2.25" fill="#376ff9"/><rect x="468.00" y="340.75" width="2.25" height="2.25" fill="#ff0000"/><rect x="470.25" y="340.75" width="2.25" height="2.25" fill="#ff0000"/><rect x="479.25" y="340.75" width="2.25" height="2.25" fill="#ff0000"/><rect x="486.00" y="340.75" width="2.25" height="2.25" fill="#ff6f39"/><rect x="488.25" y="340.75" width="2.25" height="2.25" fill="#376ff9"/><rect x="517.50" y="340.75" width="2.25" height="2.25" fill="#5bf9c7"/><rect x="533.25" y="340.75" width="2.25" height="2.25" fill="#5bf9c7"/><rect x="535.50" y="340.75" width="2.25" height="2.25" fill="#376ff9"/><rect x="542.25" y="340.75" width="2.25" height="2.25" fill="#12c7e6"/><rect x="544.50" y="340.75" width="2.25" height="2.25" fill="#ff0000"/><rect x="132.75" y="343.00" width="2.25" height="2.25" fill="#376ff9"/><rect x="150.75" y="343.00" width="2.25" height="2.25" fill="#376ff9"/><rect x="153.00" y="343.00" width="2.25" height="2.25" fill="#12c7e6"/><rect x="184.50" y="343.00" width="2.25" height="2.25" fill="#12c7e6"/><rect x="186.75" y="343.00" width="2.25" height="2.25" fill="#a4f99f"/><rect x="198.00" y="343.00" width="2.25" height="2.25" fill="#376ff9"/><rect x="216.00" y="343.00" width="2.25" height="2.25" fill="#12c7e6"/><rect x="409.50" y="343.00" width="2.25" height="2.25" fill="#12c7e6"/><rect x="420.75" y="343.00" width="2.25" height="2.25" fill="#376ff9"/><rect x="472.50" y="343.00" width="2.25" height="2.25" fill="#376ff9"/><rect x="477.00" y="343.00" width="2.25" height="2.25" fill="#376ff9"/><rect x="483.75" y="343.00" width="2.25" height="2.25" fill="#ff6f39"/><rect x="499.50" y="343.00" width="2.25" height="2.25" fill="#ff0000"/><rect x="506.25" y="343.00" width="2.25" height="2.25" fill="#ff0000"/><rect x="515.25" y="343.00" width="2.25" height="2.25" fill="#5bf9c7"/><rect x="519.75" y="343.00" width="2.25" height="2.25" fill="#5bf9c7"/><rect x="522.00" y="343.00" width="2.25" height="2.25" fill="#5bf9c7"/><rect x="528.75" y="343.00" width="2.25" height="2.25" fill="#5bf9c7"/><rect x="546.75" y="343.00" width="2.25" height="2.25" fill="#ff0000"/><rect x="126.00" y="345.25" width="2.25" height="2.25" fill="#12c7e6"/><rect x="132.75" y="345.25" width="2.25" height="2.25" fill="#12c7e6"/><rect x="139.50" y="345.25" width="2.25" height="2.25" fill="#12c7e6"/><rect x="150.75" y="345.25" width="2.25" height="2.25" fill="#376ff9"/><rect x="222.75" y="345.25" width="2.25" height="2.25" fill="#8000ff"/><rect x="227.25" y="345.25" width="2.25" height="2.25" fill="#12c7e6"/><rect x="393.75" y="345.25" width="2.25" height="2.25" fill="#8000ff"/><rect x="409.50" y="345.25" width="2.25" height="2.25" fill="#ff6f39"/><rect x="425.25" y="345.25" width="2.25" height="2.25" fill="#12c7e6"/><rect x="456.75" y="345.25" width="2.25" height="2.25" fill="#376ff9"/><rect x="461.25" y="345.25" width="2.25" height="2.25" fill="#376ff9"/><rect x="463.50" y="345.25" width="2.25" height="2.25" fill="#376ff9"/><rect x="465.75" y="345.25" width="2.25" height="2.25" fill="#ff0000"/><rect x="470.25" y="345.25" width="2.25" height="2.25" fill="#ff0000"/><rect x="497.25" y="345.25" width="2.25" height="2.25" fill="#ff0000"/><rect x="132.75" y="347.50" width="2.25" height="2.25" fill="#376ff9"/><rect x="150.75" y="347.50" width="2.25" height="2.25" fill="#a4f99f"/><rect x="153.00" y="347.50" width="2.25" height="2.25" fill="#12c7e6"/><rect x="175.50" y="347.50" width="2.25" height="2.25" fill="#376ff9"/><rect x="189.00" y="347.50" width="2.25" height="2.25" fill="#a4f99f"/><rect x="229.50" y="347.50" width="2.25" height="2.25" fill="#12c7e6"/><rect x="288.00" y="347.50" width="2.25" height="2.25" fill="#8000ff"/><rect x="391.50" y="347.50" width="2.25" height="2.25" fill="#376ff9"/><rect x="414.00" y="347.50" width="2.25" height="2.25" fill="#5bf9c7"/><rect x="443.25" y="347.50" width="2.25" height="2.25" fill="#376ff9"/><rect x="447.75" y="347.50" width="2.25" height="2.25" fill="#376ff9"/><rect x="450.00" y="347.50" width="2.25" height="2.25" fill="#376ff9"/><rect x="459.00" y="347.50" width="2.25" height="2.25" fill="#376ff9"/><rect x="465.75" y="347.50" width="2.25" height="2.25" fill="#376ff9"/><rect x="468.00" y="347.50" width="2.25" height="2.25" fill="#376ff9"/><rect x="486.00" y="347.50" width="2.25" height="2.25" fill="#5bf9c7"/><rect x="499.50" y="347.50" width="2.25" height="2.25" fill="#ff0000"/><rect x="501.75" y="347.50" width="2.25" height="2.25" fill="#ff0000"/><rect x="508.50" y="347.50" width="2.25" height="2.25" fill="#ff0000"/><rect x="515.25" y="347.50" width="2.25" height="2.25" fill="#5bf9c7"/><rect x="528.75" y="347.50" width="2.25" height="2.25" fill="#376ff9"/><rect x="531.00" y="347.50" width="2.25" height="2.25" fill="#ff6f39"/><rect x="540.00" y="347.50" width="2.25" height="2.25" fill="#376ff9"/><rect x="542.25" y="347.50" width="2.25" height="2.25" fill="#376ff9"/><rect x="132.75" y="349.75" width="2.25" height="2.25" fill="#376ff9"/><rect x="222.75" y="349.75" width="2.25" height="2.25" fill="#8000ff"/><rect x="229.50" y="349.75" width="2.25" height="2.25" fill="#12c7e6"/><rect x="283.50" y="349.75" width="2.25" height="2.25" fill="#376ff9"/><rect x="344.25" y="349.75" width="2.25" height="2.25" fill="#376ff9"/><rect x="364.50" y="349.75" width="2.25" height="2.25" fill="#8000ff"/><rect x="366.75" y="349.75" width="2.25" height="2.25" fill="#376ff9"/><rect x="420.75" y="349.75" width="2.25" height="2.25" fill="#12c7e6"/><rect x="429.75" y="349.75" width="2.25" height="2.25" fill="#376ff9"/><rect x="452.25" y="349.75" width="2.25" height="2.25" fill="#12c7e6"/><rect x="459.00" y="349.75" width="2.25" height="2.25" fill="#376ff9"/><rect x="522.00" y="349.75" width="2.25" height="2.25" fill="#376ff9"/><rect x="528.75" y="349.75" width="2.25" height="2.25" fill="#376ff9"/><rect x="537.75" y="349.75" width="2.25" height="2.25" fill="#5bf9c7"/><rect x="542.25" y="349.75" width="2.25" height="2.25" fill="#376ff9"/><rect x="549.00" y="349.75" width="2.25" height="2.25" fill="#12c7e6"/><rect x="153.00" y="352.00" width="2.25" height="2.25" fill="#376ff9"/><rect x="213.75" y="352.00" width="2.25" height="2.25" fill="#8000ff"/><rect x="344.25" y="352.00" width="2.25" height="2.25" fill="#376ff9"/><rect x="387.00" y="352.00" width="2.25" height="2.25" fill="#376ff9"/><rect x="393.75" y="352.00" width="2.25" height="2.25" fill="#8000ff"/><rect x="477.00" y="352.00" width="2.25" height="2.25" fill="#376ff9"/><rect x="479.25" y="352.00" width="2.25" height="2.25" fill="#a4f99f"/><rect x="481.50" y="352.00" width="2.25" height="2.25" fill="#376ff9"/><rect x="497.25" y="352.00" width="2.25" height="2.25" fill="#376ff9"/><rect x="517.50" y="352.00" width="2.25" height="2.25" fill="#5bf9c7"/><rect x="522.00" y="352.00" width="2.25" height="2.25" fill="#376ff9"/><rect x="526.50" y="352.00" width="2.25" height="2.25" fill="#ff6f39"/><rect x="542.25" y="352.00" width="2.25" height="2.25" fill="#12c7e6"/><rect x="546.75" y="352.00" width="2.25" height="2.25" fill="#ff0000"/><rect x="135.00" y="354.25" width="2.25" height="2.25" fill="#12c7e6"/><rect x="139.50" y="354.25" width="2.25" height="2.25" fill="#ff6f39"/><rect x="157.50" y="354.25" width="2.25" height="2.25" fill="#12c7e6"/><rect x="175.50" y="354.25" width="2.25" height="2.25" fill="#376ff9"/><rect x="182.25" y="354.25" width="2.25" height="2.25" fill="#12c7e6"/><rect x="276.75" y="354.25" width="2.25" height="2.25" fill="#376ff9"/><rect x="279.00" y="354.25" width="2.25" height="2.25" fill="#376ff9"/><rect x="342.00" y="354.25" width="2.25" height="2.25" fill="#376ff9"/><rect x="364.50" y="354.25" width="2.25" height="2.25" fill="#8000ff"/><rect x="411.75" y="354.25" width="2.25" height="2.25" fill="#ff0000"/><rect x="429.75" y="354.25" width="2.25" height="2.25" fill="#5bf9c7"/><rect x="438.75" y="354.25" width="2.25" height="2.25" fill="#ff0000"/><rect x="495.00" y="354.25" width="2.25" height="2.25" fill="#5bf9c7"/><rect x="504.00" y="354.25" width="2.25" height="2.25" fill="#5bf9c7"/><rect x="506.25" y="354.25" width="2.25" height="2.25" fill="#ff0000"/><rect x="519.75" y="354.25" width="2.25" height="2.25" fill="#ff6f39"/><rect x="522.00" y="354.25" width="2.25" height="2.25" fill="#ff6f39"/><rect x="528.75" y="354.25" width="2.25" height="2.25" fill="#376ff9"/><rect x="537.75" y="354.25" width="2.25" height="2.25" fill="#376ff9"/><rect x="175.50" y="356.50" width="2.25" height="2.25" fill="#376ff9"/><rect x="186.75" y="356.50" width="2.25" height="2.25" fill="#12c7e6"/><rect x="191.25" y="356.50" width="2.25" height="2.25" fill="#12c7e6"/><rect x="193.50" y="356.50" width="2.25" height="2.25" fill="#12c7e6"/><rect x="213.75" y="356.50" width="2.25" height="2.25" fill="#12c7e6"/><rect x="339.75" y="356.50" width="2.25" height="2.25" fill="#12c7e6"/><rect x="348.75" y="356.50" width="2.25" height="2.25" fill="#12c7e6"/><rect x="371.25" y="356.50" width="2.25" height="2.25" fill="#376ff9"/><rect x="414.00" y="356.50" width="2.25" height="2.25" fill="#5bf9c7"/><rect x="434.25" y="356.50" width="2.25" height="2.25" fill="#5bf9c7"/><rect x="438.75" y="356.50" width="2.25" height="2.25" fill="#5bf9c7"/><rect x="447.75" y="356.50" width="2.25" height="2.25" fill="#ff6f39"/><rect x="452.25" y="356.50" width="2.25" height="2.25" fill="#ff0000"/><rect x="474.75" y="356.50" width="2.25" height="2.25" fill="#ff0000"/><rect x="477.00" y="356.50" width="2.25" height="2.25" fill="#5bf9c7"/><rect x="517.50" y="356.50" width="2.25" height="2.25" fill="#ff0000"/><rect x="130.50" y="358.75" width="2.25" height="2.25" fill="#a4f99f"/><rect x="146.25" y="358.75" width="2.25" height="2.25" fill="#a4f99f"/><rect x="148.50" y="358.75" width="2.25" height="2.25" fill="#ff0000"/><rect x="182.25" y="358.75" width="2.25" height="2.25" fill="#5bf9c7"/><rect x="189.00" y="358.75" width="2.25" height="2.25" fill="#12c7e6"/><rect x="373.50" y="358.75" width="2.25" height="2.25" fill="#376ff9"/><rect x="378.00" y="358.75" width="2.25" height="2.25" fill="#376ff9"/><rect x="423.00" y="358.75" width="2.25" height="2.25" fill="#a4f99f"/><rect x="425.25" y="358.75" width="2.25" height="2.25" fill="#5bf9c7"/><rect x="450.00" y="358.75" width="2.25" height="2.25" fill="#ff0000"/><rect x="461.25" y="358.75" width="2.25" height="2.25" fill="#376ff9"/><rect x="463.50" y="358.75" width="2.25" height="2.25" fill="#376ff9"/><rect x="483.75" y="358.75" width="2.25" height="2.25" fill="#ff0000"/><rect x="492.75" y="358.75" width="2.25" height="2.25" fill="#ff0000"/><rect x="497.25" y="358.75" width="2.25" height="2.25" fill="#ff6f39"/><rect x="519.75" y="358.75" width="2.25" height="2.25" fill="#5bf9c7"/><rect x="528.75" y="358.75" width="2.25" height="2.25" fill="#376ff9"/><rect x="533.25" y="358.75" width="2.25" height="2.25" fill="#12c7e6"/><rect x="540.00" y="358.75" width="2.25" height="2.25" fill="#5bf9c7"/><rect x="544.50" y="358.75" width="2.25" height="2.25" fill="#376ff9"/><rect x="546.75" y="358.75" width="2.25" height="2.25" fill="#ff0000"/><rect x="141.75" y="361.00" width="2.25" height="2.25" fill="#a4f99f"/><rect x="144.00" y="361.00" width="2.25" height="2.25" fill="#12c7e6"/><rect x="191.25" y="361.00" width="2.25" height="2.25" fill="#5bf9c7"/><rect x="222.75" y="361.00" width="2.25" height="2.25" fill="#12c7e6"/><rect x="225.00" y="361.00" width="2.25" height="2.25" fill="#12c7e6"/><rect x="272.25" y="361.00" width="2.25" height="2.25" fill="#8000ff"/><rect x="279.00" y="361.00" width="2.25" height="2.25" fill="#8000ff"/><rect x="333.00" y="361.00" width="2.25" height="2.25" fill="#12c7e6"/><rect x="335.25" y="361.00" width="2.25" height="2.25" fill="#376ff9"/><rect x="337.50" y="361.00" width="2.25" height="2.25" fill="#376ff9"/><rect x="382.50" y="361.00" width="2.25" height="2.25" fill="#8000ff"/><rect x="432.00" y="361.00" width="2.25" height="2.25" fill="#ff0000"/><rect x="463.50" y="361.00" width="2.25" height="2.25" fill="#376ff9"/><rect x="477.00" y="361.00" width="2.25" height="2.25" fill="#5bf9c7"/><rect x="479.25" y="361.00" width="2.25" height="2.25" fill="#5bf9c7"/><rect x="483.75" y="361.00" width="2.25" height="2.25" fill="#12c7e6"/><rect x="486.00" y="361.00" width="2.25" height="2.25" fill="#12c7e6"/><rect x="506.25" y="361.00" width="2.25" height="2.25" fill="#5bf9c7"/><rect x="515.25" y="361.00" width="2.25" height="2.25" fill="#ff0000"/><rect x="526.50" y="361.00" width="2.25" height="2.25" fill="#5bf9c7"/><rect x="535.50" y="361.00" width="2.25" height="2.25" fill="#376ff9"/><rect x="537.75" y="361.00" width="2.25" height="2.25" fill="#5bf9c7"/><rect x="544.50" y="361.00" width="2.25" height="2.25" fill="#12c7e6"/><rect x="121.50" y="363.25" width="2.25" height="2.25" fill="#376ff9"/><rect x="159.75" y="363.25" width="2.25" height="2.25" fill="#12c7e6"/><rect x="200.25" y="363.25" width="2.25" height="2.25" fill="#12c7e6"/><rect x="209.25" y="363.25" width="2.25" height="2.25" fill="#12c7e6"/><rect x="270.00" y="363.25" width="2.25" height="2.25" fill="#8000ff"/><rect x="272.25" y="363.25" width="2.25" height="2.25" fill="#8000ff"/><rect x="274.50" y="363.25" width="2.25" height="2.25" fill="#8000ff"/><rect x="330.75" y="363.25" width="2.25" height="2.25" fill="#12c7e6"/><rect x="333.00" y="363.25" width="2.25" height="2.25" fill="#376ff9"/><rect x="416.25" y="363.25" width="2.25" height="2.25" fill="#376ff9"/><rect x="418.50" y="363.25" width="2.25" height="2.25" fill="#376ff9"/><rect x="447.75" y="363.25" width="2.25" height="2.25" fill="#376ff9"/><rect x="468.00" y="363.25" width="2.25" height="2.25" fill="#ff0000"/><rect x="481.50" y="363.25" width="2.25" height="2.25" fill="#376ff9"/><rect x="504.00" y="363.25" width="2.25" height="2.25" fill="#376ff9"/><rect x="519.75" y="363.25" width="2.25" height="2.25" fill="#12c7e6"/><rect x="522.00" y="363.25" width="2.25" height="2.25" fill="#376ff9"/><rect x="535.50" y="363.25" width="2.25" height="2.25" fill="#ff0000"/><rect x="544.50" y="363.25" width="2.25" height="2.25" fill="#5bf9c7"/><rect x="546.75" y="363.25" width="2.25" height="2.25" fill="#ff0000"/><rect x="135.00" y="365.50" width="2.25" height="2.25" fill="#ff0000"/><rect x="173.25" y="365.50" width="2.25" height="2.25" fill="#12c7e6"/><rect x="213.75" y="365.50" width="2.25" height="2.25" fill="#12c7e6"/><rect x="225.00" y="365.50" width="2.25" height="2.25" fill="#12c7e6"/><rect x="420.75" y="365.50" width="2.25" height="2.25" fill="#a4f99f"/><rect x="427.50" y="365.50" width="2.25" height="2.25" fill="#376ff9"/><rect x="429.75" y="365.50" width="2.25" height="2.25" fill="#a4f99f"/><rect x="468.00" y="365.50" width="2.25" height="2.25" fill="#376ff9"/><rect x="470.25" y="365.50" width="2.25" height="2.25" fill="#376ff9"/><rect x="472.50" y="365.50" width="2.25" height="2.25" fill="#376ff9"/><rect x="474.75" y="365.50" width="2.25" height="2.25" fill="#376ff9"/><rect x="477.00" y="365.50" width="2.25" height="2.25" fill="#ff6f39"/><rect x="479.25" y="365.50" width="2.25" height="2.25" fill="#12c7e6"/><rect x="483.75" y="365.50" width="2.25" height="2.25" fill="#a4f99f"/><rect x="497.25" y="365.50" width="2.25" height="2.25" fill="#12c7e6"/><rect x="501.75" y="365.50" width="2.25" height="2.25" fill="#ff6f39"/><rect x="506.25" y="365.50" width="2.25" height="2.25" fill="#12c7e6"/><rect x="508.50" y="365.50" width="2.25" height="2.25" fill="#12c7e6"/><rect x="513.00" y="365.50" width="2.25" height="2.25" fill="#5bf9c7"/><rect x="180.00" y="367.75" width="2.25" height="2.25" fill="#376ff9"/><rect x="252.00" y="367.75" width="2.25" height="2.25" fill="#376ff9"/><rect x="254.25" y="367.75" width="2.25" height="2.25" fill="#12c7e6"/><rect x="258.75" y="367.75" width="2.25" height="2.25" fill="#376ff9"/><rect x="261.00" y="367.75" width="2.25" height="2.25" fill="#12c7e6"/><rect x="267.75" y="367.75" width="2.25" height="2.25" fill="#12c7e6"/><rect x="326.25" y="367.75" width="2.25" height="2.25" fill="#12c7e6"/><rect x="328.50" y="367.75" width="2.25" height="2.25" fill="#376ff9"/><rect x="418.50" y="367.75" width="2.25" height="2.25" fill="#376ff9"/><rect x="425.25" y="367.75" width="2.25" height="2.25" fill="#5bf9c7"/><rect x="429.75" y="367.75" width="2.25" height="2.25" fill="#ff6f39"/><rect x="438.75" y="367.75" width="2.25" height="2.25" fill="#ff0000"/><rect x="443.25" y="367.75" width="2.25" height="2.25" fill="#ff0000"/><rect x="447.75" y="367.75" width="2.25" height="2.25" fill="#376ff9"/><rect x="470.25" y="367.75" width="2.25" height="2.25" fill="#ff6f39"/><rect x="488.25" y="367.75" width="2.25" height="2.25" fill="#ff0000"/><rect x="522.00" y="367.75" width="2.25" height="2.25" fill="#ff0000"/><rect x="524.25" y="367.75" width="2.25" height="2.25" fill="#5bf9c7"/><rect x="117.00" y="370.00" width="2.25" height="2.25" fill="#12c7e6"/><rect x="121.50" y="370.00" width="2.25" height="2.25" fill="#12c7e6"/><rect x="144.00" y="370.00" width="2.25" height="2.25" fill="#12c7e6"/><rect x="180.00" y="370.00" width="2.25" height="2.25" fill="#12c7e6"/><rect x="186.75" y="370.00" width="2.25" height="2.25" fill="#12c7e6"/><rect x="207.00" y="370.00" width="2.25" height="2.25" fill="#12c7e6"/><rect x="225.00" y="370.00" width="2.25" height="2.25" fill="#12c7e6"/><rect x="252.00" y="370.00" width="2.25" height="2.25" fill="#8000ff"/><rect x="254.25" y="370.00" width="2.25" height="2.25" fill="#8000ff"/><rect x="256.50" y="370.00" width="2.25" height="2.25" fill="#8000ff"/><rect x="265.50" y="370.00" width="2.25" height="2.25" fill="#8000ff"/><rect x="272.25" y="370.00" width="2.25" height="2.25" fill="#8000ff"/><rect x="416.25" y="370.00" width="2.25" height="2.25" fill="#ff0000"/><rect x="427.50" y="370.00" width="2.25" height="2.25" fill="#ff0000"/><rect x="434.25" y="370.00" width="2.25" height="2.25" fill="#ff0000"/><rect x="459.00" y="370.00" width="2.25" height="2.25" fill="#ff0000"/><rect x="472.50" y="370.00" width="2.25" height="2.25" fill="#a4f99f"/><rect x="486.00" y="370.00" width="2.25" height="2.25" fill="#376ff9"/><rect x="492.75" y="370.00" width="2.25" height="2.25" fill="#ff0000"/><rect x="526.50" y="370.00" width="2.25" height="2.25" fill="#12c7e6"/><rect x="535.50" y="370.00" width="2.25" height="2.25" fill="#ff0000"/><rect x="542.25" y="370.00" width="2.25" height="2.25" fill="#a4f99f"/><rect x="546.75" y="370.00" width="2.25" height="2.25" fill="#12c7e6"/><rect x="128.25" y="372.25" width="2.25" height="2.25" fill="#376ff9"/><rect x="135.00" y="372.25" width="2.25" height="2.25" fill="#5bf9c7"/><rect x="164.25" y="372.25" width="2.25" height="2.25" fill="#376ff9"/><rect x="195.75" y="372.25" width="2.25" height="2.25" fill="#12c7e6"/><rect x="198.00" y="372.25" width="2.25" height="2.25" fill="#12c7e6"/><rect x="256.50" y="372.25" width="2.25" height="2.25" fill="#12c7e6"/><rect x="272.25" y="372.25" width="2.25" height="2.25" fill="#376ff9"/><rect x="274.50" y="372.25" width="2.25" height="2.25" fill="#8000ff"/><rect x="328.50" y="372.25" width="2.25" height="2.25" fill="#376ff9"/><rect x="463.50" y="372.25" width="2.25" height="2.25" fill="#ff6f39"/><rect x="465.75" y="372.25" width="2.25" height="2.25" fill="#ff6f39"/><rect x="488.25" y="372.25" width="2.25" height="2.25" fill="#12c7e6"/><rect x="146.25" y="374.50" width="2.25" height="2.25" fill="#ff0000"/><rect x="166.50" y="374.50" width="2.25" height="2.25" fill="#376ff9"/><rect x="207.00" y="374.50" width="2.25" height="2.25" fill="#ff0000"/><rect x="209.25" y="374.50" width="2.25" height="2.25" fill="#5bf9c7"/><rect x="218.25" y="374.50" width="2.25" height="2.25" fill="#12c7e6"/><rect x="272.25" y="374.50" width="2.25" height="2.25" fill="#376ff9"/><rect x="279.00" y="374.50" width="2.25" height="2.25" fill="#376ff9"/><rect x="285.75" y="374.50" width="2.25" height="2.25" fill="#376ff9"/><rect x="342.00" y="374.50" width="2.25" height="2.25" fill="#376ff9"/><rect x="436.50" y="374.50" width="2.25" height="2.25" fill="#ff0000"/><rect x="438.75" y="374.50" width="2.25" height="2.25" fill="#ff0000"/><rect x="443.25" y="374.50" width="2.25" height="2.25" fill="#ff0000"/><rect x="445.50" y="374.50" width="2.25" height="2.25" fill="#a4f99f"/><rect x="461.25" y="374.50" width="2.25" height="2.25" fill="#a4f99f"/><rect x="524.25" y="374.50" width="2.25" height="2.25" fill="#12c7e6"/><rect x="535.50" y="374.50" width="2.25" height="2.25" fill="#ff0000"/><rect x="546.75" y="374.50" width="2.25" height="2.25" fill="#376ff9"/><rect x="551.25" y="374.50" width="2.25" height="2.25" fill="#ff0000"/><rect x="166.50" y="376.75" width="2.25" height="2.25" fill="#376ff9"/><rect x="168.75" y="376.75" width="2.25" height="2.25" fill="#12c7e6"/><rect x="207.00" y="376.75" width="2.25" height="2.25" fill="#12c7e6"/><rect x="227.25" y="376.75" width="2.25" height="2.25" fill="#a4f99f"/><rect x="256.50" y="376.75" width="2.25" height="2.25" fill="#12c7e6"/><rect x="429.75" y="376.75" width="2.25" height="2.25" fill="#376ff9"/><rect x="436.50" y="376.75" width="2.25" height="2.25" fill="#a4f99f"/><rect x="441.00" y="376.75" width="2.25" height="2.25" fill="#376ff9"/><rect x="470.25" y="376.75" width="2.25" height="2.25" fill="#376ff9"/><rect x="472.50" y="376.75" width="2.25" height="2.25" fill="#ff0000"/><rect x="474.75" y="376.75" width="2.25" height="2.25" fill="#ff0000"/><rect x="522.00" y="376.75" width="2.25" height="2.25" fill="#5bf9c7"/><rect x="537.75" y="376.75" width="2.25" height="2.25" fill="#ff0000"/><rect x="132.75" y="379.00" width="2.25" height="2.25" fill="#376ff9"/><rect x="137.25" y="379.00" width="2.25" height="2.25" fill="#5bf9c7"/><rect x="164.25" y="379.00" width="2.25" height="2.25" fill="#376ff9"/><rect x="200.25" y="379.00" width="2.25" height="2.25" fill="#376ff9"/><rect x="222.75" y="379.00" width="2.25" height="2.25" fill="#5bf9c7"/><rect x="240.75" y="379.00" width="2.25" height="2.25" fill="#376ff9"/><rect x="333.00" y="379.00" width="2.25" height="2.25" fill="#12c7e6"/><rect x="427.50" y="379.00" width="2.25" height="2.25" fill="#ff6f39"/><rect x="450.00" y="379.00" width="2.25" height="2.25" fill="#5bf9c7"/><rect x="454.50" y="379.00" width="2.25" height="2.25" fill="#ff0000"/><rect x="465.75" y="379.00" width="2.25" height="2.25" fill="#ff0000"/><rect x="483.75" y="379.00" width="2.25" height="2.25" fill="#376ff9"/><rect x="510.75" y="379.00" width="2.25" height="2.25" fill="#376ff9"/><rect x="515.25" y="379.00" width="2.25" height="2.25" fill="#12c7e6"/><rect x="135.00" y="381.25" width="2.25" height="2.25" fill="#5bf9c7"/><rect x="144.00" y="381.25" width="2.25" height="2.25" fill="#12c7e6"/><rect x="164.25" y="381.25" width="2.25" height="2.25" fill="#12c7e6"/><rect x="173.25" y="381.25" width="2.25" height="2.25" fill="#376ff9"/><rect x="218.25" y="381.25" width="2.25" height="2.25" fill="#5bf9c7"/><rect x="220.50" y="381.25" width="2.25" height="2.25" fill="#5bf9c7"/><rect x="222.75" y="381.25" width="2.25" height="2.25" fill="#8000ff"/><rect x="254.25" y="381.25" width="2.25" height="2.25" fill="#376ff9"/><rect x="290.25" y="381.25" width="2.25" height="2.25" fill="#8000ff"/><rect x="333.00" y="381.25" width="2.25" height="2.25" fill="#12c7e6"/><rect x="335.25" y="381.25" width="2.25" height="2.25" fill="#12c7e6"/><rect x="348.75" y="381.25" width="2.25" height="2.25" fill="#12c7e6"/><rect x="423.00" y="381.25" width="2.25" height="2.25" fill="#ff0000"/><rect x="436.50" y="381.25" width="2.25" height="2.25" fill="#5bf9c7"/><rect x="443.25" y="381.25" width="2.25" height="2.25" fill="#5bf9c7"/><rect x="447.75" y="381.25" width="2.25" height="2.25" fill="#376ff9"/><rect x="450.00" y="381.25" width="2.25" height="2.25" fill="#5bf9c7"/><rect x="492.75" y="381.25" width="2.25" height="2.25" fill="#376ff9"/><rect x="508.50" y="381.25" width="2.25" height="2.25" fill="#12c7e6"/><rect x="517.50" y="381.25" width="2.25" height="2.25" fill="#8000ff"/><rect x="519.75" y="381.25" width="2.25" height="2.25" fill="#8000ff"/><rect x="524.25" y="381.25" width="2.25" height="2.25" fill="#12c7e6"/><rect x="537.75" y="381.25" width="2.25" height="2.25" fill="#5bf9c7"/><rect x="551.25" y="381.25" width="2.25" height="2.25" fill="#12c7e6"/><rect x="132.75" y="383.50" width="2.25" height="2.25" fill="#12c7e6"/><rect x="150.75" y="383.50" width="2.25" height="2.25" fill="#12c7e6"/><rect x="173.25" y="383.50" width="2.25" height="2.25" fill="#376ff9"/><rect x="207.00" y="383.50" width="2.25" height="2.25" fill="#ff6f39"/><rect x="213.75" y="383.50" width="2.25" height="2.25" fill="#ff6f39"/><rect x="218.25" y="383.50" width="2.25" height="2.25" fill="#12c7e6"/><rect x="249.75" y="383.50" width="2.25" height="2.25" fill="#376ff9"/><rect x="256.50" y="383.50" width="2.25" height="2.25" fill="#376ff9"/><rect x="261.00" y="383.50" width="2.25" height="2.25" fill="#12c7e6"/><rect x="267.75" y="383.50" width="2.25" height="2.25" fill="#12c7e6"/><rect x="288.00" y="383.50" width="2.25" height="2.25" fill="#376ff9"/><rect x="445.50" y="383.50" width="2.25" height="2.25" fill="#5bf9c7"/><rect x="463.50" y="383.50" width="2.25" height="2.25" fill="#12c7e6"/><rect x="468.00" y="383.50" width="2.25" height="2.25" fill="#5bf9c7"/><rect x="470.25" y="383.50" width="2.25" height="2.25" fill="#5bf9c7"/><rect x="515.25" y="383.50" width="2.25" height="2.25" fill="#12c7e6"/><rect x="517.50" y="383.50" width="2.25" height="2.25" fill="#8000ff"/><rect x="531.00" y="383.50" width="2.25" height="2.25" fill="#ff0000"/><rect x="533.25" y="383.50" width="2.25" height="2.25" fill="#ff0000"/><rect x="537.75" y="383.50" width="2.25" height="2.25" fill="#ff0000"/><rect x="544.50" y="383.50" width="2.25" height="2.25" fill="#ff0000"/><rect x="546.75" y="383.50" width="2.25" height="2.25" fill="#ff0000"/><rect x="549.00" y="383.50" width="2.25" height="2.25" fill="#12c7e6"/><rect x="159.75" y="385.75" width="2.25" height="2.25" fill="#12c7e6"/><rect x="162.00" y="385.75" width="2.25" height="2.25" fill="#376ff9"/><rect x="166.50" y="385.75" width="2.25" height="2.25" fill="#12c7e6"/><rect x="202.50" y="385.75" width="2.25" height="2.25" fill="#12c7e6"/><rect x="211.50" y="385.75" width="2.25" height="2.25" fill="#5bf9c7"/><rect x="222.75" y="385.75" width="2.25" height="2.25" fill="#a4f99f"/><rect x="231.75" y="385.75" width="2.25" height="2.25" fill="#a4f99f"/><rect x="263.25" y="385.75" width="2.25" height="2.25" fill="#12c7e6"/><rect x="339.75" y="385.75" width="2.25" height="2.25" fill="#12c7e6"/><rect x="344.25" y="385.75" width="2.25" height="2.25" fill="#376ff9"/><rect x="348.75" y="385.75" width="2.25" height="2.25" fill="#12c7e6"/><rect x="432.00" y="385.75" width="2.25" height="2.25" fill="#376ff9"/><rect x="436.50" y="385.75" width="2.25" height="2.25" fill="#ff6f39"/><rect x="445.50" y="385.75" width="2.25" height="2.25" fill="#ff6f39"/><rect x="447.75" y="385.75" width="2.25" height="2.25" fill="#12c7e6"/><rect x="526.50" y="385.75" width="2.25" height="2.25" fill="#12c7e6"/><rect x="531.00" y="385.75" width="2.25" height="2.25" fill="#5bf9c7"/><rect x="535.50" y="385.75" width="2.25" height="2.25" fill="#12c7e6"/><rect x="155.25" y="388.00" width="2.25" height="2.25" fill="#a4f99f"/><rect x="198.00" y="388.00" width="2.25" height="2.25" fill="#ff0000"/><rect x="200.25" y="388.00" width="2.25" height="2.25" fill="#ff0000"/><rect x="204.75" y="388.00" width="2.25" height="2.25" fill="#ff0000"/><rect x="207.00" y="388.00" width="2.25" height="2.25" fill="#ff6f39"/><rect x="227.25" y="388.00" width="2.25" height="2.25" fill="#8000ff"/><rect x="290.25" y="388.00" width="2.25" height="2.25" fill="#8000ff"/><rect x="348.75" y="388.00" width="2.25" height="2.25" fill="#12c7e6"/><rect x="429.75" y="388.00" width="2.25" height="2.25" fill="#ff0000"/><rect x="454.50" y="388.00" width="2.25" height="2.25" fill="#5bf9c7"/><rect x="461.25" y="388.00" width="2.25" height="2.25" fill="#12c7e6"/><rect x="463.50" y="388.00" width="2.25" height="2.25" fill="#376ff9"/><rect x="499.50" y="388.00" width="2.25" height="2.25" fill="#376ff9"/><rect x="524.25" y="388.00" width="2.25" height="2.25" fill="#5bf9c7"/><rect x="528.75" y="388.00" width="2.25" height="2.25" fill="#ff0000"/><rect x="162.00" y="390.25" width="2.25" height="2.25" fill="#376ff9"/><rect x="182.25" y="390.25" width="2.25" height="2.25" fill="#12c7e6"/><rect x="189.00" y="390.25" width="2.25" height="2.25" fill="#12c7e6"/><rect x="207.00" y="390.25" width="2.25" height="2.25" fill="#ff6f39"/><rect x="213.75" y="390.25" width="2.25" height="2.25" fill="#a4f99f"/><rect x="220.50" y="390.25" width="2.25" height="2.25" fill="#12c7e6"/><rect x="339.75" y="390.25" width="2.25" height="2.25" fill="#12c7e6"/><rect x="434.25" y="390.25" width="2.25" height="2.25" fill="#ff0000"/><rect x="445.50" y="390.25" width="2.25" height="2.25" fill="#12c7e6"/><rect x="447.75" y="390.25" width="2.25" height="2.25" fill="#376ff9"/><rect x="459.00" y="390.25" width="2.25" height="2.25" fill="#376ff9"/><rect x="479.25" y="390.25" width="2.25" height="2.25" fill="#ff0000"/><rect x="501.75" y="390.25" width="2.25" height="2.25" fill="#12c7e6"/><rect x="513.00" y="390.25" width="2.25" height="2.25" fill="#376ff9"/><rect x="522.00" y="390.25" width="2.25" height="2.25" fill="#376ff9"/><rect x="524.25" y="390.25" width="2.25" height="2.25" fill="#376ff9"/><rect x="531.00" y="390.25" width="2.25" height="2.25" fill="#376ff9"/><rect x="533.25" y="390.25" width="2.25" height="2.25" fill="#376ff9"/><rect x="535.50" y="390.25" width="2.25" height="2.25" fill="#376ff9"/><rect x="537.75" y="390.25" width="2.25" height="2.25" fill="#ff6f39"/><rect x="153.00" y="392.50" width="2.25" height="2.25" fill="#a4f99f"/><rect x="162.00" y="392.50" width="2.25" height="2.25" fill="#a4f99f"/><rect x="171.00" y="392.50" width="2.25" height="2.25" fill="#12c7e6"/><rect x="173.25" y="392.50" width="2.25" height="2.25" fill="#376ff9"/><rect x="189.00" y="392.50" width="2.25" height="2.25" fill="#376ff9"/><rect x="191.25" y="392.50" width="2.25" height="2.25" fill="#376ff9"/><rect x="213.75" y="392.50" width="2.25" height="2.25" fill="#376ff9"/><rect x="216.00" y="392.50" width="2.25" height="2.25" fill="#8000ff"/><rect x="218.25" y="392.50" width="2.25" height="2.25" fill="#ff6f39"/><rect x="225.00" y="392.50" width="2.25" height="2.25" fill="#a4f99f"/><rect x="290.25" y="392.50" width="2.25" height="2.25" fill="#376ff9"/><rect x="339.75" y="392.50" width="2.25" height="2.25" fill="#12c7e6"/><rect x="436.50" y="392.50" width="2.25" height="2.25" fill="#376ff9"/><rect x="450.00" y="392.50" width="2.25" height="2.25" fill="#5bf9c7"/><rect x="452.25" y="392.50" width="2.25" height="2.25" fill="#5bf9c7"/><rect x="456.75" y="392.50" width="2.25" height="2.25" fill="#a4f99f"/><rect x="463.50" y="392.50" width="2.25" height="2.25" fill="#376ff9"/><rect x="474.75" y="392.50" width="2.25" height="2.25" fill="#ff0000"/><rect x="477.00" y="392.50" width="2.25" height="2.25" fill="#376ff9"/><rect x="479.25" y="392.50" width="2.25" height="2.25" fill="#12c7e6"/><rect x="501.75" y="392.50" width="2.25" height="2.25" fill="#5bf9c7"/><rect x="510.75" y="392.50" width="2.25" height="2.25" fill="#12c7e6"/><rect x="522.00" y="392.50" width="2.25" height="2.25" fill="#376ff9"/><rect x="542.25" y="392.50" width="2.25" height="2.25" fill="#376ff9"/><rect x="546.75" y="392.50" width="2.25" height="2.25" fill="#8000ff"/><rect x="153.00" y="394.75" width="2.25" height="2.25" fill="#376ff9"/><rect x="157.50" y="394.75" width="2.25" height="2.25" fill="#376ff9"/><rect x="159.75" y="394.75" width="2.25" height="2.25" fill="#376ff9"/><rect x="162.00" y="394.75" width="2.25" height="2.25" fill="#376ff9"/><rect x="171.00" y="394.75" width="2.25" height="2.25" fill="#12c7e6"/><rect x="173.25" y="394.75" width="2.25" height="2.25" fill="#376ff9"/><rect x="184.50" y="394.75" width="2.25" height="2.25" fill="#376ff9"/><rect x="193.50" y="394.75" width="2.25" height="2.25" fill="#376ff9"/><rect x="225.00" y="394.75" width="2.25" height="2.25" fill="#a4f99f"/><rect x="236.25" y="394.75" width="2.25" height="2.25" fill="#8000ff"/><rect x="238.50" y="394.75" width="2.25" height="2.25" fill="#a4f99f"/><rect x="441.00" y="394.75" width="2.25" height="2.25" fill="#376ff9"/><rect x="447.75" y="394.75" width="2.25" height="2.25" fill="#12c7e6"/><rect x="456.75" y="394.75" width="2.25" height="2.25" fill="#ff0000"/><rect x="461.25" y="394.75" width="2.25" height="2.25" fill="#ff0000"/><rect x="465.75" y="394.75" width="2.25" height="2.25" fill="#12c7e6"/><rect x="468.00" y="394.75" width="2.25" height="2.25" fill="#a4f99f"/><rect x="470.25" y="394.75" width="2.25" height="2.25" fill="#12c7e6"/><rect x="506.25" y="394.75" width="2.25" height="2.25" fill="#376ff9"/><rect x="508.50" y="394.75" width="2.25" height="2.25" fill="#12c7e6"/><rect x="526.50" y="394.75" width="2.25" height="2.25" fill="#12c7e6"/><rect x="546.75" y="394.75" width="2.25" height="2.25" fill="#8000ff"/><rect x="551.25" y="394.75" width="2.25" height="2.25" fill="#ff0000"/><rect x="157.50" y="397.00" width="2.25" height="2.25" fill="#12c7e6"/><rect x="171.00" y="397.00" width="2.25" height="2.25" fill="#376ff9"/><rect x="182.25" y="397.00" width="2.25" height="2.25" fill="#376ff9"/><rect x="184.50" y="397.00" width="2.25" height="2.25" fill="#12c7e6"/><rect x="211.50" y="397.00" width="2.25" height="2.25" fill="#5bf9c7"/><rect x="297.00" y="397.00" width="2.25" height="2.25" fill="#376ff9"/><rect x="445.50" y="397.00" width="2.25" height="2.25" fill="#ff0000"/><rect x="447.75" y="397.00" width="2.25" height="2.25" fill="#12c7e6"/><rect x="461.25" y="397.00" width="2.25" height="2.25" fill="#376ff9"/><rect x="463.50" y="397.00" width="2.25" height="2.25" fill="#376ff9"/><rect x="465.75" y="397.00" width="2.25" height="2.25" fill="#376ff9"/><rect x="477.00" y="397.00" width="2.25" height="2.25" fill="#ff0000"/><rect x="481.50" y="397.00" width="2.25" height="2.25" fill="#ff0000"/><rect x="508.50" y="397.00" width="2.25" height="2.25" fill="#376ff9"/><rect x="540.00" y="397.00" width="2.25" height="2.25" fill="#ff0000"/><rect x="157.50" y="399.25" width="2.25" height="2.25" fill="#ff0000"/><rect x="171.00" y="399.25" width="2.25" height="2.25" fill="#376ff9"/><rect x="175.50" y="399.25" width="2.25" height="2.25" fill="#ff6f39"/><rect x="182.25" y="399.25" width="2.25" height="2.25" fill="#376ff9"/><rect x="184.50" y="399.25" width="2.25" height="2.25" fill="#12c7e6"/><rect x="186.75" y="399.25" width="2.25" height="2.25" fill="#ff6f39"/><rect x="189.00" y="399.25" width="2.25" height="2.25" fill="#ff0000"/><rect x="191.25" y="399.25" width="2.25" height="2.25" fill="#ff0000"/><rect x="200.25" y="399.25" width="2.25" height="2.25" fill="#ff0000"/><rect x="238.50" y="399.25" width="2.25" height="2.25" fill="#a4f99f"/><rect x="301.50" y="399.25" width="2.25" height="2.25" fill="#8000ff"/><rect x="429.75" y="399.25" width="2.25" height="2.25" fill="#376ff9"/><rect x="441.00" y="399.25" width="2.25" height="2.25" fill="#12c7e6"/><rect x="445.50" y="399.25" width="2.25" height="2.25" fill="#376ff9"/><rect x="465.75" y="399.25" width="2.25" height="2.25" fill="#ff6f39"/><rect x="483.75" y="399.25" width="2.25" height="2.25" fill="#12c7e6"/><rect x="522.00" y="399.25" width="2.25" height="2.25" fill="#376ff9"/><rect x="533.25" y="399.25" width="2.25" height="2.25" fill="#ff0000"/><rect x="157.50" y="401.50" width="2.25" height="2.25" fill="#376ff9"/><rect x="171.00" y="401.50" width="2.25" height="2.25" fill="#ff0000"/><rect x="173.25" y="401.50" width="2.25" height="2.25" fill="#376ff9"/><rect x="189.00" y="401.50" width="2.25" height="2.25" fill="#5bf9c7"/><rect x="195.75" y="401.50" width="2.25" height="2.25" fill="#5bf9c7"/><rect x="200.25" y="401.50" width="2.25" height="2.25" fill="#a4f99f"/><rect x="227.25" y="401.50" width="2.25" height="2.25" fill="#8000ff"/><rect x="229.50" y="401.50" width="2.25" height="2.25" fill="#8000ff"/><rect x="234.00" y="401.50" width="2.25" height="2.25" fill="#8000ff"/><rect x="297.00" y="401.50" width="2.25" height="2.25" fill="#376ff9"/><rect x="398.25" y="401.50" width="2.25" height="2.25" fill="#376ff9"/><rect x="429.75" y="401.50" width="2.25" height="2.25" fill="#8000ff"/><rect x="445.50" y="401.50" width="2.25" height="2.25" fill="#12c7e6"/><rect x="468.00" y="401.50" width="2.25" height="2.25" fill="#376ff9"/><rect x="481.50" y="401.50" width="2.25" height="2.25" fill="#12c7e6"/><rect x="486.00" y="401.50" width="2.25" height="2.25" fill="#12c7e6"/><rect x="537.75" y="401.50" width="2.25" height="2.25" fill="#5bf9c7"/><rect x="544.50" y="401.50" width="2.25" height="2.25" fill="#8000ff"/><rect x="546.75" y="401.50" width="2.25" height="2.25" fill="#a4f99f"/><rect x="153.00" y="403.75" width="2.25" height="2.25" fill="#ff0000"/><rect x="157.50" y="403.75" width="2.25" height="2.25" fill="#376ff9"/><rect x="159.75" y="403.75" width="2.25" height="2.25" fill="#5bf9c7"/><rect x="166.50" y="403.75" width="2.25" height="2.25" fill="#5bf9c7"/><rect x="168.75" y="403.75" width="2.25" height="2.25" fill="#12c7e6"/><rect x="171.00" y="403.75" width="2.25" height="2.25" fill="#ff0000"/><rect x="180.00" y="403.75" width="2.25" height="2.25" fill="#376ff9"/><rect x="182.25" y="403.75" width="2.25" height="2.25" fill="#a4f99f"/><rect x="186.75" y="403.75" width="2.25" height="2.25" fill="#ff6f39"/><rect x="193.50" y="403.75" width="2.25" height="2.25" fill="#5bf9c7"/><rect x="195.75" y="403.75" width="2.25" height="2.25" fill="#376ff9"/><rect x="198.00" y="403.75" width="2.25" height="2.25" fill="#5bf9c7"/><rect x="238.50" y="403.75" width="2.25" height="2.25" fill="#a4f99f"/><rect x="247.50" y="403.75" width="2.25" height="2.25" fill="#8000ff"/><rect x="301.50" y="403.75" width="2.25" height="2.25" fill="#8000ff"/><rect x="402.75" y="403.75" width="2.25" height="2.25" fill="#8000ff"/><rect x="454.50" y="403.75" width="2.25" height="2.25" fill="#8000ff"/><rect x="465.75" y="403.75" width="2.25" height="2.25" fill="#ff6f39"/><rect x="468.00" y="403.75" width="2.25" height="2.25" fill="#12c7e6"/><rect x="519.75" y="403.75" width="2.25" height="2.25" fill="#12c7e6"/><rect x="528.75" y="403.75" width="2.25" height="2.25" fill="#5bf9c7"/><rect x="542.25" y="403.75" width="2.25" height="2.25" fill="#8000ff"/><rect x="546.75" y="403.75" width="2.25" height="2.25" fill="#8000ff"/><rect x="155.25" y="406.00" width="2.25" height="2.25" fill="#ff0000"/><rect x="182.25" y="406.00" width="2.25" height="2.25" fill="#ff6f39"/><rect x="184.50" y="406.00" width="2.25" height="2.25" fill="#ff0000"/><rect x="186.75" y="406.00" width="2.25" height="2.25" fill="#12c7e6"/><rect x="193.50" y="406.00" width="2.25" height="2.25" fill="#ff0000"/><rect x="198.00" y="406.00" width="2.25" height="2.25" fill="#ff6f39"/><rect x="202.50" y="406.00" width="2.25" height="2.25" fill="#ff0000"/><rect x="213.75" y="406.00" width="2.25" height="2.25" fill="#8000ff"/><rect x="216.00" y="406.00" width="2.25" height="2.25" fill="#5bf9c7"/><rect x="247.50" y="406.00" width="2.25" height="2.25" fill="#8000ff"/><rect x="249.75" y="406.00" width="2.25" height="2.25" fill="#8000ff"/><rect x="294.75" y="406.00" width="2.25" height="2.25" fill="#8000ff"/><rect x="319.50" y="406.00" width="2.25" height="2.25" fill="#376ff9"/><rect x="324.00" y="406.00" width="2.25" height="2.25" fill="#376ff9"/><rect x="423.00" y="406.00" width="2.25" height="2.25" fill="#8000ff"/><rect x="432.00" y="406.00" width="2.25" height="2.25" fill="#376ff9"/><rect x="454.50" y="406.00" width="2.25" height="2.25" fill="#376ff9"/><rect x="470.25" y="406.00" width="2.25" height="2.25" fill="#5bf9c7"/><rect x="474.75" y="406.00" width="2.25" height="2.25" fill="#a4f99f"/><rect x="486.00" y="406.00" width="2.25" height="2.25" fill="#5bf9c7"/><rect x="499.50" y="406.00" width="2.25" height="2.25" fill="#12c7e6"/><rect x="517.50" y="406.00" width="2.25" height="2.25" fill="#376ff9"/><rect x="522.00" y="406.00" width="2.25" height="2.25" fill="#12c7e6"/><rect x="533.25" y="406.00" width="2.25" height="2.25" fill="#12c7e6"/><rect x="540.00" y="406.00" width="2.25" height="2.25" fill="#12c7e6"/><rect x="551.25" y="406.00" width="2.25" height="2.25" fill="#376ff9"/><rect x="155.25" y="408.25" width="2.25" height="2.25" fill="#ff0000"/><rect x="162.00" y="408.25" width="2.25" height="2.25" fill="#12c7e6"/><rect x="164.25" y="408.25" width="2.25" height="2.25" fill="#376ff9"/><rect x="175.50" y="408.25" width="2.25" height="2.25" fill="#12c7e6"/><rect x="182.25" y="408.25" width="2.25" height="2.25" fill="#ff6f39"/><rect x="191.25" y="408.25" width="2.25" height="2.25" fill="#12c7e6"/><rect x="195.75" y="408.25" width="2.25" height="2.25" fill="#12c7e6"/><rect x="211.50" y="408.25" width="2.25" height="2.25" fill="#5bf9c7"/><rect x="227.25" y="408.25" width="2.25" height="2.25" fill="#376ff9"/><rect x="243.00" y="408.25" width="2.25" height="2.25" fill="#8000ff"/><rect x="252.00" y="408.25" width="2.25" height="2.25" fill="#376ff9"/><rect x="297.00" y="408.25" width="2.25" height="2.25" fill="#8000ff"/><rect x="317.25" y="408.25" width="2.25" height="2.25" fill="#376ff9"/><rect x="324.00" y="408.25" width="2.25" height="2.25" fill="#376ff9"/><rect x="326.25" y="408.25" width="2.25" height="2.25" fill="#376ff9"/><rect x="438.75" y="408.25" width="2.25" height="2.25" fill="#376ff9"/><rect x="454.50" y="408.25" width="2.25" height="2.25" fill="#376ff9"/><rect x="456.75" y="408.25" width="2.25" height="2.25" fill="#376ff9"/><rect x="472.50" y="408.25" width="2.25" height="2.25" fill="#12c7e6"/><rect x="481.50" y="408.25" width="2.25" height="2.25" fill="#376ff9"/><rect x="488.25" y="408.25" width="2.25" height="2.25" fill="#12c7e6"/><rect x="490.50" y="408.25" width="2.25" height="2.25" fill="#376ff9"/><rect x="495.00" y="408.25" width="2.25" height="2.25" fill="#12c7e6"/><rect x="537.75" y="408.25" width="2.25" height="2.25" fill="#5bf9c7"/><rect x="551.25" y="408.25" width="2.25" height="2.25" fill="#376ff9"/><rect x="175.50" y="410.50" width="2.25" height="2.25" fill="#5bf9c7"/><rect x="195.75" y="410.50" width="2.25" height="2.25" fill="#ff6f39"/><rect x="198.00" y="410.50" width="2.25" height="2.25" fill="#ff0000"/><rect x="200.25" y="410.50" width="2.25" height="2.25" fill="#ff0000"/><rect x="211.50" y="410.50" width="2.25" height="2.25" fill="#5bf9c7"/><rect x="247.50" y="410.50" width="2.25" height="2.25" fill="#8000ff"/><rect x="288.00" y="410.50" width="2.25" height="2.25" fill="#8000ff"/><rect x="319.50" y="410.50" width="2.25" height="2.25" fill="#376ff9"/><rect x="463.50" y="410.50" width="2.25" height="2.25" fill="#8000ff"/><rect x="474.75" y="410.50" width="2.25" height="2.25" fill="#12c7e6"/><rect x="477.00" y="410.50" width="2.25" height="2.25" fill="#376ff9"/><rect x="479.25" y="410.50" width="2.25" height="2.25" fill="#376ff9"/><rect x="495.00" y="410.50" width="2.25" height="2.25" fill="#5bf9c7"/><rect x="515.25" y="410.50" width="2.25" height="2.25" fill="#8000ff"/><rect x="533.25" y="410.50" width="2.25" height="2.25" fill="#8000ff"/><rect x="549.00" y="410.50" width="2.25" height="2.25" fill="#12c7e6"/><rect x="164.25" y="412.75" width="2.25" height="2.25" fill="#376ff9"/><rect x="173.25" y="412.75" width="2.25" height="2.25" fill="#5bf9c7"/><rect x="175.50" y="412.75" width="2.25" height="2.25" fill="#5bf9c7"/><rect x="195.75" y="412.75" width="2.25" height="2.25" fill="#ff0000"/><rect x="198.00" y="412.75" width="2.25" height="2.25" fill="#ff0000"/><rect x="229.50" y="412.75" width="2.25" height="2.25" fill="#8000ff"/><rect x="285.75" y="412.75" width="2.25" height="2.25" fill="#8000ff"/><rect x="315.00" y="412.75" width="2.25" height="2.25" fill="#376ff9"/><rect x="328.50" y="412.75" width="2.25" height="2.25" fill="#5bf9c7"/><rect x="461.25" y="412.75" width="2.25" height="2.25" fill="#12c7e6"/><rect x="468.00" y="412.75" width="2.25" height="2.25" fill="#ff0000"/><rect x="470.25" y="412.75" width="2.25" height="2.25" fill="#ff0000"/><rect x="472.50" y="412.75" width="2.25" height="2.25" fill="#ff0000"/><rect x="477.00" y="412.75" width="2.25" height="2.25" fill="#12c7e6"/><rect x="481.50" y="412.75" width="2.25" height="2.25" fill="#5bf9c7"/><rect x="483.75" y="412.75" width="2.25" height="2.25" fill="#12c7e6"/><rect x="490.50" y="412.75" width="2.25" height="2.25" fill="#12c7e6"/><rect x="519.75" y="412.75" width="2.25" height="2.25" fill="#12c7e6"/><rect x="540.00" y="412.75" width="2.25" height="2.25" fill="#5bf9c7"/><rect x="544.50" y="412.75" width="2.25" height="2.25" fill="#ff6f39"/><rect x="549.00" y="412.75" width="2.25" height="2.25" fill="#376ff9"/><rect x="171.00" y="415.00" width="2.25" height="2.25" fill="#376ff9"/><rect x="173.25" y="415.00" width="2.25" height="2.25" fill="#376ff9"/><rect x="175.50" y="415.00" width="2.25" height="2.25" fill="#5bf9c7"/><rect x="227.25" y="415.00" width="2.25" height="2.25" fill="#376ff9"/><rect x="447.75" y="415.00" width="2.25" height="2.25" fill="#376ff9"/><rect x="463.50" y="415.00" width="2.25" height="2.25" fill="#8000ff"/><rect x="468.00" y="415.00" width="2.25" height="2.25" fill="#a4f99f"/><rect x="479.25" y="415.00" width="2.25" height="2.25" fill="#ff0000"/><rect x="504.00" y="415.00" width="2.25" height="2.25" fill="#8000ff"/><rect x="506.25" y="415.00" width="2.25" height="2.25" fill="#376ff9"/><rect x="510.75" y="415.00" width="2.25" height="2.25" fill="#12c7e6"/><rect x="513.00" y="415.00" width="2.25" height="2.25" fill="#12c7e6"/><rect x="517.50" y="415.00" width="2.25" height="2.25" fill="#12c7e6"/><rect x="546.75" y="415.00" width="2.25" height="2.25" fill="#ff6f39"/><rect x="164.25" y="417.25" width="2.25" height="2.25" fill="#376ff9"/><rect x="166.50" y="417.25" width="2.25" height="2.25" fill="#376ff9"/><rect x="173.25" y="417.25" width="2.25" height="2.25" fill="#5bf9c7"/><rect x="182.25" y="417.25" width="2.25" height="2.25" fill="#12c7e6"/><rect x="184.50" y="417.25" width="2.25" height="2.25" fill="#12c7e6"/><rect x="186.75" y="417.25" width="2.25" height="2.25" fill="#376ff9"/><rect x="193.50" y="417.25" width="2.25" height="2.25" fill="#376ff9"/><rect x="198.00" y="417.25" width="2.25" height="2.25" fill="#ff6f39"/><rect x="202.50" y="417.25" width="2.25" height="2.25" fill="#ff6f39"/><rect x="204.75" y="417.25" width="2.25" height="2.25" fill="#ff0000"/><rect x="252.00" y="417.25" width="2.25" height="2.25" fill="#376ff9"/><rect x="258.75" y="417.25" width="2.25" height="2.25" fill="#376ff9"/><rect x="288.00" y="417.25" width="2.25" height="2.25" fill="#376ff9"/><rect x="308.25" y="417.25" width="2.25" height="2.25" fill="#376ff9"/><rect x="432.00" y="417.25" width="2.25" height="2.25" fill="#376ff9"/><rect x="468.00" y="417.25" width="2.25" height="2.25" fill="#ff6f39"/><rect x="495.00" y="417.25" width="2.25" height="2.25" fill="#12c7e6"/><rect x="497.25" y="417.25" width="2.25" height="2.25" fill="#12c7e6"/><rect x="508.50" y="417.25" width="2.25" height="2.25" fill="#12c7e6"/><rect x="515.25" y="417.25" width="2.25" height="2.25" fill="#376ff9"/><rect x="517.50" y="417.25" width="2.25" height="2.25" fill="#12c7e6"/><rect x="551.25" y="417.25" width="2.25" height="2.25" fill="#ff0000"/><rect x="168.75" y="419.50" width="2.25" height="2.25" fill="#12c7e6"/><rect x="175.50" y="419.50" width="2.25" height="2.25" fill="#376ff9"/><rect x="182.25" y="419.50" width="2.25" height="2.25" fill="#a4f99f"/><rect x="191.25" y="419.50" width="2.25" height="2.25" fill="#12c7e6"/><rect x="193.50" y="419.50" width="2.25" height="2.25" fill="#12c7e6"/><rect x="195.75" y="419.50" width="2.25" height="2.25" fill="#ff6f39"/><rect x="200.25" y="419.50" width="2.25" height="2.25" fill="#a4f99f"/><rect x="231.75" y="419.50" width="2.25" height="2.25" fill="#8000ff"/><rect x="261.00" y="419.50" width="2.25" height="2.25" fill="#8000ff"/><rect x="288.00" y="419.50" width="2.25" height="2.25" fill="#376ff9"/><rect x="306.00" y="419.50" width="2.25" height="2.25" fill="#376ff9"/><rect x="315.00" y="419.50" width="2.25" height="2.25" fill="#376ff9"/><rect x="319.50" y="419.50" width="2.25" height="2.25" fill="#376ff9"/><rect x="380.25" y="419.50" width="2.25" height="2.25" fill="#8000ff"/><rect x="447.75" y="419.50" width="2.25" height="2.25" fill="#376ff9"/><rect x="465.75" y="419.50" width="2.25" height="2.25" fill="#ff6f39"/><rect x="468.00" y="419.50" width="2.25" height="2.25" fill="#ff0000"/><rect x="470.25" y="419.50" width="2.25" height="2.25" fill="#ff0000"/><rect x="477.00" y="419.50" width="2.25" height="2.25" fill="#ff0000"/><rect x="481.50" y="419.50" width="2.25" height="2.25" fill="#ff0000"/><rect x="483.75" y="419.50" width="2.25" height="2.25" fill="#ff0000"/><rect x="499.50" y="419.50" width="2.25" height="2.25" fill="#12c7e6"/><rect x="504.00" y="419.50" width="2.25" height="2.25" fill="#12c7e6"/><rect x="508.50" y="419.50" width="2.25" height="2.25" fill="#12c7e6"/><rect x="513.00" y="419.50" width="2.25" height="2.25" fill="#376ff9"/><rect x="535.50" y="419.50" width="2.25" height="2.25" fill="#ff0000"/><rect x="164.25" y="421.75" width="2.25" height="2.25" fill="#376ff9"/><rect x="166.50" y="421.75" width="2.25" height="2.25" fill="#12c7e6"/><rect x="171.00" y="421.75" width="2.25" height="2.25" fill="#a4f99f"/><rect x="177.75" y="421.75" width="2.25" height="2.25" fill="#12c7e6"/><rect x="182.25" y="421.75" width="2.25" height="2.25" fill="#376ff9"/><rect x="202.50" y="421.75" width="2.25" height="2.25" fill="#5bf9c7"/><rect x="207.00" y="421.75" width="2.25" height="2.25" fill="#ff6f39"/><rect x="231.75" y="421.75" width="2.25" height="2.25" fill="#8000ff"/><rect x="330.75" y="421.75" width="2.25" height="2.25" fill="#5bf9c7"/><rect x="364.50" y="421.75" width="2.25" height="2.25" fill="#376ff9"/><rect x="387.00" y="421.75" width="2.25" height="2.25" fill="#376ff9"/><rect x="389.25" y="421.75" width="2.25" height="2.25" fill="#376ff9"/><rect x="391.50" y="421.75" width="2.25" height="2.25" fill="#376ff9"/><rect x="402.75" y="421.75" width="2.25" height="2.25" fill="#8000ff"/><rect x="445.50" y="421.75" width="2.25" height="2.25" fill="#8000ff"/><rect x="450.00" y="421.75" width="2.25" height="2.25" fill="#ff0000"/><rect x="459.00" y="421.75" width="2.25" height="2.25" fill="#8000ff"/><rect x="474.75" y="421.75" width="2.25" height="2.25" fill="#ff6f39"/><rect x="492.75" y="421.75" width="2.25" height="2.25" fill="#ff0000"/><rect x="508.50" y="421.75" width="2.25" height="2.25" fill="#12c7e6"/><rect x="513.00" y="421.75" width="2.25" height="2.25" fill="#376ff9"/><rect x="519.75" y="421.75" width="2.25" height="2.25" fill="#12c7e6"/><rect x="542.25" y="421.75" width="2.25" height="2.25" fill="#5bf9c7"/><rect x="171.00" y="424.00" width="2.25" height="2.25" fill="#a4f99f"/><rect x="173.25" y="424.00" width="2.25" height="2.25" fill="#5bf9c7"/><rect x="177.75" y="424.00" width="2.25" height="2.25" fill="#12c7e6"/><rect x="200.25" y="424.00" width="2.25" height="2.25" fill="#376ff9"/><rect x="229.50" y="424.00" width="2.25" height="2.25" fill="#8000ff"/><rect x="263.25" y="424.00" width="2.25" height="2.25" fill="#8000ff"/><rect x="301.50" y="424.00" width="2.25" height="2.25" fill="#12c7e6"/><rect x="308.25" y="424.00" width="2.25" height="2.25" fill="#376ff9"/><rect x="360.00" y="424.00" width="2.25" height="2.25" fill="#376ff9"/><rect x="371.25" y="424.00" width="2.25" height="2.25" fill="#376ff9"/><rect x="429.75" y="424.00" width="2.25" height="2.25" fill="#8000ff"/><rect x="454.50" y="424.00" width="2.25" height="2.25" fill="#376ff9"/><rect x="463.50" y="424.00" width="2.25" height="2.25" fill="#12c7e6"/><rect x="481.50" y="424.00" width="2.25" height="2.25" fill="#5bf9c7"/><rect x="495.00" y="424.00" width="2.25" height="2.25" fill="#376ff9"/><rect x="508.50" y="424.00" width="2.25" height="2.25" fill="#12c7e6"/><rect x="513.00" y="424.00" width="2.25" height="2.25" fill="#8000ff"/><rect x="528.75" y="424.00" width="2.25" height="2.25" fill="#8000ff"/><rect x="533.25" y="424.00" width="2.25" height="2.25" fill="#376ff9"/><rect x="204.75" y="426.25" width="2.25" height="2.25" fill="#376ff9"/><rect x="227.25" y="426.25" width="2.25" height="2.25" fill="#376ff9"/><rect x="265.50" y="426.25" width="2.25" height="2.25" fill="#376ff9"/><rect x="357.75" y="426.25" width="2.25" height="2.25" fill="#8000ff"/><rect x="445.50" y="426.25" width="2.25" height="2.25" fill="#8000ff"/><rect x="456.75" y="426.25" width="2.25" height="2.25" fill="#376ff9"/><rect x="465.75" y="426.25" width="2.25" height="2.25" fill="#ff6f39"/><rect x="468.00" y="426.25" width="2.25" height="2.25" fill="#ff6f39"/><rect x="472.50" y="426.25" width="2.25" height="2.25" fill="#5bf9c7"/><rect x="495.00" y="426.25" width="2.25" height="2.25" fill="#376ff9"/><rect x="531.00" y="426.25" width="2.25" height="2.25" fill="#ff6f39"/><rect x="535.50" y="426.25" width="2.25" height="2.25" fill="#ff0000"/><rect x="546.75" y="426.25" width="2.25" height="2.25" fill="#8000ff"/>
<g shape-rendering="geometricPrecision"><polygon fill="#fff" stroke="#000" stroke-width="1.9" stroke-linejoin="round" points="116,165.7 124.4,165.7 126.1,164.5 132.8,162.8 141.3,161.2 149.7,160.3 159.8,159.8 166.5,160 173.3,161.2 180,163.2 186.8,166.2 193.5,169.6 200.2,172.1 207,173.8 213.7,174.6 216,175.5 222.1,175.1 228.3,173.9 233.2,172.4 236.8,171.1 238.1,170.2 234.4,168.4 231.9,164.7 228.9,159.8 229.5,159.2 231.9,159.2 235.6,158.6 240.5,156.7 242.3,154.9 245.4,154.7 249.1,154.9 252.1,155.5 252.8,157.4 251.5,158.6 252.8,160.4 256.4,160.4 260.1,160.8 263.2,161 263.8,163.5 264.4,167.2 265,168.4 267.5,167.8 269.3,168.4 269.9,170.8 269.3,172.7 270.5,173.9 273.6,174.5 276,173.3 277.3,174.5 278.5,176.3 280.3,177.6 282.2,178.2 284.6,176.3 285.8,173.9 286.4,172.7 288.3,170.8 289.5,171.4 288.9,173.3 287.1,174.5 286.4,176.3 284.6,178.2 283,183 281.7,188 281.7,192.2 284.2,194 288,195.5 292.8,196.6 296,197.6 298.5,198.6 301,199.2 303.5,200.4 305.9,202.3 309.6,202.9 313.3,203.5 315.7,203.5 318.2,202.9 321.9,203.5 325.5,201.7 326.8,199.2 328,195.5 329.2,193.1 331.7,191.9 334.1,191.2 336.6,190.6 338.4,188.8 340.2,189.4 341.5,192.5 343.3,193.1 344.5,192.1 346.4,193.1 348.2,194.3 350,194.9 350.6,198 350,201.7 351.9,207.2 354.9,205.3 358.6,202.9 359.3,199.6 361.1,195.9 360.2,192.3 362,188.6 363.9,185.8 363,183.1 365.7,181.2 370.3,181.2 374.9,180.3 378.6,182.2 381.3,185.8 384.1,187.7 387.8,189.5 391.5,190.4 395.1,192.3 398,194.5 400.4,199.2 402.3,201.7 403.5,204.1 405.3,206.6 406.6,209 407.8,205.3 409,202.9 411.5,202.3 412.7,205.3 415.1,207.8 417.6,210.2 418.8,212.7 420,213.9 420.6,211.5 420,209 421.3,206.6 422.5,205.3 423.7,204.1 426.2,202.9 428,200.4 426.8,198.6 423.7,198 421.3,196.8 420,194.3 418.8,191.9 417.6,189.4 415.7,188.8 413.9,189.4 411.5,187.6 408.4,187 405.3,186.3 401.7,185.7 398,184.5 395.5,182.7 393.1,180.8 390.6,178.4 388.2,175.9 385.7,173.5 383.9,170.4 383.3,168.6 385.7,168 388.2,169.8 388.8,167.4 387,165.5 384.5,164.3 386.3,163.1 389.4,163.7 391.9,164.3 394.3,162.5 395.7,160.2 399.4,157.8 403.1,156.6 406.8,156.6 409,153 410,148 411,143 410.5,139 408,137.5 404.3,137.5 401,138.7 397.7,139.5 395.2,141.2 392.7,143.7 391.8,147.8 390.2,150.3 386.8,151.2 384.3,149.5 382.7,147 381,146.2 378.5,145.3 377.3,142.8 377.7,141.2 379.3,139.5 382.7,138.7 386,137.8 387.7,134.5 390.2,132 392.7,131.2 395.2,132 397.7,132 401,131.2 402.7,128.7 404.3,125.3 406.8,122.8 409.3,121.2 409.3,118.7 407.7,117 408.5,115.75 411,116.2 412.7,117.8 413.5,119.5 415.2,120.3 417.7,119.5 421.8,117.8 426,116.2 430.3,112.4 435.4,112.1 438.8,114.1 443.8,116.6 446,117.5 449.4,117.1 452.7,115 454.4,114.1 456.1,116.6 459.5,117.8 462.8,118.3 465.4,116.1 467.9,115 471.3,114.1 472.5,114.6 475,115.8 478.3,116.7 480.8,117.5 482.5,119.2 483.3,119.2 483.75,113.3 484.6,107.5 485.4,102.5 486.7,98.3 487.9,95 489.2,92.5 490,90.4 490.8,91.7 492.1,94.2 494.2,95.4 495.8,97.5 496.7,100.8 496.7,105 497.1,109.2 498.3,112.5 500.8,114.2 502.1,113.3 502.5,115.8 504.2,119.2 505.8,121.7 506.7,123.3 509.2,124.2 513.3,123.8 516.7,122.5 517.5,120.8 515.8,117.9 516.7,117.5 518.3,120 520,120.8 523.5,121.5 529.5,121.5 535,120.5 538,119.5 538.5,116 540.3,112.4 542.9,107.4 542.9,102.3 544.6,101.5 545.4,105.7 547.1,108.2 548.8,104.9 550.4,100.6 552.1,99.8 553,102.3 554,104 557,104 557,69 113,69 113,165.7"/>
<clipPath id="l1"><polygon points="124.4,144.3 130.3,144.3 131.5,146.8 131.2,151.1 129.5,154.4 126.1,157 123.6,158.6 123.6,162 124.4,164.5 122.7,163.7 121.1,159.5 120.2,155.3 121.1,150.2 122.7,146.8"/></clipPath><g clip-path="url(#l1)"><polygon fill="#ff6f39" points="124.4,144.3 130.3,144.3 131.5,146.8 131.2,151.1 129.5,154.4 126.1,157 123.6,158.6 123.6,162 124.4,164.5 122.7,163.7 121.1,159.5 120.2,155.3 121.1,150.2 122.7,146.8"/><polygon fill="#5bf9c7" points="123,144 131,144 131,149 125,151 122,148"/><rect x="124" y="146" width="2" height="2" fill="#12c7e6"/></g><polygon fill="none" stroke="#000" stroke-width="1.8" stroke-linejoin="round" points="124.4,144.3 130.3,144.3 131.5,146.8 131.2,151.1 129.5,154.4 126.1,157 123.6,158.6 123.6,162 124.4,164.5 122.7,163.7 121.1,159.5 120.2,155.3 121.1,150.2 122.7,146.8"/>
<clipPath id="l2"><polygon points="157.3,136 160.1,137.7 161.8,142.8 162.8,149.5 162.3,152.9 160.1,154.5 156.4,154.2 153.1,153.4 150.5,152 152.2,150.3 155.6,150.3 157.3,146.1 156.9,141.1"/></clipPath><g clip-path="url(#l2)"><polygon fill="#12c7e6" points="157.3,136 160.1,137.7 161.8,142.8 162.8,149.5 162.3,152.9 160.1,154.5 156.4,154.2 153.1,153.4 150.5,152 152.2,150.3 155.6,150.3 157.3,146.1 156.9,141.1"/><polygon fill="#ff6f39" points="150,150 157,149 158,155 150,155"/><rect x="157.5" y="140" width="1.5" height="2" fill="#ff0000"/><rect x="157" y="145" width="1.5" height="2" fill="#ff0000"/><rect x="155.5" y="152" width="2" height="1.5" fill="#ff0000"/><polygon fill="#5bf9c7" points="157,137 160,137 160,142 158,143"/></g><polygon fill="none" stroke="#000" stroke-width="1.8" stroke-linejoin="round" points="157.3,136 160.1,137.7 161.8,142.8 162.8,149.5 162.3,152.9 160.1,154.5 156.4,154.2 153.1,153.4 150.5,152 152.2,150.3 155.6,150.3 157.3,146.1 156.9,141.1"/>
<clipPath id="l3"><polygon points="340.2,127.6 346.1,120.9 352.8,116.1 357.9,116.1 363,117.5 367.2,120.9 371.4,125.1 376.4,125.9 381.5,126.8 382.3,130.1 380.6,134.3 376.4,135.2 371.4,137.7 363,140.2 354.5,141.1 347.8,139.4 342.7,136.9 339.4,132.6"/></clipPath><g clip-path="url(#l3)"><polygon fill="#12c7e6" points="340.2,127.6 346.1,120.9 352.8,116.1 357.9,116.1 363,117.5 367.2,120.9 371.4,125.1 376.4,125.9 381.5,126.8 382.3,130.1 380.6,134.3 376.4,135.2 371.4,137.7 363,140.2 354.5,141.1 347.8,139.4 342.7,136.9 339.4,132.6"/><polygon fill="#376ff9" points="339,128 346,121 350,123 349,132 352,141 341,136"/><polygon fill="#ff0000" points="350,130 356,127 362,131 368,129 372,133 370,138 360,140 352,139"/><polygon fill="#a4f99f" points="348,128 353,128 355,137 349,136"/><polygon fill="#ff6f39" points="354,121 359,121 359,126 354,126"/><polygon fill="#a4f99f" points="371,125 381,127 382,131 376,134 372,132"/><polygon fill="#ff0000" points="374,128 378,128 378,132 374,132"/><polygon fill="#a4f99f" points="362,120 368,122 366,127 361,125"/></g><polygon fill="none" stroke="#000" stroke-width="1.8" stroke-linejoin="round" points="340.2,127.6 346.1,120.9 352.8,116.1 357.9,116.1 363,117.5 367.2,120.9 371.4,125.1 376.4,125.9 381.5,126.8 382.3,130.1 380.6,134.3 376.4,135.2 371.4,137.7 363,140.2 354.5,141.1 347.8,139.4 342.7,136.9 339.4,132.6"/>
<clipPath id="l4"><polygon points="330,123 333,119.1 336.8,118.4 339.9,119.9 339.6,124.5 337.6,128.3 333.8,129.9 330.7,128.3 329.2,125.3"/></clipPath><g clip-path="url(#l4)"><polygon fill="#a4f99f" points="330,123 333,119.1 336.8,118.4 339.9,119.9 339.6,124.5 337.6,128.3 333.8,129.9 330.7,128.3 329.2,125.3"/><polygon fill="#376ff9" points="333,121 337,120 337,126 334,127"/></g><polygon fill="none" stroke="#000" stroke-width="1.8" stroke-linejoin="round" points="330,123 333,119.1 336.8,118.4 339.9,119.9 339.6,124.5 337.6,128.3 333.8,129.9 330.7,128.3 329.2,125.3"/>
<polyline fill="none" stroke="#000" stroke-width="1.7" stroke-linejoin="round" stroke-linecap="round"  points="188.3,145.3 191.5,144.5 195,145.8 190.5,149.8 189.5,151.5 193,152 197.5,152.8 200.3,155.8"/>
<polyline fill="none" stroke="#000" stroke-width="1.5" stroke-linejoin="round" stroke-linecap="round"  points="195.5,147.6 198.6,148.6 199.5,151.2 198,152.6"/>
<polygon fill="#fff" stroke="#000" stroke-width="1.7" stroke-linejoin="round" points="202.8,157 207,154.9 210.3,157 213.7,157 216.7,159 216.2,162 212.9,163.7 209.5,165.4 205.3,162.8 202.8,160.3"/>
<polygon fill="#fff" stroke="#000" stroke-width="1.7" stroke-linejoin="round" points="239.9,170.2 244.2,168.4 249.1,169.6 254,171.4 258.3,173.3 258.9,174.5 256.4,176.3 252.8,178.8 249.1,178.4 244.2,176.3 240.5,174.5 239.3,172.1"/>
<polygon fill="#fff" stroke="#000" stroke-width="1.7" stroke-linejoin="round" points="348.3,153.7 351,151.4 353.8,152.3 354.7,154.1 353.8,155.5 356.5,157.4 357.5,160.1 355.6,162.9 352.9,165.6 349.2,167 346.4,165.6 344.6,163.8 345.1,161 348.3,159.2 351,156.9 349.2,155.1"/>
<polygon fill="#fff" stroke="#000" stroke-width="1.2" stroke-linejoin="round" points="407,200.5 409.5,201.5 407.5,207 405.5,212 403.5,217 402.2,219.8 400.6,219.2 401.8,215 403.5,209.5 405.5,204"/>
<polyline fill="none" stroke="#000" stroke-width="1.3" stroke-linejoin="round" stroke-linecap="round"  points="286.5,182.5 288.5,184.5 290.3,186.1 292.8,187.4 295.2,189.8 296.4,193.5 295.2,195.9"/>
<polyline fill="none" stroke="#000" stroke-width="2.0" stroke-linejoin="round" stroke-linecap="round"  points="412,138.5 417,131.5"/>
<polyline fill="none" stroke="#000" stroke-width="2.0" stroke-linejoin="round" stroke-linecap="round"  points="414.5,141 418.8,136.5"/>
<polyline fill="none" stroke="#000" stroke-width="2.0" stroke-linejoin="round" stroke-linecap="round"  points="411.5,146.5 414.5,144.8"/>
<polyline fill="none" stroke="#000" stroke-width="2.0" stroke-linejoin="round" stroke-linecap="round"  points="410.5,151 413.5,150.2"/>
<polyline fill="none" stroke="#000" stroke-width="2.0" stroke-linejoin="round" stroke-linecap="round"  points="421,131 424,129"/>
<polyline fill="none" stroke="#000" stroke-width="1.9" stroke-linejoin="round" stroke-linecap="round"  points="143,72 145.5,75.7 143.3,78.4 142.6,83.8 140.4,88.8 137.9,93.1 136.2,97.3 134.2,100.6 132.8,103.7 134.2,107.4 132.8,112.4 132,115.8 132.8,120.9 133.4,124.2 134.2,129.3 133.7,134.3 132.8,137.7 130.3,141.1 128.6,143.6 127,144.4"/>
<polyline fill="none" stroke="#000" stroke-width="1.7" stroke-linejoin="round" stroke-linecap="round"  points="383.2,72 381.5,78.7 379,83.8 376.4,90.5 376.4,95.6 378.1,100.6 381.5,105.7 384.9,110.7 387.4,115.8 389.9,122.5 391.6,127.6 392.4,130.1"/>
<polyline fill="none" stroke="#000" stroke-width="1.6" stroke-linejoin="round" stroke-linecap="round"  points="464.5,72 465.9,114.1"/>
<polyline fill="none" stroke="#000" stroke-width="1.8" stroke-linejoin="round" stroke-linecap="round"  points="515.9,72 515.1,80.4 518.4,85.5 523.5,88.8 528.5,93.9 527.7,100.6 526.9,107.4 528.5,110.7 530.2,112.4 528.5,115.8 525.2,117.5"/>
<polyline fill="none" stroke="#000" stroke-width="2.2" stroke-linejoin="round" stroke-linecap="round"  points="307.2,209.6 313.3,210.8"/>
<polyline fill="none" stroke="#000" stroke-width="2.2" stroke-linejoin="round" stroke-linecap="round"  points="318.2,209.4 326.8,209.8"/>
<polyline fill="none" stroke="#000" stroke-width="2.2" stroke-linejoin="round" stroke-linecap="round"  points="334.1,208.6 341.5,209.8"/>
<polyline fill="none" stroke="#000" stroke-width="2.2" stroke-linejoin="round" stroke-linecap="round"  points="343.9,208.8 347.6,209.4"/>
<polyline fill="none" stroke="#000" stroke-width="2.2" stroke-linejoin="round" stroke-linecap="round"  points="443.4,126 455,126.8 466.3,127.4"/>
<polyline fill="none" stroke="#000" stroke-width="2.2" stroke-linejoin="round" stroke-linecap="round"  points="471,125.3 487.5,125.3"/>
<polyline fill="none" stroke="#000" stroke-width="2.2" stroke-linejoin="round" stroke-linecap="round"  points="489,126.2 505,126.2"/>
<polyline fill="none" stroke="#000" stroke-width="2.2" stroke-linejoin="round" stroke-linecap="round"  points="419,126.5 426.4,125"/>
<polyline fill="none" stroke="#000" stroke-width="2.2" stroke-linejoin="round" stroke-linecap="round"  points="428.8,127.8 433.7,127.6"/>
<polyline fill="none" stroke="#000" stroke-width="2.2" stroke-linejoin="round" stroke-linecap="round"  points="443.3,125.8 450,126"/>
<polyline fill="none" stroke="#000" stroke-width="2.2" stroke-linejoin="round" stroke-linecap="round"  points="536,120.2 545,118.6 555,117"/>
<polyline fill="none" stroke="#000" stroke-width="1.6" stroke-linejoin="round" stroke-linecap="round" stroke-dasharray="9,3,6,3" points="436.8,138.2 439.2,140.6 440.4,145.5 440.4,151.7 439.8,157.8 438,162.7 434.9,167 431.3,170 426.2,173 420,177 414,181"/>
<polyline fill="none" stroke="#000" stroke-width="1.8" stroke-linejoin="round" stroke-linecap="round"  points="428.6,168.5 436,162.5"/></g>
<g shape-rendering="geometricPrecision"><rect x="376.7" y="156.8" width="1.6" height="1.6" fill="#ff0000"/><rect x="378.9" y="164.3" width="1.6" height="1.6" fill="#ff0000"/><rect x="382.1" y="170.8" width="1.6" height="1.6" fill="#ff0000"/><rect x="385.3" y="172.9" width="1.6" height="1.6" fill="#ff0000"/><rect x="389.6" y="177.2" width="1.6" height="1.6" fill="#ff0000"/><rect x="374.6" y="181.5" width="1.6" height="1.6" fill="#ff0000"/><rect x="370.3" y="184.7" width="1.6" height="1.6" fill="#ff0000"/><rect x="366.0" y="174.0" width="1.6" height="1.6" fill="#ff0000"/><rect x="359.6" y="170.8" width="1.6" height="1.6" fill="#ff0000"/><rect x="357.4" y="175.0" width="1.6" height="1.6" fill="#ff0000"/><rect x="400.3" y="157.9" width="1.6" height="1.6" fill="#ff0000"/><rect x="404.6" y="162.2" width="1.6" height="1.6" fill="#ff0000"/><rect x="393.9" y="170.8" width="1.6" height="1.6" fill="#ff0000"/><rect x="398.2" y="175.0" width="1.6" height="1.6" fill="#ff0000"/><rect x="402.5" y="185.8" width="1.6" height="1.6" fill="#ff0000"/><rect x="406.8" y="190.1" width="1.6" height="1.6" fill="#ff0000"/><rect x="396.0" y="190.1" width="1.6" height="1.6" fill="#ff0000"/><rect x="387.5" y="187.9" width="1.6" height="1.6" fill="#ff0000"/><rect x="411.0" y="194.3" width="1.6" height="1.6" fill="#ff0000"/><rect x="415.3" y="192.2" width="1.6" height="1.6" fill="#ff0000"/><rect x="381.0" y="184.7" width="1.6" height="1.6" fill="#ff0000"/><rect x="377.8" y="190.1" width="1.6" height="1.6" fill="#ff0000"/><rect x="390.7" y="164.3" width="1.6" height="1.6" fill="#ff0000"/><rect x="385.3" y="161.1" width="1.6" height="1.6" fill="#ff0000"/><rect x="361.7" y="164.3" width="1.6" height="1.6" fill="#ff0000"/><rect x="410.0" y="200.8" width="1.6" height="1.6" fill="#ff0000"/><rect x="413.2" y="207.2" width="1.6" height="1.6" fill="#ff0000"/><rect x="310.5" y="186" width="1.6" height="1.6" fill="#ff0000"/><rect x="313" y="185" width="1.6" height="1.6" fill="#ff0000"/><rect x="318" y="188" width="1.6" height="1.6" fill="#ff0000"/><rect x="305" y="190" width="1.6" height="1.6" fill="#ff0000"/><rect x="322" y="192" width="1.6" height="1.6" fill="#ff0000"/><rect x="307.5" y="194.5" width="1.6" height="1.6" fill="#ff0000"/><rect x="301" y="196" width="1.6" height="1.6" fill="#ff0000"/><rect x="296" y="190.5" width="1.6" height="1.6" fill="#ff0000"/></g>
</g>
<g stroke="#808080" stroke-opacity="0.55" stroke-width="1.3" stroke-dasharray="1.35,2.33" fill="none">
<line x1="179.5" y1="72" x2="179.5" y2="428"/><line x1="242" y1="72" x2="242" y2="428"/><line x1="304.5" y1="72" x2="304.5" y2="428"/><line x1="367" y1="72" x2="367" y2="428"/><line x1="429.5" y1="72" x2="429.5" y2="428"/><line x1="492" y1="72" x2="492" y2="428"/><line x1="116" y1="143.3" x2="554" y2="143.3"/><line x1="116" y1="214.5" x2="554" y2="214.5"/><line x1="116" y1="285.5" x2="554" y2="285.5"/><line x1="116" y1="356.5" x2="554" y2="356.5"/>
</g>
<rect x="116.5" y="72.5" width="438" height="356" fill="none" stroke="#000" stroke-width="1.1"/>
<g><rect x="120.00" y="465" width="53.85" height="27" fill="#8000ff"/><rect x="173.75" y="465" width="53.85" height="27" fill="#376ff9"/><rect x="227.50" y="465" width="53.85" height="27" fill="#12c7e6"/><rect x="281.25" y="465" width="53.85" height="27" fill="#5bf9c7"/><rect x="335.00" y="465" width="53.85" height="27" fill="#a4f99f"/><rect x="388.75" y="465" width="53.85" height="27" fill="#edc76f"/><rect x="442.50" y="465" width="53.85" height="27" fill="#ff6f39"/><rect x="496.25" y="465" width="53.85" height="27" fill="#ff0000"/></g>
<rect x="120.5" y="465.5" width="430" height="27" fill="none" stroke="#000" stroke-width="1.1"/>
<line x1="147.40" y1="492" x2="147.40" y2="497.4" stroke="#000" stroke-width="1.1"/><text x="147.40" y="512" text-anchor="middle" font-size="13.9">0</text><line x1="201.15" y1="492" x2="201.15" y2="497.4" stroke="#000" stroke-width="1.1"/><text x="201.15" y="512" text-anchor="middle" font-size="13.9">1</text><line x1="254.90" y1="492" x2="254.90" y2="497.4" stroke="#000" stroke-width="1.1"/><text x="254.90" y="512" text-anchor="middle" font-size="13.9">2</text><line x1="308.65" y1="492" x2="308.65" y2="497.4" stroke="#000" stroke-width="1.1"/><text x="308.65" y="512" text-anchor="middle" font-size="13.9">3</text><line x1="362.40" y1="492" x2="362.40" y2="497.4" stroke="#000" stroke-width="1.1"/><text x="362.40" y="512" text-anchor="middle" font-size="13.9">4</text><line x1="416.15" y1="492" x2="416.15" y2="497.4" stroke="#000" stroke-width="1.1"/><text x="416.15" y="512" text-anchor="middle" font-size="13.9">5</text><line x1="469.90" y1="492" x2="469.90" y2="497.4" stroke="#000" stroke-width="1.1"/><text x="469.90" y="512" text-anchor="middle" font-size="13.9">6</text><line x1="523.65" y1="492" x2="523.65" y2="497.4" stroke="#000" stroke-width="1.1"/><text x="523.65" y="512" text-anchor="middle" font-size="13.9">7</text>
<text x="335" y="533" text-anchor="middle" font-size="15.3">Data Age (days)</text>
</svg>
</body></html>
